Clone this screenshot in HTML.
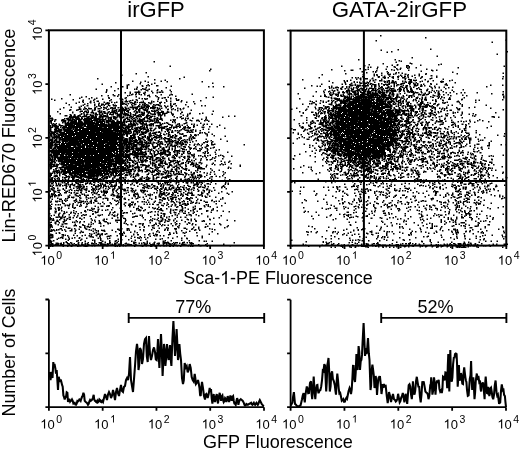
<!DOCTYPE html>
<html><head><meta charset="utf-8"><style>
html,body{margin:0;padding:0;background:#fff;width:520px;height:449px;overflow:hidden}
svg{display:block;will-change:transform}
text{font-family:"Liberation Sans",sans-serif}
</style></head><body>
<svg width="520" height="449" viewBox="0 0 520 449" font-family="Liberation Sans, sans-serif" fill="#000"><g transform="scale(0.5)"><path d="M307 123.5h3m29 9h3m78 6h3m-5 3h3m-130 4h3m-23 2h3m-32 3h3m50 3h3m69 1h3m-176 3h3m161 0h3m-53 2h3m18 1h3m-68 2h3m22 0h3m29 0h3m9 1h3m67 0h3m-126 1h3m12 0h3m-68 1h3m75 1h3m113 0h3m-148 1h3m-79 1h3m96 0h3m-49 1h3m36 0h3m-45 1h3m27 1h3m6 0h3m2 0h3m12 0h3m-1 0h3m-33 1h3m54 0h3m-123 1h3m20 0h3m6 0h3m160 0h3m6 0h3m18 0h3m-176 1h3m15 1h3m37 0h3m-94 1h3m10 0h3m-21 1h3m34 0h3m9 0h3m-96 1h3m74 0h3m1 0h3m12 0h3m-1 0h3m5 0h3m-88 1h3m66 0h3m30 0h3m-26 1h3m-1 0h3m-2 0h3m42 0h3m-130 1h3m13 0h3m63 0h3m16 0h3m6 0h3m-49 1h3m23 0h3m36 1h3m-133 1h3m45 0h3m7 0h3m0 0h3m-1 0h3m1 0h3m8 0h3m25 0h3m0 0h3m1 0h3m-78 1h3m24 0h3m25 0h3m6 0h3m-57 1h3m24 0h3m-18 1h3m14 0h3m-27 1h3m10 0h3m61 0h3m39 0h3m-247 1h3m83 0h3m8 0h3m23 0h3m5 0h3m8 0h3m4 0h3m30 0h3m19 0h3m-88 1h3m36 0h3m38 0h3m-139 1h3m10 0h3m9 0h3m-2 0h3m23 0h3m37 0h3m13 0h3m-79 1h3m113 0h3m-182 1h3m97 0h3m24 0h3m12 0h3m-154 1h3m170 0h3m87 0h3m-246 1h3m31 0h3m32 0h3m62 0h3m8 0h3m-1 0h3m79 0h3m-256 1h3m31 0h3m22 0h3m29 0h3m25 0h3m43 0h3m14 0h3m-221 1h3m52 0h3m59 0h3m0 0h3m38 0h3m2 0h3m2 0h3m44 0h3m8 0h3m-252 1h3m83 0h3m13 0h3m83 0h3m22 0h3m-173 1h3m73 0h3m20 0h3m24 0h3m57 0h3m22 0h3m-251 1h3m54 0h3m18 0h3m62 0h3m10 0h3m6 0h3m76 0h3m0 0h3m-140 1h3m39 0h3m99 0h3m35 0h3m-239 1h3m13 0h3m10 0h3m-1 0h3m59 0h3m25 0h3m14 0h3m9 0h3m15 0h3m5 0h3m-100 1h3m3 0h3m0 0h3m-2 0h3m13 0h3m34 0h3m52 0h3m22 0h3m-232 1h3m5 0h3m11 0h3m5 0h3m17 0h3m12 0h3m7 0h3m9 0h3m21 0h3m-2 0h3m1 0h3m5 0h3m37 0h3m48 0h3m-195 1h3m31 0h3m11 0h3m28 0h3m0 0h3m13 0h3m2 0h3m0 0h3m7 0h3m3 0h3m13 0h3m7 0h3m-200 1h3m17 0h3m43 0h3m11 0h3m0 0h3m-2 0h3m-1 0h3m44 0h3m21 0h3m8 0h3m-2 0h3m37 0h3m-169 1h3m66 0h3m0 0h3m-2 0h3m5 0h3m9 0h3m19 0h3m8 0h3m16 0h3m18 0h3m6 0h3m36 0h3m-223 1h3m17 0h3m5 0h3m3 0h3m0 0h3m2 0h3m31 0h3m3 0h3m-2 0h3m14 0h3m-1 0h3m15 0h3m55 0h3m-212 1h3m75 0h3m7 0h3m12 0h3m19 0h3m3 0h3m7 0h3m3 0h3m5 0h3m11 0h3m3 0h3m0 0h3m52 0h3m-208 1h3m20 0h3m11 0h3m2 0h3m6 0h3m10 0h3m55 0h3m4 0h3m-2 0h3m11 0h3m4 0h3m21 0h3m-170 1h3m-2 0h3m11 0h3m5 0h3m19 0h3m5 0h3m2 0h3m19 0h3m8 0h3m9 0h3m10 0h3m1 0h3m22 0h3m7 0h3m20 0h3m48 0h3m4 0h3m-251 1h3m35 0h3m62 0h3m15 0h3m2 0h3m-2 0h3m4 0h3m-1 0h3m4 0h3m14 0h3m10 0h3m4 0h3m-1 0h3m-154 1h3m18 0h3m25 0h3m-2 0h3m29 0h3m0 0h3m1 0h3m8 0h3m11 0h3m21 0h3m42 0h3m-237 1h3m13 0h3m8 0h3m35 0h3m20 0h3m17 0h3m7 0h3m-1 0h3m-2 0h3m-2 0h3m2 0h3m0 0h3m11 0h3m-1 0h3m2 0h3m0 0h3m11 0h3m-186 1h3m29 0h3m28 0h3m9 0h3m4 0h3m10 0h3m-1 0h3m9 0h3m1 0h3m1 0h3m17 0h3m-1 0h3m14 0h3m6 0h3m6 0h3m0 0h3m-1 0h3m5 0h3m15 0h3m7 0h3m-168 1h3m9 0h3m20 0h3m6 0h3m1 0h3m0 0h3m-1 0h3m10 0h3m-1 0h3m3 0h3m-2 0h3m1 0h3m7 0h3m-2 0h3m1 0h3m0 0h3m5 0h3m11 0h3m2 0h3m1 0h3m-2 0h3m-1 0h3m4 0h3m1 0h3m1 0h3m29 0h3m9 0h3m-200 1h3m-2 0h3m-2 0h3m4 0h3m0 0h3m11 0h3m0 0h3m44 0h3m25 0h3m2 0h3m3 0h3m3 0h3m12 0h3m0 0h3m34 0h3m6 0h3m2 0h3m3 0h3m-249 1h3m35 0h3m0 0h3m3 0h3m19 0h3m-2 0h3m14 0h3m7 0h3m5 0h3m16 0h3m3 0h3m0 0h3m3 0h3m4 0h3m18 0h3m-2 0h3m25 0h3m17 0h3m-198 1h3m12 0h3m16 0h3m36 0h3m16 0h3m2 0h3m5 0h3m0 0h3m-2 0h3m5 0h3m11 0h3m2 0h3m-1 0h3m9 0h3m1 0h3m22 0h3m12 0h3m5 0h3m4 0h3m8 0h3m-225 1h3m11 0h3m29 0h3m1 0h3m32 0h3m2 0h3m-1 0h3m11 0h3m3 0h3m37 0h3m-1 0h3m17 0h3m-2 0h3m65 0h3m-186 1h3m26 0h3m1 0h3m3 0h3m-2 0h3m-1 0h3m11 0h3m-2 0h3m11 0h3m4 0h3m-1 0h3m6 0h3m12 0h3m3 0h3m43 0h3m-197 1h3m0 0h3m3 0h3m-1 0h3m1 0h3m5 0h3m9 0h3m4 0h3m20 0h3m0 0h3m5 0h3m4 0h3m1 0h3m2 0h3m0 0h3m35 0h3m7 0h3m0 0h3m1 0h3m2 0h3m4 0h3m100 0h3m-314 1h3m42 0h3m6 0h3m27 0h3m5 0h3m-1 0h3m6 0h3m3 0h3m6 0h3m7 0h3m2 0h3m17 0h3m2 0h3m17 0h3m2 0h3m8 0h3m14 0h3m6 0h3m-193 1h3m28 0h3m6 0h3m10 0h3m-1 0h3m0 0h3m10 0h3m4 0h3m49 0h3m1 0h3m1 0h3m10 0h3m17 0h3m4 0h3m8 0h3m0 0h3m2 0h3m18 0h3m-2 0h3m-222 1h3m19 0h3m3 0h3m6 0h3m-2 0h3m0 0h3m10 0h3m19 0h3m3 0h3m0 0h3m11 0h3m2 0h3m4 0h3m1 0h3m11 0h3m7 0h3m1 0h3m8 0h3m12 0h3m1 0h3m-1 0h3m2 0h3m-141 1h3m1 0h3m-2 0h3m13 0h3m0 0h3m1 0h3m8 0h3m5 0h3m34 0h3m12 0h3m7 0h3m10 0h3m15 0h3m2 0h3m-2 0h3m44 0h3m22 0h3m-288 1h3m40 0h3m26 0h3m9 0h3m24 0h3m11 0h3m2 0h3m0 0h3m5 0h3m21 0h3m0 0h3m10 0h3m12 0h3m10 0h3m11 0h3m15 0h3m15 0h3m17 0h3m-240 1h3m3 0h3m4 0h3m20 0h3m-2 0h3m12 0h3m2 0h3m-2 0h3m15 0h3m-2 0h3m-2 0h3m-2 0h3m3 0h3m11 0h3m18 0h3m-2 0h3m18 0h3m-1 0h3m1 0h3m3 0h3m0 0h3m3 0h3m18 0h3m26 0h3m46 0h3m-287 1h3m6 0h3m21 0h3m4 0h3m-2 0h3m6 0h3m1 0h3m8 0h3m6 0h3m6 0h3m0 0h3m6 0h3m0 0h3m8 0h3m-1 0h3m-2 0h3m-1 0h3m-1 0h3m7 0h3m1 0h3m5 0h3m14 0h3m11 0h3m4 0h3m0 0h3m-2 0h3m-181 1h3m3 0h3m8 0h3m6 0h3m1 0h3m10 0h3m-2 0h3m2 0h3m8 0h3m29 0h3m20 0h3m8 0h3m0 0h3m6 0h3m1 0h3m0 0h3m4 0h3m26 0h3m3 0h3m13 0h3m18 0h3m-270 1h3m28 0h3m0 0h3m5 0h3m12 0h3m-2 0h3m21 0h3m-1 0h3m14 0h3m4 0h3m0 0h3m1 0h3m19 0h3m-1 0h3m9 0h3m1 0h3m3 0h3m12 0h3m15 0h3m-1 0h3m0 0h3m16 0h3m1 0h3m5 0h3m43 0h3m-278 1h3m46 0h3m-2 0h3m7 0h3m5 0h3m-1 0h3m-2 0h3m11 0h3m11 0h3m0 0h3m5 0h3m-2 0h3m-2 0h3m0 0h3m28 0h3m13 0h3m8 0h3m0 0h3m1 0h3m12 0h3m3 0h3m1 0h3m66 0h3m80 0h3m9 0h3m-333 1h3m0 0h3m1 0h3m-2 0h3m-1 0h3m-2 0h3m1 0h3m8 0h3m5 0h3m1 0h3m-2 0h3m6 0h3m1 0h3m-2 0h3m6 0h3m0 0h3m0 0h3m3 0h3m10 0h3m0 0h3m3 0h3m1 0h3m18 0h3m3 0h3m8 0h3m0 0h3m-1 0h3m7 0h3m-2 0h3m-1 0h3m4 0h3m4 0h3m9 0h3m24 0h3m11 0h3m-226 1h3m0 0h3m0 0h3m-1 0h3m-2 0h3m2 0h3m0 0h3m4 0h3m8 0h3m6 0h3m-1 0h3m2 0h3m5 0h3m0 0h3m12 0h3m3 0h3m2 0h3m2 0h3m11 0h3m-2 0h3m8 0h3m3 0h3m5 0h3m27 0h3m55 0h3m49 0h3m30 0h3m-307 1h3m-1 0h3m29 0h3m-1 0h3m2 0h3m1 0h3m-2 0h3m29 0h3m11 0h3m4 0h3m1 0h3m7 0h3m32 0h3m1 0h3m-2 0h3m2 0h3m-2 0h3m-2 0h3m10 0h3m37 0h3m-257 1h3m-1 0h3m-1 0h3m29 0h3m6 0h3m3 0h3m4 0h3m2 0h3m3 0h3m5 0h3m1 0h3m-2 0h3m-2 0h3m3 0h3m0 0h3m3 0h3m-2 0h3m3 0h3m3 0h3m8 0h3m2 0h3m0 0h3m8 0h3m8 0h3m7 0h3m4 0h3m2 0h3m38 0h3m3 0h3m42 0h3m2 0h3m2 0h3m6 0h3m24 0h3m-286 1h3m1 0h3m4 0h3m10 0h3m-2 0h3m-1 0h3m4 0h3m-2 0h3m3 0h3m-1 0h3m1 0h3m-1 0h3m-2 0h3m-2 0h3m-1 0h3m-1 0h3m2 0h3m-2 0h3m2 0h3m1 0h3m3 0h3m8 0h3m3 0h3m3 0h3m-2 0h3m9 0h3m22 0h3m5 0h3m2 0h3m4 0h3m6 0h3m-1 0h3m-2 0h3m7 0h3m-2 0h3m-1 0h3m9 0h3m37 0h3m9 0h3m-273 1h3m29 0h3m-1 0h3m2 0h3m-2 0h3m-2 0h3m-2 0h3m5 0h3m-1 0h3m2 0h3m8 0h3m-1 0h3m-2 0h3m-1 0h3m-1 0h3m1 0h3m-2 0h3m4 0h3m4 0h3m0 0h3m-1 0h3m4 0h3m3 0h3m1 0h3m7 0h3m14 0h3m-1 0h3m2 0h3m0 0h3m17 0h3m7 0h3m17 0h3m7 0h3m0 0h3m79 0h3m-302 1h3m3 0h3m-2 0h3m10 0h3m0 0h3m5 0h3m1 0h3m2 0h3m1 0h3m-2 0h3m6 0h3m-2 0h3m5 0h3m-2 0h3m1 0h3m-2 0h3m-2 0h3m0 0h3m-1 0h3m7 0h3m0 0h3m1 0h3m4 0h3m1 0h3m-2 0h3m0 0h3m50 0h3m3 0h3m9 0h3m-2 0h3m-1 0h3m-1 0h3m9 0h3m-1 0h3m9 0h3m-2 0h3m29 0h3m1 0h3m17 0h3m38 0h3m-313 1h3m0 0h3m19 0h3m13 0h3m3 0h3m0 0h3m-1 0h3m-1 0h3m-1 0h3m1 0h3m6 0h3m0 0h3m-1 0h3m-1 0h3m3 0h3m-2 0h3m0 0h3m4 0h3m4 0h3m3 0h3m9 0h3m-2 0h3m1 0h3m8 0h3m9 0h3m-1 0h3m7 0h3m9 0h3m5 0h3m0 0h3m19 0h3m17 0h3m14 0h3m3 0h3m30 0h3m11 0h3m-1 0h3m15 0h3m-294 1h3m2 0h3m0 0h3m3 0h3m-1 0h3m-2 0h3m0 0h3m3 0h3m-1 0h3m-2 0h3m-2 0h3m-1 0h3m-1 0h3m-2 0h3m7 0h3m1 0h3m1 0h3m-2 0h3m-2 0h3m2 0h3m-2 0h3m-2 0h3m-2 0h3m-2 0h3m-2 0h3m-2 0h3m0 0h3m-2 0h3m-2 0h3m1 0h3m-1 0h3m2 0h3m5 0h3m-1 0h3m-2 0h3m0 0h3m3 0h3m-1 0h3m4 0h3m10 0h3m17 0h3m6 0h3m3 0h3m10 0h3m5 0h3m2 0h3m1 0h3m1 0h3m53 0h3m8 0h3m7 0h3m13 0h3m-303 1h3m30 0h3m0 0h3m2 0h3m-2 0h3m-2 0h3m-1 0h3m1 0h3m-2 0h3m7 0h3m-2 0h3m-2 0h3m-2 0h3m5 0h3m-2 0h3m8 0h3m20 0h3m2 0h3m0 0h3m23 0h3m2 0h3m0 0h3m-2 0h3m-1 0h3m-1 0h3m4 0h3m-1 0h3m1 0h3m-1 0h3m3 0h3m-2 0h3m1 0h3m0 0h3m0 0h3m4 0h3m1 0h3m5 0h3m33 0h3m46 0h3m16 0h3m-320 1h3m-2 0h3m-2 0h3m22 0h3m13 0h3m0 0h3m3 0h3m4 0h3m-2 0h3m-2 0h3m-2 0h3m4 0h3m-2 0h3m0 0h3m-1 0h3m-2 0h3m0 0h3m2 0h3m5 0h3m0 0h3m-2 0h3m1 0h3m-2 0h3m-2 0h3m0 0h3m0 0h3m1 0h3m-2 0h3m0 0h3m9 0h3m4 0h3m0 0h3m-1 0h3m5 0h3m2 0h3m5 0h3m2 0h3m2 0h3m6 0h3m-1 0h3m13 0h3m44 0h3m-223 1h3m2 0h3m3 0h3m5 0h3m0 0h3m0 0h3m-2 0h3m2 0h3m4 0h3m-2 0h3m4 0h3m-2 0h3m-2 0h3m-2 0h3m-2 0h3m-2 0h3m-1 0h3m-2 0h3m-2 0h3m-2 0h3m-1 0h3m-1 0h3m-1 0h3m9 0h3m2 0h3m-2 0h3m4 0h3m1 0h3m-2 0h3m2 0h3m1 0h3m4 0h3m3 0h3m-1 0h3m1 0h3m0 0h3m1 0h3m23 0h3m4 0h3m22 0h3m0 0h3m1 0h3m25 0h3m-246 1h3m20 0h3m6 0h3m4 0h3m-2 0h3m11 0h3m0 0h3m-1 0h3m-2 0h3m-2 0h3m4 0h3m6 0h3m-2 0h3m-1 0h3m-2 0h3m0 0h3m-1 0h3m1 0h3m-2 0h3m-1 0h3m1 0h3m-1 0h3m-2 0h3m1 0h3m3 0h3m0 0h3m6 0h3m1 0h3m-2 0h3m-1 0h3m-2 0h3m-2 0h3m-2 0h3m-1 0h3m9 0h3m34 0h3m-2 0h3m20 0h3m-2 0h3m1 0h3m-2 0h3m1 0h3m11 0h3m14 0h3m20 0h3m-274 1h3m30 0h3m-1 0h3m0 0h3m-1 0h3m-2 0h3m-1 0h3m-1 0h3m0 0h3m0 0h3m-1 0h3m-1 0h3m-2 0h3m-2 0h3m-2 0h3m-1 0h3m0 0h3m-2 0h3m-1 0h3m0 0h3m-1 0h3m-2 0h3m2 0h3m1 0h3m-1 0h3m0 0h3m4 0h3m-2 0h3m1 0h3m0 0h3m2 0h3m11 0h3m-2 0h3m3 0h3m1 0h3m-2 0h3m3 0h3m-2 0h3m-2 0h3m16 0h3m3 0h3m-1 0h3m1 0h3m4 0h3m9 0h3m25 0h3m6 0h3m3 0h3m33 0h3m27 0h3m-297 1h3m2 0h3m15 0h3m-1 0h3m-1 0h3m-2 0h3m-2 0h3m-1 0h3m-2 0h3m1 0h3m1 0h3m2 0h3m0 0h3m-1 0h3m-1 0h3m-1 0h3m-1 0h3m-1 0h3m-2 0h3m-2 0h3m-1 0h3m-1 0h3m-2 0h3m-1 0h3m0 0h3m1 0h3m-2 0h3m1 0h3m0 0h3m-1 0h3m-2 0h3m2 0h3m4 0h3m10 0h3m2 0h3m-2 0h3m0 0h3m-1 0h3m-2 0h3m-2 0h3m2 0h3m-1 0h3m5 0h3m15 0h3m1 0h3m11 0h3m-1 0h3m1 0h3m12 0h3m1 0h3m16 0h3m30 0h3m7 0h3m-267 1h3m11 0h3m19 0h3m1 0h3m6 0h3m-2 0h3m-2 0h3m-1 0h3m-1 0h3m-2 0h3m-2 0h3m-1 0h3m-2 0h3m-1 0h3m-2 0h3m-1 0h3m-1 0h3m1 0h3m6 0h3m7 0h3m-1 0h3m-2 0h3m0 0h3m1 0h3m-2 0h3m-1 0h3m8 0h3m2 0h3m-2 0h3m7 0h3m-2 0h3m11 0h3m5 0h3m0 0h3m11 0h3m-2 0h3m6 0h3m2 0h3m8 0h3m1 0h3m14 0h3m13 0h3m15 0h3m25 0h3m2 0h3m17 0h3m3 0h3m6 0h3m-318 1h3m-1 0h3m6 0h3m10 0h3m1 0h3m-1 0h3m-2 0h3m-2 0h3m0 0h3m2 0h3m-1 0h3m4 0h3m0 0h3m0 0h3m0 0h3m1 0h3m-2 0h3m1 0h3m-2 0h3m-2 0h3m-2 0h3m-1 0h3m-1 0h3m-1 0h3m-2 0h3m-1 0h3m1 0h3m0 0h3m-1 0h3m4 0h3m0 0h3m-2 0h3m-1 0h3m-1 0h3m-2 0h3m-2 0h3m1 0h3m1 0h3m-2 0h3m-2 0h3m-1 0h3m-1 0h3m-1 0h3m-2 0h3m0 0h3m0 0h3m9 0h3m9 0h3m-2 0h3m-1 0h3m-1 0h3m2 0h3m1 0h3m13 0h3m-1 0h3m3 0h3m19 0h3m-1 0h3m15 0h3m-239 1h3m2 0h3m6 0h3m-2 0h3m9 0h3m1 0h3m0 0h3m-2 0h3m-2 0h3m-1 0h3m-2 0h3m2 0h3m3 0h3m-1 0h3m1 0h3m-1 0h3m-2 0h3m-1 0h3m3 0h3m1 0h3m2 0h3m-2 0h3m0 0h3m5 0h3m2 0h3m1 0h3m-1 0h3m0 0h3m-2 0h3m-2 0h3m-1 0h3m-2 0h3m-2 0h3m-1 0h3m2 0h3m-2 0h3m-2 0h3m-2 0h3m-2 0h3m2 0h3m0 0h3m-1 0h3m7 0h3m0 0h3m2 0h3m10 0h3m1 0h3m14 0h3m6 0h3m1 0h3m1 0h3m1 0h3m34 0h3m-2 0h3m5 0h3m4 0h3m2 0h3m7 0h3m17 0h3m9 0h3m30 0h3m-342 1h3m3 0h3m3 0h3m7 0h3m0 0h3m2 0h3m2 0h3m0 0h3m0 0h3m2 0h3m-2 0h3m-2 0h3m1 0h3m-2 0h3m-2 0h3m0 0h3m-1 0h3m-1 0h3m-1 0h3m-1 0h3m1 0h3m0 0h3m2 0h3m-2 0h3m-2 0h3m-2 0h3m-1 0h3m-1 0h3m-2 0h3m0 0h3m3 0h3m-2 0h3m-2 0h3m1 0h3m-1 0h3m-1 0h3m-2 0h3m-1 0h3m-2 0h3m-1 0h3m10 0h3m-1 0h3m-1 0h3m6 0h3m-2 0h3m1 0h3m-1 0h3m0 0h3m-1 0h3m5 0h3m11 0h3m20 0h3m4 0h3m-1 0h3m1 0h3m3 0h3m-1 0h3m-2 0h3m0 0h3m0 0h3m63 0h3m-290 1h3m11 0h3m15 0h3m7 0h3m-2 0h3m1 0h3m-2 0h3m1 0h3m-2 0h3m-2 0h3m4 0h3m7 0h3m-2 0h3m-2 0h3m-2 0h3m-1 0h3m-2 0h3m-1 0h3m0 0h3m-1 0h3m-1 0h3m-2 0h3m-2 0h3m-1 0h3m-2 0h3m-2 0h3m-2 0h3m-2 0h3m1 0h3m-1 0h3m3 0h3m-1 0h3m4 0h3m-2 0h3m-2 0h3m0 0h3m5 0h3m0 0h3m-2 0h3m-1 0h3m-1 0h3m13 0h3m-1 0h3m0 0h3m-2 0h3m1 0h3m0 0h3m16 0h3m1 0h3m43 0h3m15 0h3m-2 0h3m0 0h3m29 0h3m-286 1h3m1 0h3m0 0h3m0 0h3m-2 0h3m8 0h3m-2 0h3m-1 0h3m1 0h3m1 0h3m-2 0h3m-2 0h3m-2 0h3m-2 0h3m1 0h3m-1 0h3m-2 0h3m-2 0h3m-1 0h3m-2 0h3m1 0h3m-1 0h3m-2 0h3m10 0h3m-1 0h3m-1 0h3m0 0h3m1 0h3m-1 0h3m-2 0h3m-1 0h3m-2 0h3m0 0h3m-1 0h3m-1 0h3m-2 0h3m-2 0h3m0 0h3m3 0h3m-2 0h3m0 0h3m0 0h3m0 0h3m-2 0h3m-2 0h3m-2 0h3m-2 0h3m-1 0h3m-2 0h3m2 0h3m5 0h3m15 0h3m2 0h3m1 0h3m13 0h3m45 0h3m0 0h3m8 0h3m14 0h3m7 0h3m3 0h3m40 0h3m12 0h3m-337 1h3m0 0h3m-2 0h3m7 0h3m4 0h3m12 0h3m0 0h3m-2 0h3m-2 0h3m-2 0h3m-2 0h3m4 0h3m3 0h3m-2 0h3m0 0h3m-1 0h3m1 0h3m-2 0h3m-2 0h3m-1 0h3m2 0h3m-1 0h3m-1 0h3m0 0h3m-1 0h3m0 0h3m-2 0h3m-2 0h3m-1 0h3m-2 0h3m0 0h3m-2 0h3m-1 0h3m-2 0h3m-2 0h3m-2 0h3m-2 0h3m-2 0h3m3 0h3m-2 0h3m0 0h3m2 0h3m1 0h3m0 0h3m-2 0h3m0 0h3m-2 0h3m-1 0h3m5 0h3m1 0h3m4 0h3m1 0h3m0 0h3m3 0h3m9 0h3m1 0h3m10 0h3m-2 0h3m20 0h3m-2 0h3m2 0h3m0 0h3m18 0h3m0 0h3m6 0h3m5 0h3m17 0h3m14 0h3m0 0h3m-310 1h3m8 0h3m11 0h3m0 0h3m1 0h3m4 0h3m0 0h3m-2 0h3m-1 0h3m-2 0h3m-1 0h3m-2 0h3m-1 0h3m0 0h3m-2 0h3m-1 0h3m-1 0h3m-2 0h3m0 0h3m-1 0h3m2 0h3m2 0h3m-1 0h3m-2 0h3m-2 0h3m-2 0h3m0 0h3m-1 0h3m3 0h3m0 0h3m-2 0h3m3 0h3m-1 0h3m3 0h3m-1 0h3m-2 0h3m-1 0h3m-1 0h3m2 0h3m2 0h3m0 0h3m0 0h3m0 0h3m-2 0h3m-1 0h3m-1 0h3m3 0h3m-2 0h3m2 0h3m-2 0h3m-2 0h3m-1 0h3m13 0h3m-2 0h3m1 0h3m6 0h3m0 0h3m29 0h3m15 0h3m0 0h3m8 0h3m15 0h3m1 0h3m-1 0h3m0 0h3m-282 1h3m8 0h3m0 0h3m9 0h3m-1 0h3m3 0h3m-2 0h3m-1 0h3m0 0h3m-2 0h3m1 0h3m-2 0h3m2 0h3m-1 0h3m6 0h3m0 0h3m2 0h3m4 0h3m-1 0h3m2 0h3m0 0h3m0 0h3m4 0h3m-1 0h3m2 0h3m-2 0h3m-2 0h3m-2 0h3m1 0h3m-2 0h3m0 0h3m0 0h3m-2 0h3m-2 0h3m-1 0h3m1 0h3m-1 0h3m1 0h3m-2 0h3m-2 0h3m-2 0h3m-1 0h3m-2 0h3m-2 0h3m3 0h3m5 0h3m12 0h3m7 0h3m0 0h3m0 0h3m12 0h3m0 0h3m5 0h3m4 0h3m5 0h3m-1 0h3m16 0h3m19 0h3m6 0h3m68 0h3m-335 1h3m7 0h3m7 0h3m1 0h3m7 0h3m0 0h3m-2 0h3m-2 0h3m0 0h3m0 0h3m-1 0h3m0 0h3m2 0h3m0 0h3m1 0h3m3 0h3m-2 0h3m1 0h3m-2 0h3m-2 0h3m0 0h3m-2 0h3m-1 0h3m-1 0h3m-2 0h3m-1 0h3m4 0h3m5 0h3m-1 0h3m-2 0h3m7 0h3m2 0h3m-1 0h3m8 0h3m-2 0h3m4 0h3m3 0h3m8 0h3m10 0h3m4 0h3m26 0h3m9 0h3m27 0h3m-259 1h3m-2 0h3m4 0h3m2 0h3m-2 0h3m2 0h3m3 0h3m2 0h3m-2 0h3m-2 0h3m9 0h3m-1 0h3m-2 0h3m-1 0h3m-2 0h3m-2 0h3m-2 0h3m-2 0h3m-2 0h3m-2 0h3m-1 0h3m0 0h3m-1 0h3m-2 0h3m-2 0h3m-1 0h3m0 0h3m-2 0h3m-2 0h3m-2 0h3m-2 0h3m-2 0h3m-2 0h3m-1 0h3m-2 0h3m-1 0h3m-1 0h3m0 0h3m2 0h3m-2 0h3m-2 0h3m-2 0h3m1 0h3m-1 0h3m3 0h3m-1 0h3m-2 0h3m1 0h3m4 0h3m-2 0h3m-2 0h3m-1 0h3m4 0h3m1 0h3m-2 0h3m-2 0h3m2 0h3m3 0h3m-2 0h3m4 0h3m-2 0h3m4 0h3m-1 0h3m5 0h3m1 0h3m-2 0h3m0 0h3m2 0h3m3 0h3m5 0h3m20 0h3m2 0h3m28 0h3m35 0h3m8 0h3m-320 1h3m-2 0h3m8 0h3m4 0h3m-1 0h3m3 0h3m1 0h3m4 0h3m-1 0h3m3 0h3m-2 0h3m2 0h3m-1 0h3m0 0h3m9 0h3m-1 0h3m-1 0h3m-2 0h3m0 0h3m0 0h3m0 0h3m1 0h3m-2 0h3m1 0h3m-1 0h3m0 0h3m0 0h3m1 0h3m-2 0h3m0 0h3m2 0h3m-2 0h3m0 0h3m1 0h3m1 0h3m-2 0h3m0 0h3m2 0h3m-2 0h3m-2 0h3m3 0h3m0 0h3m2 0h3m-1 0h3m5 0h3m8 0h3m-1 0h3m4 0h3m3 0h3m6 0h3m-2 0h3m9 0h3m22 0h3m4 0h3m19 0h3m21 0h3m-288 1h3m9 0h3m-2 0h3m-2 0h3m-2 0h3m9 0h3m3 0h3m-2 0h3m-2 0h3m-1 0h3m0 0h3m-2 0h3m-2 0h3m-2 0h3m-2 0h3m-2 0h3m-1 0h3m-2 0h3m0 0h3m-2 0h3m-1 0h3m-2 0h3m-2 0h3m-1 0h3m-1 0h3m-1 0h3m3 0h3m-2 0h3m0 0h3m4 0h3m-1 0h3m-2 0h3m0 0h3m1 0h3m-2 0h3m-2 0h3m2 0h3m-2 0h3m-1 0h3m-1 0h3m2 0h3m-2 0h3m-1 0h3m1 0h3m3 0h3m-2 0h3m-1 0h3m0 0h3m2 0h3m-2 0h3m1 0h3m-2 0h3m-1 0h3m-1 0h3m7 0h3m2 0h3m0 0h3m6 0h3m0 0h3m-2 0h3m1 0h3m1 0h3m9 0h3m0 0h3m25 0h3m9 0h3m-2 0h3m31 0h3m0 0h3m0 0h3m2 0h3m-1 0h3m5 0h3m-294 1h3m7 0h3m1 0h3m-2 0h3m1 0h3m1 0h3m3 0h3m-2 0h3m5 0h3m-1 0h3m3 0h3m-2 0h3m-2 0h3m-2 0h3m-2 0h3m-2 0h3m-1 0h3m-2 0h3m-1 0h3m-1 0h3m2 0h3m-2 0h3m-1 0h3m-1 0h3m-1 0h3m-2 0h3m-1 0h3m-1 0h3m-2 0h3m-2 0h3m0 0h3m-2 0h3m-1 0h3m-1 0h3m-1 0h3m1 0h3m3 0h3m-2 0h3m-2 0h3m-2 0h3m3 0h3m4 0h3m1 0h3m3 0h3m-2 0h3m1 0h3m1 0h3m-2 0h3m1 0h3m0 0h3m1 0h3m0 0h3m2 0h3m2 0h3m8 0h3m6 0h3m12 0h3m0 0h3m2 0h3m-1 0h3m1 0h3m14 0h3m18 0h3m3 0h3m1 0h3m1 0h3m-2 0h3m15 0h3m20 0h3m-294 1h3m0 0h3m-2 0h3m5 0h3m8 0h3m-2 0h3m-2 0h3m1 0h3m-1 0h3m-2 0h3m-1 0h3m0 0h3m-2 0h3m-2 0h3m1 0h3m-2 0h3m2 0h3m-1 0h3m-2 0h3m-2 0h3m2 0h3m-2 0h3m1 0h3m-2 0h3m-2 0h3m1 0h3m0 0h3m-2 0h3m-1 0h3m-1 0h3m-1 0h3m1 0h3m-1 0h3m0 0h3m0 0h3m-1 0h3m-1 0h3m-2 0h3m0 0h3m-1 0h3m-1 0h3m-2 0h3m-1 0h3m-1 0h3m-2 0h3m10 0h3m-2 0h3m3 0h3m0 0h3m5 0h3m6 0h3m0 0h3m4 0h3m-2 0h3m24 0h3m36 0h3m6 0h3m44 0h3m-293 1h3m-1 0h3m8 0h3m-2 0h3m-2 0h3m10 0h3m-1 0h3m-2 0h3m-1 0h3m-1 0h3m-2 0h3m-2 0h3m-2 0h3m1 0h3m1 0h3m-1 0h3m-2 0h3m-2 0h3m-1 0h3m3 0h3m1 0h3m-2 0h3m2 0h3m-1 0h3m-2 0h3m-2 0h3m-2 0h3m-2 0h3m-2 0h3m0 0h3m-2 0h3m-2 0h3m-2 0h3m-2 0h3m0 0h3m-2 0h3m3 0h3m-1 0h3m-2 0h3m0 0h3m1 0h3m1 0h3m0 0h3m-2 0h3m-2 0h3m-2 0h3m-1 0h3m1 0h3m-1 0h3m0 0h3m-2 0h3m7 0h3m1 0h3m-2 0h3m-1 0h3m-1 0h3m-2 0h3m-2 0h3m3 0h3m-1 0h3m-1 0h3m-1 0h3m6 0h3m2 0h3m-2 0h3m-2 0h3m2 0h3m1 0h3m5 0h3m-1 0h3m-1 0h3m20 0h3m9 0h3m43 0h3m-2 0h3m3 0h3m-283 1h3m-2 0h3m-1 0h3m1 0h3m6 0h3m-1 0h3m3 0h3m-1 0h3m4 0h3m-2 0h3m-1 0h3m-1 0h3m-2 0h3m-2 0h3m0 0h3m0 0h3m-2 0h3m-2 0h3m-2 0h3m-2 0h3m1 0h3m-2 0h3m-2 0h3m1 0h3m-2 0h3m1 0h3m0 0h3m0 0h3m3 0h3m0 0h3m3 0h3m1 0h3m3 0h3m-1 0h3m-1 0h3m1 0h3m-1 0h3m5 0h3m0 0h3m-1 0h3m0 0h3m2 0h3m1 0h3m2 0h3m-1 0h3m-2 0h3m5 0h3m-1 0h3m-1 0h3m0 0h3m2 0h3m13 0h3m2 0h3m0 0h3m0 0h3m0 0h3m17 0h3m1 0h3m-2 0h3m-1 0h3m16 0h3m2 0h3m-1 0h3m9 0h3m14 0h3m2 0h3m-1 0h3m1 0h3m29 0h3m-321 1h3m2 0h3m-2 0h3m0 0h3m9 0h3m-1 0h3m-1 0h3m-2 0h3m-2 0h3m0 0h3m0 0h3m-1 0h3m0 0h3m-2 0h3m2 0h3m-1 0h3m-2 0h3m-2 0h3m1 0h3m1 0h3m-2 0h3m2 0h3m-2 0h3m-2 0h3m-1 0h3m-2 0h3m0 0h3m-2 0h3m-1 0h3m-2 0h3m0 0h3m0 0h3m-2 0h3m-2 0h3m-2 0h3m-2 0h3m-2 0h3m-2 0h3m-1 0h3m-1 0h3m2 0h3m-2 0h3m-1 0h3m1 0h3m4 0h3m1 0h3m4 0h3m-2 0h3m0 0h3m-2 0h3m-1 0h3m-2 0h3m-2 0h3m8 0h3m-2 0h3m-2 0h3m3 0h3m5 0h3m9 0h3m2 0h3m8 0h3m-2 0h3m0 0h3m0 0h3m7 0h3m5 0h3m-1 0h3m24 0h3m15 0h3m42 0h3m1 0h3m2 0h3m-306 1h3m-1 0h3m2 0h3m10 0h3m-1 0h3m-2 0h3m-2 0h3m0 0h3m1 0h3m-2 0h3m-1 0h3m-2 0h3m-2 0h3m0 0h3m-2 0h3m-2 0h3m0 0h3m1 0h3m1 0h3m0 0h3m-2 0h3m-1 0h3m-2 0h3m-2 0h3m3 0h3m-2 0h3m-2 0h3m-2 0h3m0 0h3m-2 0h3m-2 0h3m-1 0h3m-2 0h3m-2 0h3m1 0h3m-1 0h3m0 0h3m-1 0h3m-2 0h3m0 0h3m-2 0h3m-2 0h3m-2 0h3m1 0h3m4 0h3m-2 0h3m1 0h3m-2 0h3m-2 0h3m-2 0h3m2 0h3m-1 0h3m2 0h3m-1 0h3m-1 0h3m3 0h3m10 0h3m2 0h3m11 0h3m7 0h3m3 0h3m11 0h3m0 0h3m10 0h3m75 0h3m-300 1h3m-2 0h3m7 0h3m-1 0h3m10 0h3m-2 0h3m-2 0h3m2 0h3m4 0h3m1 0h3m-1 0h3m-2 0h3m0 0h3m-1 0h3m-2 0h3m-2 0h3m-1 0h3m0 0h3m-2 0h3m-1 0h3m-2 0h3m1 0h3m-2 0h3m4 0h3m-2 0h3m1 0h3m-2 0h3m7 0h3m-2 0h3m0 0h3m-1 0h3m1 0h3m0 0h3m-2 0h3m-2 0h3m0 0h3m-2 0h3m0 0h3m-2 0h3m0 0h3m-1 0h3m-1 0h3m0 0h3m-2 0h3m-1 0h3m-2 0h3m-2 0h3m-2 0h3m-1 0h3m-1 0h3m-2 0h3m-2 0h3m-1 0h3m-2 0h3m-1 0h3m4 0h3m0 0h3m1 0h3m-2 0h3m24 0h3m10 0h3m0 0h3m6 0h3m20 0h3m1 0h3m19 0h3m3 0h3m43 0h3m-313 1h3m5 0h3m8 0h3m0 0h3m-1 0h3m0 0h3m-1 0h3m-2 0h3m-2 0h3m-1 0h3m-2 0h3m6 0h3m-1 0h3m-1 0h3m-1 0h3m-2 0h3m-2 0h3m-2 0h3m-1 0h3m1 0h3m0 0h3m6 0h3m-1 0h3m3 0h3m-2 0h3m-2 0h3m-2 0h3m-1 0h3m-2 0h3m-2 0h3m-1 0h3m1 0h3m-2 0h3m1 0h3m1 0h3m-2 0h3m-2 0h3m-2 0h3m1 0h3m-2 0h3m-1 0h3m-2 0h3m-1 0h3m-1 0h3m-1 0h3m-1 0h3m-2 0h3m-1 0h3m-2 0h3m-1 0h3m1 0h3m-2 0h3m2 0h3m3 0h3m1 0h3m4 0h3m-2 0h3m9 0h3m-1 0h3m-1 0h3m1 0h3m3 0h3m1 0h3m0 0h3m21 0h3m13 0h3m32 0h3m0 0h3m46 0h3m7 0h3m-326 1h3m3 0h3m-2 0h3m-1 0h3m3 0h3m0 0h3m0 0h3m1 0h3m4 0h3m-2 0h3m-2 0h3m0 0h3m-2 0h3m-1 0h3m-2 0h3m-1 0h3m1 0h3m-2 0h3m-2 0h3m1 0h3m-2 0h3m-2 0h3m7 0h3m-2 0h3m-2 0h3m0 0h3m0 0h3m-1 0h3m-1 0h3m1 0h3m-2 0h3m-2 0h3m-2 0h3m-2 0h3m0 0h3m2 0h3m-1 0h3m-1 0h3m-2 0h3m-2 0h3m-2 0h3m0 0h3m0 0h3m-2 0h3m-1 0h3m-2 0h3m-1 0h3m-1 0h3m-2 0h3m0 0h3m-2 0h3m3 0h3m-2 0h3m-2 0h3m-2 0h3m0 0h3m-1 0h3m1 0h3m1 0h3m3 0h3m15 0h3m-1 0h3m-2 0h3m9 0h3m-2 0h3m35 0h3m6 0h3m5 0h3m-1 0h3m8 0h3m28 0h3m6 0h3m3 0h3m-298 1h3m-1 0h3m11 0h3m0 0h3m1 0h3m-2 0h3m5 0h3m-2 0h3m-2 0h3m3 0h3m0 0h3m0 0h3m-2 0h3m-2 0h3m1 0h3m-2 0h3m-2 0h3m-2 0h3m-2 0h3m-2 0h3m-2 0h3m3 0h3m5 0h3m1 0h3m-2 0h3m-2 0h3m0 0h3m1 0h3m-1 0h3m1 0h3m-1 0h3m1 0h3m-2 0h3m-2 0h3m-1 0h3m2 0h3m0 0h3m-2 0h3m0 0h3m1 0h3m-2 0h3m-2 0h3m-2 0h3m0 0h3m-2 0h3m1 0h3m2 0h3m6 0h3m-1 0h3m5 0h3m9 0h3m11 0h3m16 0h3m0 0h3m3 0h3m4 0h3m72 0h3m0 0h3m-287 1h3m1 0h3m3 0h3m-2 0h3m-1 0h3m-2 0h3m-2 0h3m-2 0h3m3 0h3m-1 0h3m-2 0h3m-2 0h3m-2 0h3m-2 0h3m-2 0h3m-1 0h3m-1 0h3m0 0h3m4 0h3m1 0h3m-2 0h3m-2 0h3m-2 0h3m-2 0h3m-2 0h3m-1 0h3m-2 0h3m-1 0h3m-1 0h3m1 0h3m-2 0h3m-2 0h3m2 0h3m-1 0h3m0 0h3m2 0h3m4 0h3m4 0h3m-1 0h3m-2 0h3m-1 0h3m-2 0h3m3 0h3m-2 0h3m-2 0h3m0 0h3m0 0h3m1 0h3m-2 0h3m-1 0h3m0 0h3m0 0h3m-2 0h3m2 0h3m0 0h3m6 0h3m-2 0h3m4 0h3m-2 0h3m1 0h3m-2 0h3m-1 0h3m18 0h3m10 0h3m11 0h3m-1 0h3m0 0h3m20 0h3m-2 0h3m4 0h3m12 0h3m-1 0h3m-1 0h3m7 0h3m6 0h3m20 0h3m11 0h3m-329 1h3m9 0h3m1 0h3m-2 0h3m-2 0h3m-2 0h3m2 0h3m-1 0h3m0 0h3m1 0h3m-2 0h3m0 0h3m1 0h3m1 0h3m1 0h3m-2 0h3m0 0h3m-1 0h3m-1 0h3m0 0h3m-1 0h3m-2 0h3m0 0h3m-2 0h3m2 0h3m0 0h3m-2 0h3m-2 0h3m-2 0h3m-2 0h3m-2 0h3m-1 0h3m-2 0h3m0 0h3m0 0h3m-2 0h3m2 0h3m0 0h3m-2 0h3m-1 0h3m-1 0h3m-1 0h3m2 0h3m-1 0h3m-2 0h3m-2 0h3m0 0h3m1 0h3m-1 0h3m0 0h3m-2 0h3m-1 0h3m0 0h3m-2 0h3m-1 0h3m-1 0h3m-2 0h3m2 0h3m6 0h3m12 0h3m16 0h3m8 0h3m-2 0h3m6 0h3m1 0h3m20 0h3m1 0h3m8 0h3m-2 0h3m12 0h3m80 0h3m-350 1h3m4 0h3m-2 0h3m-1 0h3m-1 0h3m0 0h3m4 0h3m3 0h3m-2 0h3m0 0h3m0 0h3m-2 0h3m0 0h3m-2 0h3m-1 0h3m7 0h3m2 0h3m1 0h3m0 0h3m0 0h3m-1 0h3m8 0h3m1 0h3m-1 0h3m2 0h3m-2 0h3m-1 0h3m8 0h3m-1 0h3m-2 0h3m3 0h3m0 0h3m-2 0h3m2 0h3m-2 0h3m1 0h3m2 0h3m1 0h3m24 0h3m6 0h3m5 0h3m8 0h3m1 0h3m10 0h3m3 0h3m0 0h3m17 0h3m0 0h3m33 0h3m3 0h3m-290 1h3m4 0h3m-1 0h3m-2 0h3m-2 0h3m-1 0h3m-1 0h3m5 0h3m-1 0h3m1 0h3m-1 0h3m0 0h3m-1 0h3m1 0h3m-2 0h3m-2 0h3m-2 0h3m-2 0h3m-2 0h3m-2 0h3m0 0h3m-1 0h3m5 0h3m-2 0h3m0 0h3m-2 0h3m0 0h3m-2 0h3m-2 0h3m-1 0h3m-1 0h3m-2 0h3m-2 0h3m-2 0h3m-1 0h3m-2 0h3m-1 0h3m2 0h3m-1 0h3m-1 0h3m-2 0h3m-2 0h3m-1 0h3m-1 0h3m-2 0h3m-2 0h3m-1 0h3m0 0h3m0 0h3m-1 0h3m-1 0h3m-2 0h3m-2 0h3m-2 0h3m-1 0h3m-2 0h3m-2 0h3m-2 0h3m2 0h3m-1 0h3m0 0h3m-2 0h3m1 0h3m0 0h3m-1 0h3m2 0h3m-1 0h3m14 0h3m-2 0h3m5 0h3m11 0h3m-1 0h3m1 0h3m3 0h3m10 0h3m1 0h3m2 0h3m19 0h3m-1 0h3m4 0h3m9 0h3m21 0h3m-282 1h3m0 0h3m4 0h3m-2 0h3m0 0h3m6 0h3m-2 0h3m-2 0h3m-1 0h3m-2 0h3m-2 0h3m-1 0h3m0 0h3m0 0h3m0 0h3m-2 0h3m-2 0h3m0 0h3m0 0h3m-2 0h3m-2 0h3m-2 0h3m-1 0h3m-1 0h3m-2 0h3m2 0h3m-2 0h3m1 0h3m2 0h3m1 0h3m-2 0h3m-1 0h3m2 0h3m-2 0h3m0 0h3m-2 0h3m0 0h3m0 0h3m-1 0h3m-2 0h3m-1 0h3m-1 0h3m-2 0h3m-1 0h3m-1 0h3m0 0h3m-1 0h3m3 0h3m-2 0h3m3 0h3m0 0h3m-2 0h3m0 0h3m-1 0h3m0 0h3m2 0h3m9 0h3m2 0h3m12 0h3m25 0h3m5 0h3m4 0h3m-2 0h3m3 0h3m-2 0h3m7 0h3m1 0h3m1 0h3m8 0h3m25 0h3m-285 1h3m1 0h3m9 0h3m1 0h3m-1 0h3m-2 0h3m0 0h3m-1 0h3m-2 0h3m-1 0h3m-1 0h3m0 0h3m-1 0h3m-2 0h3m-2 0h3m-2 0h3m-2 0h3m-2 0h3m-1 0h3m5 0h3m2 0h3m-2 0h3m2 0h3m1 0h3m-1 0h3m0 0h3m2 0h3m-2 0h3m-2 0h3m-1 0h3m-2 0h3m-2 0h3m-2 0h3m0 0h3m5 0h3m-2 0h3m-2 0h3m2 0h3m-2 0h3m-2 0h3m-1 0h3m4 0h3m-1 0h3m0 0h3m-1 0h3m-1 0h3m1 0h3m0 0h3m7 0h3m10 0h3m-2 0h3m4 0h3m0 0h3m5 0h3m4 0h3m7 0h3m-2 0h3m0 0h3m2 0h3m6 0h3m16 0h3m17 0h3m7 0h3m-2 0h3m13 0h3m1 0h3m1 0h3m0 0h3m-287 1h3m5 0h3m4 0h3m3 0h3m2 0h3m-1 0h3m-1 0h3m-1 0h3m-2 0h3m-2 0h3m1 0h3m-2 0h3m-2 0h3m1 0h3m-1 0h3m-2 0h3m-1 0h3m-2 0h3m-2 0h3m-1 0h3m2 0h3m4 0h3m-2 0h3m-1 0h3m1 0h3m-1 0h3m-1 0h3m-2 0h3m0 0h3m-1 0h3m-2 0h3m-2 0h3m0 0h3m1 0h3m-1 0h3m-1 0h3m0 0h3m-2 0h3m-1 0h3m-1 0h3m-2 0h3m-2 0h3m-1 0h3m2 0h3m0 0h3m-2 0h3m1 0h3m-2 0h3m-1 0h3m-2 0h3m-2 0h3m-2 0h3m-2 0h3m-2 0h3m-2 0h3m-2 0h3m2 0h3m-1 0h3m-2 0h3m-2 0h3m3 0h3m-1 0h3m-2 0h3m6 0h3m0 0h3m13 0h3m10 0h3m7 0h3m16 0h3m1 0h3m4 0h3m-1 0h3m-1 0h3m15 0h3m1 0h3m-262 1h3m-2 0h3m13 0h3m-2 0h3m-2 0h3m0 0h3m-2 0h3m-1 0h3m-2 0h3m-2 0h3m0 0h3m-1 0h3m4 0h3m-2 0h3m-1 0h3m0 0h3m2 0h3m-2 0h3m1 0h3m-1 0h3m-2 0h3m-2 0h3m2 0h3m-2 0h3m-1 0h3m0 0h3m-1 0h3m-2 0h3m-2 0h3m-2 0h3m-2 0h3m0 0h3m2 0h3m-1 0h3m-2 0h3m0 0h3m1 0h3m1 0h3m-1 0h3m1 0h3m-1 0h3m-1 0h3m-2 0h3m-2 0h3m-2 0h3m-1 0h3m-1 0h3m0 0h3m-2 0h3m1 0h3m-1 0h3m1 0h3m-1 0h3m2 0h3m-1 0h3m10 0h3m-1 0h3m1 0h3m-2 0h3m-2 0h3m1 0h3m3 0h3m4 0h3m-2 0h3m5 0h3m-2 0h3m6 0h3m20 0h3m14 0h3m73 0h3m26 0h3m-334 1h3m6 0h3m-1 0h3m2 0h3m-2 0h3m-1 0h3m-2 0h3m-2 0h3m-2 0h3m2 0h3m0 0h3m1 0h3m-2 0h3m4 0h3m0 0h3m1 0h3m-1 0h3m-2 0h3m-2 0h3m0 0h3m-2 0h3m-2 0h3m-2 0h3m-1 0h3m-1 0h3m1 0h3m-2 0h3m-1 0h3m3 0h3m-1 0h3m-1 0h3m-1 0h3m-1 0h3m1 0h3m2 0h3m1 0h3m4 0h3m5 0h3m0 0h3m-2 0h3m1 0h3m1 0h3m-1 0h3m-2 0h3m3 0h3m2 0h3m-2 0h3m-1 0h3m18 0h3m23 0h3m0 0h3m0 0h3m2 0h3m17 0h3m10 0h3m11 0h3m10 0h3m2 0h3m1 0h3m2 0h3m-287 1h3m0 0h3m-2 0h3m-1 0h3m5 0h3m12 0h3m-1 0h3m-2 0h3m-2 0h3m-2 0h3m-2 0h3m5 0h3m-2 0h3m0 0h3m-1 0h3m-2 0h3m0 0h3m-1 0h3m2 0h3m-2 0h3m-2 0h3m-2 0h3m1 0h3m-2 0h3m-2 0h3m-1 0h3m4 0h3m-1 0h3m-2 0h3m-2 0h3m-1 0h3m-2 0h3m0 0h3m-1 0h3m0 0h3m1 0h3m1 0h3m3 0h3m0 0h3m-1 0h3m-2 0h3m-2 0h3m1 0h3m-2 0h3m-1 0h3m-2 0h3m-1 0h3m0 0h3m0 0h3m9 0h3m0 0h3m-2 0h3m-2 0h3m-1 0h3m-2 0h3m-2 0h3m-1 0h3m4 0h3m19 0h3m4 0h3m5 0h3m-2 0h3m0 0h3m8 0h3m23 0h3m-1 0h3m9 0h3m4 0h3m5 0h3m10 0h3m-273 1h3m12 0h3m-2 0h3m0 0h3m-2 0h3m-2 0h3m0 0h3m1 0h3m-2 0h3m-2 0h3m-2 0h3m-2 0h3m-2 0h3m-2 0h3m-2 0h3m-2 0h3m0 0h3m-1 0h3m-2 0h3m8 0h3m0 0h3m-2 0h3m-1 0h3m-1 0h3m-1 0h3m1 0h3m-2 0h3m-1 0h3m1 0h3m-2 0h3m-2 0h3m-1 0h3m0 0h3m-2 0h3m3 0h3m-1 0h3m-2 0h3m0 0h3m-1 0h3m-2 0h3m0 0h3m-1 0h3m-2 0h3m-2 0h3m-2 0h3m2 0h3m-2 0h3m-2 0h3m-2 0h3m0 0h3m0 0h3m-1 0h3m-1 0h3m5 0h3m0 0h3m0 0h3m3 0h3m-2 0h3m-2 0h3m-2 0h3m4 0h3m1 0h3m-1 0h3m0 0h3m1 0h3m2 0h3m7 0h3m9 0h3m11 0h3m25 0h3m2 0h3m-2 0h3m10 0h3m-2 0h3m25 0h3m27 0h3m-326 1h3m2 0h3m5 0h3m2 0h3m-2 0h3m-2 0h3m4 0h3m0 0h3m0 0h3m-2 0h3m-2 0h3m2 0h3m0 0h3m1 0h3m-2 0h3m-2 0h3m0 0h3m1 0h3m-1 0h3m-2 0h3m0 0h3m-1 0h3m0 0h3m-2 0h3m-2 0h3m0 0h3m-1 0h3m-1 0h3m0 0h3m1 0h3m-2 0h3m1 0h3m-2 0h3m2 0h3m0 0h3m-2 0h3m-2 0h3m-2 0h3m1 0h3m-2 0h3m-1 0h3m-2 0h3m4 0h3m-2 0h3m2 0h3m0 0h3m0 0h3m0 0h3m-1 0h3m4 0h3m-1 0h3m0 0h3m2 0h3m-1 0h3m8 0h3m-1 0h3m3 0h3m-2 0h3m0 0h3m3 0h3m-1 0h3m-2 0h3m-2 0h3m-2 0h3m13 0h3m15 0h3m9 0h3m2 0h3m7 0h3m-2 0h3m22 0h3m41 0h3m36 0h3m-354 1h3m-1 0h3m5 0h3m-2 0h3m0 0h3m4 0h3m1 0h3m-1 0h3m10 0h3m1 0h3m-1 0h3m-2 0h3m-1 0h3m-1 0h3m-1 0h3m0 0h3m-1 0h3m-1 0h3m1 0h3m1 0h3m-2 0h3m-2 0h3m-1 0h3m-2 0h3m-2 0h3m-2 0h3m-2 0h3m1 0h3m1 0h3m7 0h3m4 0h3m6 0h3m-2 0h3m-2 0h3m1 0h3m1 0h3m-1 0h3m-1 0h3m-1 0h3m-2 0h3m-1 0h3m5 0h3m4 0h3m-2 0h3m2 0h3m3 0h3m2 0h3m5 0h3m18 0h3m20 0h3m3 0h3m-2 0h3m4 0h3m0 0h3m1 0h3m-2 0h3m-2 0h3m0 0h3m-2 0h3m-1 0h3m6 0h3m-1 0h3m2 0h3m4 0h3m2 0h3m9 0h3m23 0h3m11 0h3m-325 1h3m-2 0h3m1 0h3m1 0h3m-1 0h3m-2 0h3m-2 0h3m0 0h3m2 0h3m2 0h3m-2 0h3m-2 0h3m4 0h3m-2 0h3m-1 0h3m-2 0h3m-2 0h3m-1 0h3m-2 0h3m-2 0h3m0 0h3m-2 0h3m-2 0h3m-1 0h3m-2 0h3m-2 0h3m1 0h3m-2 0h3m-2 0h3m-2 0h3m-2 0h3m-1 0h3m0 0h3m-1 0h3m1 0h3m-2 0h3m-2 0h3m2 0h3m0 0h3m-1 0h3m-2 0h3m-2 0h3m0 0h3m6 0h3m0 0h3m-1 0h3m-1 0h3m-2 0h3m-2 0h3m-2 0h3m2 0h3m-2 0h3m-1 0h3m-2 0h3m0 0h3m-1 0h3m0 0h3m1 0h3m1 0h3m0 0h3m1 0h3m1 0h3m2 0h3m0 0h3m-2 0h3m-2 0h3m-2 0h3m-1 0h3m5 0h3m-2 0h3m-1 0h3m5 0h3m-2 0h3m-2 0h3m4 0h3m6 0h3m6 0h3m7 0h3m1 0h3m16 0h3m10 0h3m-1 0h3m23 0h3m31 0h3m-316 1h3m2 0h3m11 0h3m2 0h3m1 0h3m4 0h3m-2 0h3m-2 0h3m2 0h3m-1 0h3m0 0h3m-2 0h3m-2 0h3m8 0h3m-2 0h3m-2 0h3m3 0h3m-2 0h3m-2 0h3m-2 0h3m-2 0h3m-2 0h3m3 0h3m2 0h3m-1 0h3m1 0h3m-2 0h3m2 0h3m-1 0h3m-2 0h3m1 0h3m-2 0h3m6 0h3m-2 0h3m-2 0h3m-2 0h3m3 0h3m-2 0h3m-2 0h3m-2 0h3m-2 0h3m-2 0h3m-2 0h3m1 0h3m-2 0h3m2 0h3m-2 0h3m0 0h3m2 0h3m-1 0h3m14 0h3m-2 0h3m3 0h3m0 0h3m0 0h3m1 0h3m4 0h3m7 0h3m2 0h3m0 0h3m21 0h3m8 0h3m3 0h3m0 0h3m1 0h3m4 0h3m3 0h3m1 0h3m30 0h3m-2 0h3m12 0h3m-322 1h3m4 0h3m8 0h3m1 0h3m-2 0h3m-1 0h3m-1 0h3m-2 0h3m-2 0h3m-2 0h3m0 0h3m-2 0h3m-2 0h3m-2 0h3m-2 0h3m-2 0h3m-2 0h3m0 0h3m1 0h3m2 0h3m-2 0h3m1 0h3m-1 0h3m1 0h3m-1 0h3m-2 0h3m3 0h3m-2 0h3m2 0h3m2 0h3m0 0h3m-2 0h3m-2 0h3m-1 0h3m2 0h3m-2 0h3m0 0h3m-1 0h3m2 0h3m6 0h3m0 0h3m0 0h3m-2 0h3m-2 0h3m0 0h3m-2 0h3m-2 0h3m-1 0h3m-2 0h3m-2 0h3m-2 0h3m-1 0h3m1 0h3m-1 0h3m-1 0h3m-2 0h3m-2 0h3m-1 0h3m-2 0h3m-2 0h3m2 0h3m-1 0h3m0 0h3m10 0h3m-1 0h3m11 0h3m0 0h3m-2 0h3m1 0h3m-1 0h3m9 0h3m4 0h3m1 0h3m12 0h3m10 0h3m3 0h3m-1 0h3m-264 1h3m-1 0h3m-1 0h3m13 0h3m5 0h3m-2 0h3m-2 0h3m2 0h3m0 0h3m3 0h3m1 0h3m1 0h3m-2 0h3m-1 0h3m1 0h3m-2 0h3m3 0h3m-1 0h3m-2 0h3m-1 0h3m-2 0h3m2 0h3m-2 0h3m-2 0h3m-2 0h3m-1 0h3m0 0h3m-1 0h3m2 0h3m7 0h3m-2 0h3m-1 0h3m-2 0h3m-2 0h3m-2 0h3m-2 0h3m-2 0h3m4 0h3m0 0h3m-1 0h3m-1 0h3m0 0h3m2 0h3m-2 0h3m-2 0h3m1 0h3m7 0h3m2 0h3m1 0h3m-2 0h3m-2 0h3m0 0h3m-1 0h3m-2 0h3m-2 0h3m-1 0h3m4 0h3m-2 0h3m4 0h3m-1 0h3m8 0h3m0 0h3m21 0h3m13 0h3m13 0h3m2 0h3m4 0h3m27 0h3m24 0h3m-325 1h3m-1 0h3m-2 0h3m2 0h3m1 0h3m0 0h3m-2 0h3m-1 0h3m1 0h3m-2 0h3m1 0h3m2 0h3m4 0h3m-1 0h3m-2 0h3m-1 0h3m-2 0h3m0 0h3m-1 0h3m2 0h3m6 0h3m-2 0h3m1 0h3m0 0h3m-1 0h3m2 0h3m-1 0h3m-1 0h3m-2 0h3m-2 0h3m-2 0h3m0 0h3m-2 0h3m-1 0h3m-2 0h3m-2 0h3m-1 0h3m-2 0h3m-1 0h3m0 0h3m-2 0h3m-2 0h3m-1 0h3m2 0h3m-2 0h3m-1 0h3m1 0h3m-1 0h3m2 0h3m-2 0h3m1 0h3m-2 0h3m1 0h3m1 0h3m-2 0h3m6 0h3m-2 0h3m34 0h3m1 0h3m9 0h3m-2 0h3m8 0h3m0 0h3m3 0h3m8 0h3m3 0h3m18 0h3m0 0h3m20 0h3m12 0h3m22 0h3m-330 1h3m3 0h3m1 0h3m1 0h3m-1 0h3m2 0h3m-2 0h3m-1 0h3m8 0h3m1 0h3m0 0h3m1 0h3m3 0h3m-2 0h3m0 0h3m-2 0h3m-1 0h3m2 0h3m-1 0h3m-2 0h3m4 0h3m1 0h3m-2 0h3m-1 0h3m-2 0h3m-2 0h3m0 0h3m8 0h3m-1 0h3m0 0h3m3 0h3m-1 0h3m-2 0h3m-2 0h3m0 0h3m-1 0h3m-2 0h3m0 0h3m0 0h3m-2 0h3m-2 0h3m-2 0h3m-2 0h3m-2 0h3m0 0h3m-2 0h3m-2 0h3m1 0h3m-1 0h3m-1 0h3m-2 0h3m6 0h3m-1 0h3m-1 0h3m0 0h3m-1 0h3m4 0h3m-1 0h3m-2 0h3m2 0h3m-1 0h3m-2 0h3m3 0h3m2 0h3m20 0h3m0 0h3m9 0h3m2 0h3m5 0h3m9 0h3m4 0h3m5 0h3m-1 0h3m4 0h3m12 0h3m1 0h3m13 0h3m6 0h3m0 0h3m59 0h3m-378 1h3m9 0h3m-2 0h3m-2 0h3m-2 0h3m0 0h3m2 0h3m-2 0h3m-1 0h3m0 0h3m-2 0h3m-1 0h3m-2 0h3m1 0h3m-2 0h3m1 0h3m0 0h3m-2 0h3m-2 0h3m2 0h3m-1 0h3m5 0h3m-2 0h3m-2 0h3m-2 0h3m-2 0h3m-1 0h3m-2 0h3m1 0h3m-1 0h3m0 0h3m0 0h3m-2 0h3m-2 0h3m-2 0h3m1 0h3m-2 0h3m2 0h3m0 0h3m-2 0h3m2 0h3m2 0h3m-2 0h3m-2 0h3m-2 0h3m-2 0h3m0 0h3m1 0h3m-1 0h3m-2 0h3m-1 0h3m-2 0h3m0 0h3m1 0h3m1 0h3m1 0h3m2 0h3m2 0h3m1 0h3m-1 0h3m11 0h3m-1 0h3m4 0h3m-2 0h3m39 0h3m3 0h3m5 0h3m0 0h3m7 0h3m23 0h3m-292 1h3m-1 0h3m1 0h3m2 0h3m-1 0h3m-2 0h3m1 0h3m-2 0h3m0 0h3m-2 0h3m-1 0h3m0 0h3m0 0h3m-2 0h3m-2 0h3m-1 0h3m0 0h3m-2 0h3m-2 0h3m3 0h3m-2 0h3m2 0h3m4 0h3m7 0h3m2 0h3m-2 0h3m-2 0h3m5 0h3m-2 0h3m-2 0h3m-2 0h3m0 0h3m-2 0h3m4 0h3m-1 0h3m-1 0h3m1 0h3m1 0h3m-2 0h3m-1 0h3m0 0h3m3 0h3m-2 0h3m-2 0h3m-2 0h3m-2 0h3m-1 0h3m-2 0h3m0 0h3m-2 0h3m0 0h3m-2 0h3m-1 0h3m-2 0h3m3 0h3m1 0h3m35 0h3m7 0h3m-2 0h3m4 0h3m11 0h3m13 0h3m2 0h3m20 0h3m36 0h3m11 0h3m-316 1h3m7 0h3m1 0h3m1 0h3m0 0h3m-2 0h3m-2 0h3m-1 0h3m-2 0h3m-2 0h3m-2 0h3m1 0h3m1 0h3m-2 0h3m5 0h3m-1 0h3m-2 0h3m2 0h3m2 0h3m-2 0h3m-2 0h3m-2 0h3m0 0h3m1 0h3m2 0h3m-1 0h3m-2 0h3m2 0h3m8 0h3m3 0h3m3 0h3m-1 0h3m-2 0h3m0 0h3m0 0h3m5 0h3m-2 0h3m0 0h3m0 0h3m4 0h3m3 0h3m-1 0h3m-2 0h3m2 0h3m-1 0h3m8 0h3m-2 0h3m-1 0h3m0 0h3m-1 0h3m7 0h3m-1 0h3m-1 0h3m-1 0h3m-2 0h3m0 0h3m0 0h3m15 0h3m27 0h3m0 0h3m63 0h3m-313 1h3m4 0h3m1 0h3m2 0h3m0 0h3m1 0h3m-2 0h3m-2 0h3m-2 0h3m1 0h3m-1 0h3m1 0h3m7 0h3m6 0h3m0 0h3m2 0h3m-1 0h3m3 0h3m2 0h3m-1 0h3m-1 0h3m1 0h3m0 0h3m-1 0h3m-1 0h3m-1 0h3m1 0h3m-1 0h3m-2 0h3m0 0h3m-2 0h3m-2 0h3m0 0h3m-2 0h3m-2 0h3m-2 0h3m0 0h3m-1 0h3m-2 0h3m-1 0h3m-2 0h3m2 0h3m-2 0h3m-2 0h3m-2 0h3m-2 0h3m8 0h3m6 0h3m1 0h3m0 0h3m2 0h3m6 0h3m9 0h3m4 0h3m1 0h3m7 0h3m-2 0h3m1 0h3m7 0h3m8 0h3m-2 0h3m14 0h3m2 0h3m1 0h3m5 0h3m-1 0h3m5 0h3m11 0h3m-295 1h3m0 0h3m4 0h3m-2 0h3m1 0h3m3 0h3m-2 0h3m-1 0h3m-2 0h3m0 0h3m-1 0h3m0 0h3m1 0h3m-2 0h3m-2 0h3m-2 0h3m-2 0h3m5 0h3m-2 0h3m-2 0h3m-2 0h3m-1 0h3m-2 0h3m-1 0h3m0 0h3m0 0h3m-1 0h3m-2 0h3m0 0h3m-2 0h3m-1 0h3m-2 0h3m-2 0h3m3 0h3m5 0h3m-2 0h3m-2 0h3m1 0h3m-2 0h3m1 0h3m2 0h3m0 0h3m-2 0h3m-2 0h3m-1 0h3m-1 0h3m-2 0h3m-2 0h3m-2 0h3m-2 0h3m-1 0h3m-2 0h3m-2 0h3m-2 0h3m-2 0h3m-2 0h3m-2 0h3m0 0h3m2 0h3m6 0h3m3 0h3m2 0h3m7 0h3m-2 0h3m0 0h3m-2 0h3m10 0h3m4 0h3m1 0h3m16 0h3m7 0h3m9 0h3m3 0h3m29 0h3m37 0h3m15 0h3m-316 1h3m-2 0h3m-1 0h3m-2 0h3m6 0h3m-2 0h3m1 0h3m4 0h3m-2 0h3m-2 0h3m-2 0h3m-1 0h3m1 0h3m-1 0h3m-2 0h3m-2 0h3m-2 0h3m-1 0h3m1 0h3m0 0h3m4 0h3m-2 0h3m0 0h3m1 0h3m-2 0h3m12 0h3m-1 0h3m-2 0h3m-1 0h3m-2 0h3m-2 0h3m-2 0h3m-2 0h3m2 0h3m1 0h3m-2 0h3m1 0h3m1 0h3m-1 0h3m-2 0h3m-1 0h3m-1 0h3m-2 0h3m-2 0h3m-2 0h3m0 0h3m-2 0h3m1 0h3m0 0h3m-1 0h3m-2 0h3m-1 0h3m4 0h3m1 0h3m3 0h3m0 0h3m13 0h3m6 0h3m-2 0h3m13 0h3m15 0h3m8 0h3m38 0h3m22 0h3m4 0h3m12 0h3m-329 1h3m-1 0h3m1 0h3m0 0h3m-1 0h3m1 0h3m-2 0h3m-2 0h3m3 0h3m-1 0h3m4 0h3m1 0h3m-2 0h3m0 0h3m-2 0h3m-2 0h3m2 0h3m-2 0h3m-2 0h3m1 0h3m-1 0h3m-2 0h3m0 0h3m-2 0h3m-1 0h3m-1 0h3m-2 0h3m-1 0h3m4 0h3m0 0h3m0 0h3m1 0h3m4 0h3m-2 0h3m0 0h3m-1 0h3m0 0h3m-2 0h3m-1 0h3m-2 0h3m0 0h3m-1 0h3m-1 0h3m-1 0h3m-1 0h3m-2 0h3m-2 0h3m0 0h3m-2 0h3m-2 0h3m1 0h3m-1 0h3m-1 0h3m6 0h3m1 0h3m0 0h3m1 0h3m-2 0h3m-2 0h3m1 0h3m4 0h3m5 0h3m-2 0h3m-2 0h3m0 0h3m28 0h3m-1 0h3m12 0h3m17 0h3m3 0h3m9 0h3m17 0h3m4 0h3m29 0h3m-318 1h3m8 0h3m1 0h3m-1 0h3m-2 0h3m-1 0h3m-2 0h3m-2 0h3m-2 0h3m-2 0h3m4 0h3m-2 0h3m3 0h3m0 0h3m2 0h3m-2 0h3m-2 0h3m-1 0h3m-2 0h3m-2 0h3m-2 0h3m-2 0h3m-1 0h3m0 0h3m-1 0h3m-2 0h3m-2 0h3m2 0h3m-2 0h3m-1 0h3m-2 0h3m-2 0h3m-1 0h3m-1 0h3m-2 0h3m-2 0h3m-1 0h3m-2 0h3m-1 0h3m-2 0h3m0 0h3m0 0h3m-2 0h3m0 0h3m-2 0h3m-1 0h3m3 0h3m0 0h3m-2 0h3m0 0h3m-1 0h3m0 0h3m1 0h3m-1 0h3m-2 0h3m-2 0h3m4 0h3m-1 0h3m2 0h3m-1 0h3m4 0h3m-2 0h3m9 0h3m1 0h3m4 0h3m-1 0h3m-1 0h3m9 0h3m1 0h3m17 0h3m30 0h3m12 0h3m19 0h3m9 0h3m12 0h3m-301 1h3m-2 0h3m0 0h3m0 0h3m5 0h3m-2 0h3m1 0h3m-1 0h3m-2 0h3m-2 0h3m1 0h3m-2 0h3m-1 0h3m-1 0h3m-2 0h3m0 0h3m0 0h3m-2 0h3m0 0h3m0 0h3m-2 0h3m-2 0h3m-2 0h3m-2 0h3m-2 0h3m-2 0h3m-1 0h3m-2 0h3m-2 0h3m-2 0h3m-1 0h3m-2 0h3m-2 0h3m-2 0h3m0 0h3m2 0h3m-1 0h3m2 0h3m-2 0h3m0 0h3m0 0h3m-1 0h3m-1 0h3m0 0h3m-1 0h3m5 0h3m-1 0h3m2 0h3m2 0h3m0 0h3m-2 0h3m1 0h3m5 0h3m10 0h3m-2 0h3m0 0h3m-2 0h3m-2 0h3m5 0h3m-2 0h3m0 0h3m2 0h3m-2 0h3m-2 0h3m1 0h3m0 0h3m9 0h3m19 0h3m0 0h3m7 0h3m24 0h3m0 0h3m9 0h3m9 0h3m7 0h3m-301 1h3m-1 0h3m-2 0h3m2 0h3m4 0h3m-1 0h3m-1 0h3m1 0h3m-1 0h3m-2 0h3m-1 0h3m-2 0h3m0 0h3m1 0h3m-2 0h3m-1 0h3m-1 0h3m4 0h3m1 0h3m-2 0h3m3 0h3m-1 0h3m-1 0h3m-2 0h3m-2 0h3m1 0h3m2 0h3m-2 0h3m-2 0h3m4 0h3m-1 0h3m0 0h3m-2 0h3m-1 0h3m-2 0h3m0 0h3m-1 0h3m0 0h3m-2 0h3m1 0h3m-1 0h3m-2 0h3m1 0h3m4 0h3m-2 0h3m-1 0h3m-1 0h3m-1 0h3m-2 0h3m-1 0h3m4 0h3m1 0h3m0 0h3m5 0h3m3 0h3m11 0h3m-1 0h3m1 0h3m14 0h3m-1 0h3m24 0h3m6 0h3m5 0h3m25 0h3m40 0h3m20 0h3m-342 1h3m3 0h3m-2 0h3m1 0h3m4 0h3m-1 0h3m-1 0h3m0 0h3m1 0h3m-2 0h3m-2 0h3m2 0h3m-2 0h3m-2 0h3m0 0h3m-2 0h3m-1 0h3m-1 0h3m2 0h3m2 0h3m0 0h3m-1 0h3m3 0h3m-2 0h3m0 0h3m-2 0h3m-2 0h3m2 0h3m0 0h3m2 0h3m0 0h3m0 0h3m9 0h3m1 0h3m-2 0h3m0 0h3m-2 0h3m0 0h3m-1 0h3m-2 0h3m-1 0h3m-2 0h3m0 0h3m0 0h3m-1 0h3m1 0h3m2 0h3m0 0h3m7 0h3m-2 0h3m11 0h3m3 0h3m-2 0h3m-2 0h3m0 0h3m-2 0h3m0 0h3m-2 0h3m17 0h3m7 0h3m-2 0h3m6 0h3m1 0h3m0 0h3m17 0h3m7 0h3m70 0h3m-334 1h3m-2 0h3m6 0h3m0 0h3m0 0h3m4 0h3m-2 0h3m0 0h3m1 0h3m3 0h3m-2 0h3m5 0h3m-1 0h3m-2 0h3m-1 0h3m0 0h3m2 0h3m-1 0h3m2 0h3m-1 0h3m1 0h3m-1 0h3m0 0h3m2 0h3m1 0h3m-1 0h3m2 0h3m-2 0h3m-2 0h3m-2 0h3m-2 0h3m-1 0h3m-1 0h3m-1 0h3m-2 0h3m-1 0h3m-2 0h3m-2 0h3m-1 0h3m-1 0h3m2 0h3m3 0h3m0 0h3m-2 0h3m0 0h3m-1 0h3m-2 0h3m-2 0h3m-2 0h3m1 0h3m1 0h3m3 0h3m1 0h3m1 0h3m6 0h3m36 0h3m11 0h3m5 0h3m0 0h3m1 0h3m14 0h3m-1 0h3m0 0h3m35 0h3m0 0h3m-1 0h3m-300 1h3m-1 0h3m0 0h3m6 0h3m0 0h3m-1 0h3m-2 0h3m-2 0h3m-2 0h3m-1 0h3m-2 0h3m-1 0h3m-2 0h3m0 0h3m-1 0h3m0 0h3m-1 0h3m-2 0h3m-1 0h3m-1 0h3m-2 0h3m-2 0h3m0 0h3m-2 0h3m-2 0h3m1 0h3m-2 0h3m-2 0h3m-2 0h3m-2 0h3m1 0h3m-2 0h3m0 0h3m-2 0h3m-2 0h3m2 0h3m-2 0h3m0 0h3m-1 0h3m-2 0h3m-2 0h3m-2 0h3m0 0h3m-2 0h3m-2 0h3m-2 0h3m1 0h3m3 0h3m2 0h3m-2 0h3m-2 0h3m1 0h3m-2 0h3m-1 0h3m2 0h3m-2 0h3m-2 0h3m0 0h3m-2 0h3m-1 0h3m12 0h3m-1 0h3m3 0h3m1 0h3m12 0h3m3 0h3m2 0h3m7 0h3m2 0h3m16 0h3m10 0h3m3 0h3m-2 0h3m-1 0h3m19 0h3m2 0h3m1 0h3m7 0h3m33 0h3m-318 1h3m-1 0h3m-1 0h3m-2 0h3m5 0h3m-1 0h3m6 0h3m-2 0h3m-2 0h3m-1 0h3m-1 0h3m-2 0h3m-1 0h3m2 0h3m2 0h3m-2 0h3m3 0h3m-2 0h3m-2 0h3m-2 0h3m-2 0h3m-2 0h3m3 0h3m-1 0h3m-2 0h3m-2 0h3m-2 0h3m0 0h3m-2 0h3m-2 0h3m-2 0h3m-2 0h3m-1 0h3m-1 0h3m1 0h3m1 0h3m1 0h3m0 0h3m-2 0h3m-2 0h3m-2 0h3m-2 0h3m-1 0h3m0 0h3m0 0h3m2 0h3m2 0h3m-2 0h3m-2 0h3m1 0h3m0 0h3m-2 0h3m2 0h3m5 0h3m0 0h3m1 0h3m0 0h3m7 0h3m0 0h3m3 0h3m-1 0h3m0 0h3m10 0h3m5 0h3m6 0h3m6 0h3m4 0h3m8 0h3m0 0h3m1 0h3m0 0h3m7 0h3m-1 0h3m2 0h3m9 0h3m6 0h3m32 0h3m-306 1h3m-2 0h3m-2 0h3m0 0h3m0 0h3m-2 0h3m0 0h3m-1 0h3m0 0h3m-2 0h3m1 0h3m0 0h3m1 0h3m-2 0h3m-1 0h3m1 0h3m-2 0h3m-2 0h3m0 0h3m2 0h3m-2 0h3m1 0h3m-2 0h3m1 0h3m4 0h3m-1 0h3m0 0h3m0 0h3m-1 0h3m-2 0h3m-2 0h3m0 0h3m-2 0h3m-2 0h3m0 0h3m-1 0h3m-2 0h3m2 0h3m-2 0h3m1 0h3m3 0h3m-2 0h3m-2 0h3m-1 0h3m-1 0h3m-2 0h3m-2 0h3m-2 0h3m-1 0h3m-2 0h3m1 0h3m5 0h3m1 0h3m8 0h3m2 0h3m-2 0h3m18 0h3m2 0h3m1 0h3m-2 0h3m1 0h3m16 0h3m12 0h3m-2 0h3m0 0h3m-1 0h3m6 0h3m8 0h3m3 0h3m72 0h3m22 0h3m-355 1h3m0 0h3m1 0h3m0 0h3m-2 0h3m-2 0h3m-2 0h3m-2 0h3m2 0h3m1 0h3m-1 0h3m-2 0h3m1 0h3m-2 0h3m-1 0h3m-2 0h3m0 0h3m-1 0h3m-1 0h3m-2 0h3m-2 0h3m-2 0h3m-2 0h3m-1 0h3m-2 0h3m-1 0h3m6 0h3m2 0h3m-2 0h3m-2 0h3m-2 0h3m-1 0h3m2 0h3m-1 0h3m-1 0h3m2 0h3m0 0h3m3 0h3m0 0h3m-1 0h3m-1 0h3m-2 0h3m-1 0h3m0 0h3m-1 0h3m-2 0h3m1 0h3m-1 0h3m1 0h3m-2 0h3m0 0h3m-1 0h3m10 0h3m3 0h3m17 0h3m-2 0h3m-2 0h3m1 0h3m6 0h3m0 0h3m-1 0h3m2 0h3m27 0h3m16 0h3m24 0h3m5 0h3m2 0h3m23 0h3m1 0h3m3 0h3m-313 1h3m-1 0h3m3 0h3m0 0h3m2 0h3m4 0h3m1 0h3m-2 0h3m1 0h3m-1 0h3m2 0h3m-1 0h3m3 0h3m-1 0h3m-2 0h3m-2 0h3m-2 0h3m-2 0h3m3 0h3m-1 0h3m-2 0h3m-1 0h3m-1 0h3m-1 0h3m0 0h3m-2 0h3m2 0h3m1 0h3m-1 0h3m-2 0h3m2 0h3m-2 0h3m-2 0h3m-2 0h3m6 0h3m2 0h3m-1 0h3m1 0h3m0 0h3m-2 0h3m-2 0h3m0 0h3m-1 0h3m-2 0h3m-1 0h3m1 0h3m8 0h3m16 0h3m1 0h3m-1 0h3m2 0h3m-1 0h3m4 0h3m12 0h3m13 0h3m11 0h3m21 0h3m1 0h3m6 0h3m45 0h3m-311 1h3m2 0h3m-2 0h3m4 0h3m-1 0h3m-2 0h3m-2 0h3m1 0h3m2 0h3m-2 0h3m-2 0h3m1 0h3m0 0h3m-1 0h3m0 0h3m-2 0h3m-2 0h3m-2 0h3m-2 0h3m0 0h3m-2 0h3m-2 0h3m1 0h3m7 0h3m2 0h3m1 0h3m-1 0h3m2 0h3m-1 0h3m-2 0h3m0 0h3m-2 0h3m-1 0h3m-2 0h3m-1 0h3m-2 0h3m0 0h3m-1 0h3m-2 0h3m-1 0h3m2 0h3m0 0h3m-2 0h3m-2 0h3m-2 0h3m-1 0h3m1 0h3m-2 0h3m-1 0h3m-2 0h3m2 0h3m-2 0h3m2 0h3m-1 0h3m-2 0h3m0 0h3m-2 0h3m1 0h3m-2 0h3m6 0h3m0 0h3m3 0h3m2 0h3m2 0h3m10 0h3m5 0h3m-1 0h3m3 0h3m7 0h3m0 0h3m0 0h3m0 0h3m9 0h3m34 0h3m-2 0h3m0 0h3m26 0h3m-311 1h3m5 0h3m3 0h3m-2 0h3m0 0h3m-1 0h3m-1 0h3m-2 0h3m0 0h3m1 0h3m-2 0h3m0 0h3m4 0h3m0 0h3m1 0h3m0 0h3m-2 0h3m-2 0h3m2 0h3m-2 0h3m-1 0h3m1 0h3m1 0h3m-2 0h3m-1 0h3m-2 0h3m1 0h3m0 0h3m-1 0h3m-2 0h3m-1 0h3m-2 0h3m3 0h3m-2 0h3m-1 0h3m-1 0h3m-2 0h3m-1 0h3m0 0h3m-1 0h3m0 0h3m0 0h3m-1 0h3m1 0h3m1 0h3m0 0h3m6 0h3m5 0h3m-1 0h3m7 0h3m1 0h3m-2 0h3m-1 0h3m-2 0h3m0 0h3m1 0h3m0 0h3m3 0h3m-2 0h3m0 0h3m-2 0h3m3 0h3m0 0h3m8 0h3m8 0h3m7 0h3m4 0h3m3 0h3m9 0h3m11 0h3m-2 0h3m21 0h3m40 0h3m-332 1h3m2 0h3m3 0h3m-1 0h3m-1 0h3m1 0h3m-2 0h3m-1 0h3m-1 0h3m7 0h3m-2 0h3m-1 0h3m-1 0h3m-2 0h3m-2 0h3m-1 0h3m-1 0h3m-2 0h3m-2 0h3m-1 0h3m-1 0h3m-1 0h3m2 0h3m1 0h3m-2 0h3m0 0h3m-1 0h3m0 0h3m-2 0h3m-2 0h3m-1 0h3m16 0h3m0 0h3m-2 0h3m2 0h3m-1 0h3m-2 0h3m-2 0h3m-2 0h3m3 0h3m-2 0h3m0 0h3m-2 0h3m-2 0h3m-1 0h3m0 0h3m5 0h3m-2 0h3m-2 0h3m1 0h3m2 0h3m-2 0h3m3 0h3m-2 0h3m-2 0h3m-2 0h3m-1 0h3m-1 0h3m2 0h3m-1 0h3m-2 0h3m6 0h3m6 0h3m20 0h3m0 0h3m15 0h3m-2 0h3m0 0h3m3 0h3m7 0h3m1 0h3m26 0h3m-287 1h3m-2 0h3m0 0h3m4 0h3m11 0h3m5 0h3m1 0h3m-1 0h3m1 0h3m0 0h3m-2 0h3m-2 0h3m0 0h3m1 0h3m-1 0h3m-2 0h3m1 0h3m-2 0h3m-2 0h3m-1 0h3m-1 0h3m3 0h3m-1 0h3m6 0h3m-1 0h3m-1 0h3m0 0h3m3 0h3m-2 0h3m-2 0h3m-1 0h3m-2 0h3m0 0h3m-2 0h3m1 0h3m0 0h3m1 0h3m0 0h3m0 0h3m0 0h3m1 0h3m-2 0h3m-2 0h3m-1 0h3m-2 0h3m1 0h3m1 0h3m0 0h3m2 0h3m-2 0h3m18 0h3m-1 0h3m10 0h3m18 0h3m9 0h3m13 0h3m11 0h3m-1 0h3m29 0h3m32 0h3m18 0h3m-337 1h3m-1 0h3m10 0h3m1 0h3m11 0h3m-1 0h3m1 0h3m-1 0h3m-2 0h3m4 0h3m-1 0h3m-2 0h3m-2 0h3m2 0h3m-2 0h3m0 0h3m-1 0h3m1 0h3m0 0h3m2 0h3m-2 0h3m-1 0h3m1 0h3m-2 0h3m-2 0h3m-2 0h3m-2 0h3m-2 0h3m-2 0h3m0 0h3m-2 0h3m3 0h3m1 0h3m-2 0h3m-2 0h3m0 0h3m-2 0h3m-2 0h3m-1 0h3m3 0h3m0 0h3m-1 0h3m-2 0h3m2 0h3m0 0h3m3 0h3m-2 0h3m3 0h3m1 0h3m-1 0h3m7 0h3m0 0h3m-2 0h3m-2 0h3m13 0h3m12 0h3m3 0h3m8 0h3m22 0h3m35 0h3m0 0h3m7 0h3m1 0h3m5 0h3m3 0h3m19 0h3m5 0h3m-346 1h3m-1 0h3m-2 0h3m1 0h3m0 0h3m-1 0h3m4 0h3m-1 0h3m5 0h3m2 0h3m-2 0h3m7 0h3m-2 0h3m-2 0h3m-2 0h3m-2 0h3m-2 0h3m-2 0h3m1 0h3m-2 0h3m-2 0h3m2 0h3m-1 0h3m-2 0h3m-1 0h3m5 0h3m-1 0h3m0 0h3m-1 0h3m-2 0h3m1 0h3m1 0h3m-2 0h3m-2 0h3m5 0h3m0 0h3m-1 0h3m-2 0h3m2 0h3m-2 0h3m-1 0h3m2 0h3m2 0h3m-2 0h3m-2 0h3m-1 0h3m-2 0h3m-2 0h3m-2 0h3m-2 0h3m6 0h3m-2 0h3m-2 0h3m-1 0h3m-1 0h3m1 0h3m-2 0h3m-1 0h3m10 0h3m8 0h3m0 0h3m1 0h3m0 0h3m2 0h3m9 0h3m23 0h3m16 0h3m6 0h3m-2 0h3m9 0h3m0 0h3m7 0h3m19 0h3m50 0h3m-364 1h3m-1 0h3m-2 0h3m2 0h3m-2 0h3m7 0h3m-2 0h3m0 0h3m0 0h3m-2 0h3m1 0h3m-2 0h3m3 0h3m1 0h3m-2 0h3m-1 0h3m-1 0h3m-2 0h3m-2 0h3m-2 0h3m-2 0h3m-2 0h3m4 0h3m-2 0h3m0 0h3m-1 0h3m0 0h3m-2 0h3m0 0h3m0 0h3m0 0h3m-2 0h3m-2 0h3m-2 0h3m-1 0h3m-2 0h3m-2 0h3m-2 0h3m-2 0h3m-2 0h3m-2 0h3m0 0h3m1 0h3m0 0h3m2 0h3m0 0h3m0 0h3m-2 0h3m-1 0h3m-2 0h3m-2 0h3m0 0h3m-2 0h3m-2 0h3m7 0h3m-1 0h3m-2 0h3m0 0h3m1 0h3m-1 0h3m1 0h3m19 0h3m-1 0h3m0 0h3m-1 0h3m7 0h3m-2 0h3m0 0h3m4 0h3m0 0h3m22 0h3m19 0h3m18 0h3m3 0h3m27 0h3m23 0h3m13 0h3m-351 1h3m7 0h3m-1 0h3m0 0h3m-2 0h3m-2 0h3m-2 0h3m-2 0h3m-2 0h3m-2 0h3m2 0h3m0 0h3m-2 0h3m-2 0h3m-2 0h3m0 0h3m-2 0h3m-2 0h3m-2 0h3m-2 0h3m-2 0h3m2 0h3m-1 0h3m-2 0h3m-1 0h3m0 0h3m-1 0h3m2 0h3m4 0h3m-2 0h3m-2 0h3m-2 0h3m0 0h3m-1 0h3m-1 0h3m-1 0h3m0 0h3m0 0h3m1 0h3m-2 0h3m-2 0h3m-2 0h3m-1 0h3m7 0h3m-2 0h3m3 0h3m-1 0h3m2 0h3m-1 0h3m-1 0h3m-1 0h3m-2 0h3m4 0h3m-1 0h3m1 0h3m1 0h3m3 0h3m-2 0h3m0 0h3m0 0h3m-2 0h3m-1 0h3m-1 0h3m12 0h3m8 0h3m6 0h3m4 0h3m0 0h3m17 0h3m17 0h3m11 0h3m6 0h3m9 0h3m-278 1h3m1 0h3m-1 0h3m1 0h3m5 0h3m0 0h3m-1 0h3m-2 0h3m-2 0h3m-1 0h3m-2 0h3m1 0h3m-1 0h3m-1 0h3m0 0h3m-2 0h3m-1 0h3m1 0h3m-2 0h3m2 0h3m-2 0h3m2 0h3m1 0h3m0 0h3m-2 0h3m0 0h3m-2 0h3m-1 0h3m6 0h3m4 0h3m-2 0h3m-1 0h3m-2 0h3m-2 0h3m-1 0h3m2 0h3m-2 0h3m-2 0h3m-2 0h3m-1 0h3m0 0h3m-1 0h3m0 0h3m-1 0h3m8 0h3m0 0h3m-2 0h3m-1 0h3m0 0h3m25 0h3m-2 0h3m2 0h3m5 0h3m19 0h3m-1 0h3m5 0h3m0 0h3m-2 0h3m26 0h3m10 0h3m25 0h3m22 0h3m10 0h3m-324 1h3m13 0h3m5 0h3m1 0h3m0 0h3m1 0h3m-2 0h3m-1 0h3m-2 0h3m-1 0h3m-2 0h3m3 0h3m1 0h3m0 0h3m-1 0h3m-2 0h3m0 0h3m-1 0h3m0 0h3m-1 0h3m-1 0h3m1 0h3m-2 0h3m0 0h3m-2 0h3m-1 0h3m-2 0h3m-2 0h3m-2 0h3m-1 0h3m-1 0h3m-1 0h3m-2 0h3m0 0h3m-1 0h3m-1 0h3m2 0h3m-1 0h3m-2 0h3m-2 0h3m-2 0h3m-2 0h3m-1 0h3m-2 0h3m-1 0h3m4 0h3m4 0h3m-1 0h3m0 0h3m0 0h3m14 0h3m14 0h3m4 0h3m9 0h3m-1 0h3m14 0h3m0 0h3m2 0h3m2 0h3m1 0h3m5 0h3m9 0h3m-2 0h3m16 0h3m5 0h3m49 0h3m-332 1h3m6 0h3m3 0h3m-2 0h3m-1 0h3m2 0h3m-1 0h3m5 0h3m3 0h3m-2 0h3m-2 0h3m-1 0h3m-2 0h3m-2 0h3m2 0h3m3 0h3m0 0h3m-2 0h3m2 0h3m0 0h3m-1 0h3m1 0h3m0 0h3m-2 0h3m2 0h3m-2 0h3m-2 0h3m2 0h3m-2 0h3m-2 0h3m-1 0h3m-2 0h3m1 0h3m-1 0h3m-1 0h3m2 0h3m-2 0h3m-2 0h3m-2 0h3m1 0h3m-2 0h3m1 0h3m6 0h3m0 0h3m8 0h3m-1 0h3m4 0h3m4 0h3m-2 0h3m23 0h3m11 0h3m11 0h3m10 0h3m-1 0h3m70 0h3m40 0h3m-343 1h3m2 0h3m7 0h3m1 0h3m-1 0h3m0 0h3m2 0h3m-2 0h3m6 0h3m2 0h3m-2 0h3m-2 0h3m2 0h3m-1 0h3m-2 0h3m2 0h3m0 0h3m-1 0h3m-2 0h3m-1 0h3m-1 0h3m-2 0h3m0 0h3m0 0h3m0 0h3m-2 0h3m-2 0h3m-2 0h3m-1 0h3m-1 0h3m-2 0h3m0 0h3m1 0h3m0 0h3m-1 0h3m-1 0h3m3 0h3m-2 0h3m-2 0h3m1 0h3m-1 0h3m-2 0h3m-2 0h3m11 0h3m12 0h3m22 0h3m1 0h3m16 0h3m3 0h3m29 0h3m35 0h3m13 0h3m29 0h3m-327 1h3m0 0h3m-1 0h3m18 0h3m3 0h3m1 0h3m-2 0h3m-2 0h3m1 0h3m2 0h3m-2 0h3m2 0h3m-1 0h3m-1 0h3m-2 0h3m1 0h3m0 0h3m-2 0h3m0 0h3m0 0h3m1 0h3m6 0h3m-2 0h3m2 0h3m-1 0h3m-1 0h3m-2 0h3m-1 0h3m-1 0h3m0 0h3m-1 0h3m0 0h3m-2 0h3m1 0h3m-2 0h3m-2 0h3m-1 0h3m-2 0h3m-1 0h3m1 0h3m0 0h3m2 0h3m-1 0h3m-1 0h3m0 0h3m10 0h3m1 0h3m33 0h3m7 0h3m6 0h3m-1 0h3m5 0h3m0 0h3m39 0h3m10 0h3m32 0h3m-2 0h3m3 0h3m-322 1h3m4 0h3m6 0h3m-1 0h3m0 0h3m-1 0h3m2 0h3m-2 0h3m-2 0h3m-1 0h3m-1 0h3m-2 0h3m-1 0h3m-2 0h3m-1 0h3m-2 0h3m0 0h3m-2 0h3m-2 0h3m2 0h3m-1 0h3m-2 0h3m-2 0h3m6 0h3m-1 0h3m-2 0h3m1 0h3m0 0h3m4 0h3m-2 0h3m-2 0h3m-1 0h3m-2 0h3m-1 0h3m-2 0h3m-2 0h3m-2 0h3m0 0h3m-2 0h3m2 0h3m1 0h3m-2 0h3m-2 0h3m-1 0h3m-1 0h3m1 0h3m-2 0h3m-2 0h3m3 0h3m7 0h3m-2 0h3m-2 0h3m4 0h3m0 0h3m0 0h3m-1 0h3m-2 0h3m1 0h3m1 0h3m0 0h3m3 0h3m10 0h3m0 0h3m1 0h3m-1 0h3m-1 0h3m10 0h3m9 0h3m0 0h3m15 0h3m5 0h3m0 0h3m31 0h3m15 0h3m-296 1h3m1 0h3m1 0h3m9 0h3m1 0h3m2 0h3m-1 0h3m-2 0h3m-2 0h3m-2 0h3m1 0h3m-2 0h3m0 0h3m-1 0h3m-2 0h3m-1 0h3m-1 0h3m-1 0h3m1 0h3m-1 0h3m-2 0h3m-1 0h3m0 0h3m-2 0h3m-2 0h3m-2 0h3m-2 0h3m0 0h3m0 0h3m0 0h3m-2 0h3m-2 0h3m-1 0h3m4 0h3m0 0h3m-1 0h3m6 0h3m-1 0h3m1 0h3m0 0h3m-1 0h3m-1 0h3m0 0h3m3 0h3m-2 0h3m12 0h3m-1 0h3m-1 0h3m10 0h3m9 0h3m13 0h3m-1 0h3m11 0h3m5 0h3m7 0h3m12 0h3m4 0h3m-1 0h3m1 0h3m17 0h3m11 0h3m39 0h3m-331 1h3m0 0h3m9 0h3m-1 0h3m-2 0h3m0 0h3m4 0h3m-2 0h3m-1 0h3m-1 0h3m-2 0h3m-1 0h3m0 0h3m1 0h3m2 0h3m-1 0h3m-1 0h3m3 0h3m0 0h3m0 0h3m-2 0h3m-2 0h3m0 0h3m-2 0h3m-2 0h3m-1 0h3m2 0h3m-1 0h3m-2 0h3m1 0h3m0 0h3m2 0h3m-2 0h3m0 0h3m-2 0h3m-2 0h3m-2 0h3m-2 0h3m0 0h3m0 0h3m-2 0h3m-2 0h3m-1 0h3m3 0h3m-2 0h3m2 0h3m-1 0h3m-2 0h3m4 0h3m-1 0h3m-2 0h3m5 0h3m-1 0h3m20 0h3m8 0h3m-1 0h3m0 0h3m31 0h3m6 0h3m10 0h3m-2 0h3m12 0h3m11 0h3m66 0h3m14 0h3m-359 1h3m-1 0h3m-1 0h3m8 0h3m0 0h3m-1 0h3m0 0h3m-2 0h3m-1 0h3m-1 0h3m4 0h3m-2 0h3m-2 0h3m-2 0h3m0 0h3m-2 0h3m1 0h3m1 0h3m0 0h3m3 0h3m-2 0h3m-2 0h3m0 0h3m0 0h3m-2 0h3m-1 0h3m-1 0h3m-2 0h3m-1 0h3m8 0h3m-2 0h3m-1 0h3m-1 0h3m-1 0h3m-2 0h3m-2 0h3m0 0h3m1 0h3m-1 0h3m-2 0h3m-1 0h3m-1 0h3m2 0h3m-1 0h3m3 0h3m3 0h3m2 0h3m-1 0h3m2 0h3m8 0h3m10 0h3m14 0h3m-1 0h3m2 0h3m6 0h3m10 0h3m4 0h3m-2 0h3m-1 0h3m4 0h3m13 0h3m8 0h3m17 0h3m0 0h3m-274 1h3m18 0h3m0 0h3m-2 0h3m-2 0h3m0 0h3m-1 0h3m0 0h3m2 0h3m5 0h3m-1 0h3m-1 0h3m2 0h3m2 0h3m6 0h3m-2 0h3m-2 0h3m1 0h3m-1 0h3m-1 0h3m-2 0h3m-2 0h3m-2 0h3m2 0h3m1 0h3m-2 0h3m-1 0h3m-2 0h3m-1 0h3m-1 0h3m-1 0h3m-1 0h3m2 0h3m-2 0h3m0 0h3m7 0h3m3 0h3m0 0h3m11 0h3m-2 0h3m6 0h3m-2 0h3m9 0h3m1 0h3m20 0h3m4 0h3m6 0h3m0 0h3m14 0h3m10 0h3m27 0h3m13 0h3m46 0h3m5 0h3m-359 1h3m-1 0h3m-2 0h3m3 0h3m10 0h3m0 0h3m-1 0h3m0 0h3m-2 0h3m2 0h3m-2 0h3m-2 0h3m-2 0h3m-2 0h3m0 0h3m-2 0h3m-2 0h3m1 0h3m-2 0h3m-1 0h3m-2 0h3m-2 0h3m0 0h3m0 0h3m-2 0h3m-2 0h3m0 0h3m1 0h3m0 0h3m-2 0h3m0 0h3m1 0h3m-1 0h3m-2 0h3m3 0h3m0 0h3m-1 0h3m-2 0h3m-1 0h3m-1 0h3m-1 0h3m3 0h3m-2 0h3m3 0h3m-1 0h3m0 0h3m-2 0h3m-2 0h3m6 0h3m1 0h3m-2 0h3m7 0h3m1 0h3m1 0h3m2 0h3m5 0h3m4 0h3m7 0h3m51 0h3m10 0h3m1 0h3m-2 0h3m7 0h3m2 0h3m24 0h3m-300 1h3m20 0h3m1 0h3m1 0h3m-1 0h3m-1 0h3m-1 0h3m3 0h3m-2 0h3m-1 0h3m-2 0h3m-1 0h3m-2 0h3m7 0h3m0 0h3m-1 0h3m10 0h3m-2 0h3m-2 0h3m-2 0h3m-1 0h3m-2 0h3m-2 0h3m0 0h3m1 0h3m4 0h3m0 0h3m2 0h3m1 0h3m-1 0h3m-2 0h3m-2 0h3m7 0h3m-1 0h3m1 0h3m-1 0h3m-2 0h3m-1 0h3m0 0h3m2 0h3m-1 0h3m22 0h3m-2 0h3m25 0h3m1 0h3m0 0h3m11 0h3m3 0h3m0 0h3m29 0h3m0 0h3m7 0h3m4 0h3m-2 0h3m0 0h3m2 0h3m8 0h3m20 0h3m-310 1h3m3 0h3m-2 0h3m1 0h3m2 0h3m-1 0h3m-1 0h3m0 0h3m-2 0h3m-1 0h3m2 0h3m-1 0h3m0 0h3m2 0h3m1 0h3m-1 0h3m4 0h3m-1 0h3m-2 0h3m1 0h3m-2 0h3m1 0h3m2 0h3m-1 0h3m-2 0h3m-2 0h3m-2 0h3m-2 0h3m-1 0h3m-2 0h3m-2 0h3m0 0h3m5 0h3m-1 0h3m-1 0h3m-1 0h3m-1 0h3m-2 0h3m-1 0h3m-1 0h3m-2 0h3m0 0h3m0 0h3m3 0h3m11 0h3m5 0h3m8 0h3m1 0h3m24 0h3m5 0h3m8 0h3m1 0h3m12 0h3m6 0h3m5 0h3m3 0h3m-2 0h3m26 0h3m7 0h3m38 0h3m16 0h3m-364 1h3m-1 0h3m2 0h3m2 0h3m6 0h3m1 0h3m1 0h3m-2 0h3m-1 0h3m-2 0h3m-2 0h3m-1 0h3m-2 0h3m-1 0h3m0 0h3m-2 0h3m3 0h3m-1 0h3m1 0h3m0 0h3m-2 0h3m3 0h3m-2 0h3m1 0h3m-1 0h3m-2 0h3m2 0h3m-1 0h3m0 0h3m-2 0h3m-2 0h3m1 0h3m1 0h3m-1 0h3m-2 0h3m-1 0h3m-2 0h3m0 0h3m-2 0h3m-1 0h3m0 0h3m3 0h3m-2 0h3m7 0h3m0 0h3m0 0h3m3 0h3m2 0h3m4 0h3m5 0h3m9 0h3m44 0h3m-1 0h3m9 0h3m0 0h3m47 0h3m5 0h3m29 0h3m23 0h3m-354 1h3m4 0h3m0 0h3m1 0h3m0 0h3m4 0h3m-2 0h3m0 0h3m2 0h3m-1 0h3m-1 0h3m-1 0h3m-2 0h3m-1 0h3m0 0h3m-2 0h3m7 0h3m-2 0h3m-1 0h3m-1 0h3m-2 0h3m1 0h3m-2 0h3m-2 0h3m1 0h3m3 0h3m-2 0h3m-2 0h3m-1 0h3m-1 0h3m-1 0h3m0 0h3m-2 0h3m-2 0h3m0 0h3m-1 0h3m-2 0h3m-1 0h3m-1 0h3m-2 0h3m-2 0h3m-1 0h3m-2 0h3m-2 0h3m-2 0h3m-1 0h3m-1 0h3m-2 0h3m-2 0h3m6 0h3m0 0h3m2 0h3m8 0h3m37 0h3m-2 0h3m0 0h3m-1 0h3m15 0h3m2 0h3m-2 0h3m27 0h3m13 0h3m-1 0h3m9 0h3m7 0h3m3 0h3m5 0h3m31 0h3m8 0h3m3 0h3m-347 1h3m21 0h3m0 0h3m0 0h3m9 0h3m0 0h3m-2 0h3m-2 0h3m-2 0h3m3 0h3m-2 0h3m0 0h3m3 0h3m-2 0h3m-2 0h3m-2 0h3m-2 0h3m2 0h3m0 0h3m-1 0h3m6 0h3m1 0h3m0 0h3m-2 0h3m0 0h3m-2 0h3m0 0h3m-1 0h3m-2 0h3m0 0h3m-1 0h3m-2 0h3m1 0h3m-1 0h3m-1 0h3m25 0h3m-1 0h3m-2 0h3m10 0h3m7 0h3m9 0h3m0 0h3m4 0h3m17 0h3m-1 0h3m17 0h3m0 0h3m8 0h3m35 0h3m19 0h3m64 0h3m-383 1h3m10 0h3m10 0h3m1 0h3m3 0h3m-2 0h3m-1 0h3m-1 0h3m-2 0h3m-2 0h3m-2 0h3m-2 0h3m4 0h3m-1 0h3m-2 0h3m-2 0h3m1 0h3m0 0h3m-2 0h3m-1 0h3m3 0h3m0 0h3m-2 0h3m-2 0h3m-2 0h3m-2 0h3m0 0h3m0 0h3m-2 0h3m-2 0h3m0 0h3m-1 0h3m0 0h3m-1 0h3m5 0h3m0 0h3m2 0h3m11 0h3m-2 0h3m-1 0h3m-1 0h3m7 0h3m7 0h3m0 0h3m1 0h3m-1 0h3m3 0h3m15 0h3m5 0h3m2 0h3m4 0h3m1 0h3m9 0h3m3 0h3m13 0h3m25 0h3m16 0h3m5 0h3m-301 1h3m3 0h3m0 0h3m-1 0h3m0 0h3m15 0h3m1 0h3m-1 0h3m-2 0h3m-1 0h3m0 0h3m2 0h3m0 0h3m-1 0h3m1 0h3m-1 0h3m-2 0h3m1 0h3m0 0h3m-2 0h3m-2 0h3m-1 0h3m1 0h3m-2 0h3m1 0h3m1 0h3m-1 0h3m-2 0h3m-1 0h3m1 0h3m-2 0h3m-2 0h3m3 0h3m-1 0h3m0 0h3m0 0h3m-1 0h3m-1 0h3m-1 0h3m3 0h3m13 0h3m-1 0h3m-1 0h3m7 0h3m4 0h3m-2 0h3m32 0h3m13 0h3m10 0h3m9 0h3m-1 0h3m9 0h3m-1 0h3m5 0h3m9 0h3m11 0h3m91 0h3m-380 1h3m-2 0h3m-2 0h3m6 0h3m7 0h3m-2 0h3m4 0h3m-1 0h3m-2 0h3m0 0h3m1 0h3m0 0h3m-2 0h3m-2 0h3m1 0h3m-2 0h3m4 0h3m-2 0h3m-2 0h3m-1 0h3m-2 0h3m5 0h3m-2 0h3m1 0h3m-2 0h3m-2 0h3m0 0h3m0 0h3m-1 0h3m-1 0h3m-2 0h3m8 0h3m-2 0h3m-2 0h3m-2 0h3m-2 0h3m-2 0h3m-2 0h3m-1 0h3m0 0h3m-1 0h3m0 0h3m-2 0h3m-2 0h3m4 0h3m1 0h3m2 0h3m6 0h3m-1 0h3m6 0h3m3 0h3m1 0h3m6 0h3m0 0h3m12 0h3m-2 0h3m0 0h3m92 0h3m2 0h3m-2 0h3m12 0h3m-314 1h3m-2 0h3m19 0h3m-1 0h3m-1 0h3m2 0h3m-1 0h3m1 0h3m-2 0h3m-1 0h3m-2 0h3m-1 0h3m-1 0h3m-1 0h3m-2 0h3m-2 0h3m-1 0h3m2 0h3m-1 0h3m1 0h3m-2 0h3m2 0h3m0 0h3m-2 0h3m-2 0h3m0 0h3m-2 0h3m0 0h3m-1 0h3m0 0h3m-2 0h3m-1 0h3m-2 0h3m-1 0h3m-1 0h3m-1 0h3m-2 0h3m-2 0h3m0 0h3m-1 0h3m-2 0h3m-2 0h3m5 0h3m-1 0h3m10 0h3m4 0h3m4 0h3m9 0h3m-2 0h3m-1 0h3m10 0h3m-1 0h3m-1 0h3m4 0h3m6 0h3m-2 0h3m15 0h3m1 0h3m2 0h3m2 0h3m10 0h3m6 0h3m-1 0h3m3 0h3m-2 0h3m5 0h3m27 0h3m3 0h3m55 0h3m-342 1h3m0 0h3m0 0h3m2 0h3m-1 0h3m-2 0h3m-2 0h3m0 0h3m-2 0h3m-2 0h3m-2 0h3m-2 0h3m-2 0h3m3 0h3m1 0h3m-1 0h3m0 0h3m-2 0h3m-2 0h3m-2 0h3m-2 0h3m0 0h3m3 0h3m-2 0h3m-2 0h3m6 0h3m-2 0h3m0 0h3m3 0h3m-2 0h3m-2 0h3m-2 0h3m-2 0h3m-2 0h3m-2 0h3m-2 0h3m1 0h3m1 0h3m-2 0h3m-2 0h3m-1 0h3m-2 0h3m-2 0h3m-2 0h3m-2 0h3m1 0h3m10 0h3m12 0h3m-1 0h3m1 0h3m15 0h3m-1 0h3m4 0h3m10 0h3m6 0h3m13 0h3m16 0h3m19 0h3m4 0h3m35 0h3m-303 1h3m8 0h3m16 0h3m3 0h3m-1 0h3m-2 0h3m0 0h3m2 0h3m-2 0h3m-2 0h3m-2 0h3m-2 0h3m-2 0h3m1 0h3m-2 0h3m1 0h3m-1 0h3m-2 0h3m2 0h3m1 0h3m-1 0h3m5 0h3m0 0h3m-2 0h3m4 0h3m-2 0h3m-2 0h3m-1 0h3m-1 0h3m1 0h3m1 0h3m0 0h3m4 0h3m9 0h3m-2 0h3m-1 0h3m0 0h3m2 0h3m-2 0h3m-1 0h3m1 0h3m49 0h3m7 0h3m13 0h3m22 0h3m15 0h3m23 0h3m3 0h3m50 0h3m2 0h3m-363 1h3m7 0h3m15 0h3m-1 0h3m-1 0h3m-1 0h3m-2 0h3m0 0h3m-1 0h3m-2 0h3m-1 0h3m-2 0h3m-2 0h3m-1 0h3m-2 0h3m0 0h3m0 0h3m-1 0h3m-1 0h3m-2 0h3m1 0h3m-1 0h3m0 0h3m0 0h3m-1 0h3m-2 0h3m-2 0h3m-2 0h3m-2 0h3m-1 0h3m4 0h3m0 0h3m3 0h3m2 0h3m-2 0h3m0 0h3m-1 0h3m0 0h3m-2 0h3m3 0h3m5 0h3m0 0h3m-1 0h3m3 0h3m-2 0h3m-2 0h3m-2 0h3m0 0h3m4 0h3m-2 0h3m2 0h3m7 0h3m3 0h3m2 0h3m26 0h3m20 0h3m27 0h3m5 0h3m4 0h3m19 0h3m2 0h3m-1 0h3m0 0h3m0 0h3m10 0h3m-303 1h3m4 0h3m-1 0h3m-2 0h3m1 0h3m3 0h3m-2 0h3m-1 0h3m-1 0h3m1 0h3m-1 0h3m-2 0h3m-2 0h3m-2 0h3m-1 0h3m-1 0h3m1 0h3m-2 0h3m1 0h3m-2 0h3m0 0h3m-2 0h3m-1 0h3m-2 0h3m-2 0h3m1 0h3m1 0h3m0 0h3m-2 0h3m-2 0h3m2 0h3m-1 0h3m12 0h3m-2 0h3m3 0h3m-1 0h3m-1 0h3m-2 0h3m5 0h3m8 0h3m-2 0h3m0 0h3m2 0h3m3 0h3m4 0h3m9 0h3m10 0h3m-2 0h3m21 0h3m25 0h3m-2 0h3m3 0h3m16 0h3m-1 0h3m-267 1h3m14 0h3m1 0h3m-1 0h3m3 0h3m-2 0h3m0 0h3m3 0h3m-2 0h3m-2 0h3m-2 0h3m-1 0h3m1 0h3m0 0h3m-2 0h3m-1 0h3m-2 0h3m-1 0h3m0 0h3m1 0h3m-2 0h3m-1 0h3m0 0h3m1 0h3m-1 0h3m-2 0h3m-2 0h3m-2 0h3m-1 0h3m-2 0h3m-1 0h3m-2 0h3m-1 0h3m0 0h3m-2 0h3m-2 0h3m8 0h3m5 0h3m3 0h3m-2 0h3m4 0h3m12 0h3m-2 0h3m9 0h3m-2 0h3m-1 0h3m1 0h3m8 0h3m14 0h3m13 0h3m37 0h3m-1 0h3m-244 1h3m2 0h3m5 0h3m2 0h3m3 0h3m1 0h3m-2 0h3m1 0h3m2 0h3m-2 0h3m-2 0h3m1 0h3m0 0h3m-2 0h3m-2 0h3m0 0h3m1 0h3m-2 0h3m0 0h3m-2 0h3m6 0h3m-1 0h3m-2 0h3m-2 0h3m1 0h3m-2 0h3m2 0h3m2 0h3m2 0h3m0 0h3m4 0h3m-2 0h3m6 0h3m-2 0h3m-1 0h3m3 0h3m6 0h3m-1 0h3m0 0h3m-1 0h3m2 0h3m24 0h3m7 0h3m2 0h3m8 0h3m0 0h3m15 0h3m9 0h3m7 0h3m17 0h3m2 0h3m-2 0h3m14 0h3m26 0h3m11 0h3m-328 1h3m-2 0h3m9 0h3m-2 0h3m-1 0h3m3 0h3m-2 0h3m-2 0h3m-1 0h3m0 0h3m2 0h3m-2 0h3m2 0h3m-2 0h3m-2 0h3m0 0h3m1 0h3m-2 0h3m-2 0h3m-2 0h3m-2 0h3m-2 0h3m0 0h3m-2 0h3m-1 0h3m-1 0h3m-1 0h3m-2 0h3m-2 0h3m2 0h3m-2 0h3m-2 0h3m-2 0h3m-1 0h3m-2 0h3m-1 0h3m0 0h3m-2 0h3m-1 0h3m-1 0h3m0 0h3m-1 0h3m-1 0h3m-1 0h3m-1 0h3m-1 0h3m2 0h3m-2 0h3m7 0h3m3 0h3m1 0h3m12 0h3m13 0h3m3 0h3m1 0h3m1 0h3m8 0h3m7 0h3m9 0h3m14 0h3m25 0h3m26 0h3m-286 1h3m0 0h3m1 0h3m1 0h3m1 0h3m10 0h3m0 0h3m0 0h3m2 0h3m0 0h3m0 0h3m-1 0h3m-1 0h3m-2 0h3m-2 0h3m-1 0h3m-2 0h3m-2 0h3m0 0h3m-1 0h3m-2 0h3m-1 0h3m2 0h3m-2 0h3m-2 0h3m-2 0h3m-2 0h3m-2 0h3m-1 0h3m3 0h3m-1 0h3m2 0h3m0 0h3m-1 0h3m6 0h3m3 0h3m-1 0h3m3 0h3m-2 0h3m3 0h3m-2 0h3m-1 0h3m-1 0h3m1 0h3m2 0h3m-2 0h3m-2 0h3m7 0h3m-1 0h3m0 0h3m12 0h3m14 0h3m3 0h3m11 0h3m3 0h3m14 0h3m4 0h3m6 0h3m-250 1h3m23 0h3m5 0h3m-2 0h3m1 0h3m0 0h3m-1 0h3m-1 0h3m1 0h3m1 0h3m-2 0h3m-1 0h3m-2 0h3m2 0h3m4 0h3m1 0h3m-1 0h3m-2 0h3m1 0h3m-1 0h3m1 0h3m3 0h3m0 0h3m0 0h3m-2 0h3m-2 0h3m-2 0h3m1 0h3m3 0h3m-1 0h3m4 0h3m2 0h3m7 0h3m23 0h3m13 0h3m3 0h3m-2 0h3m13 0h3m-2 0h3m15 0h3m4 0h3m5 0h3m3 0h3m7 0h3m40 0h3m25 0h3m15 0h3m-337 1h3m2 0h3m-2 0h3m5 0h3m-2 0h3m-1 0h3m-1 0h3m0 0h3m-1 0h3m12 0h3m-2 0h3m-2 0h3m-2 0h3m2 0h3m6 0h3m0 0h3m3 0h3m0 0h3m-1 0h3m-1 0h3m-1 0h3m-1 0h3m-2 0h3m0 0h3m1 0h3m0 0h3m-2 0h3m5 0h3m2 0h3m-2 0h3m4 0h3m-2 0h3m-1 0h3m-1 0h3m0 0h3m5 0h3m12 0h3m47 0h3m0 0h3m21 0h3m5 0h3m17 0h3m2 0h3m17 0h3m9 0h3m24 0h3m-316 1h3m4 0h3m4 0h3m11 0h3m0 0h3m-1 0h3m1 0h3m-1 0h3m-1 0h3m2 0h3m-2 0h3m-1 0h3m-1 0h3m-2 0h3m-2 0h3m0 0h3m0 0h3m-2 0h3m0 0h3m-1 0h3m-2 0h3m4 0h3m-2 0h3m4 0h3m-2 0h3m-2 0h3m4 0h3m2 0h3m-2 0h3m6 0h3m2 0h3m-2 0h3m-2 0h3m3 0h3m24 0h3m0 0h3m0 0h3m54 0h3m13 0h3m34 0h3m16 0h3m17 0h3m39 0h3m-353 1h3m1 0h3m7 0h3m2 0h3m5 0h3m0 0h3m-1 0h3m5 0h3m1 0h3m-2 0h3m-2 0h3m-1 0h3m-2 0h3m0 0h3m-1 0h3m-1 0h3m4 0h3m7 0h3m-1 0h3m-1 0h3m-1 0h3m1 0h3m-1 0h3m-1 0h3m-2 0h3m0 0h3m1 0h3m6 0h3m-1 0h3m3 0h3m7 0h3m-2 0h3m-1 0h3m3 0h3m0 0h3m11 0h3m8 0h3m-1 0h3m11 0h3m19 0h3m18 0h3m-2 0h3m15 0h3m7 0h3m3 0h3m15 0h3m13 0h3m24 0h3m-318 1h3m-1 0h3m-2 0h3m4 0h3m28 0h3m2 0h3m-2 0h3m-2 0h3m-2 0h3m-2 0h3m-1 0h3m1 0h3m-2 0h3m-2 0h3m1 0h3m-1 0h3m-1 0h3m0 0h3m-2 0h3m-2 0h3m5 0h3m3 0h3m-1 0h3m-1 0h3m-2 0h3m1 0h3m-1 0h3m-2 0h3m-2 0h3m0 0h3m1 0h3m2 0h3m1 0h3m-2 0h3m0 0h3m3 0h3m0 0h3m10 0h3m18 0h3m4 0h3m43 0h3m7 0h3m4 0h3m3 0h3m2 0h3m10 0h3m1 0h3m10 0h3m-1 0h3m12 0h3m-291 1h3m22 0h3m0 0h3m-2 0h3m7 0h3m1 0h3m3 0h3m-1 0h3m1 0h3m-1 0h3m1 0h3m-1 0h3m0 0h3m-2 0h3m-1 0h3m5 0h3m-2 0h3m1 0h3m-1 0h3m10 0h3m3 0h3m10 0h3m3 0h3m7 0h3m6 0h3m1 0h3m25 0h3m20 0h3m5 0h3m8 0h3m7 0h3m-2 0h3m22 0h3m3 0h3m0 0h3m0 0h3m16 0h3m0 0h3m32 0h3m6 0h3m15 0h3m-331 1h3m18 0h3m-1 0h3m-2 0h3m14 0h3m-2 0h3m-1 0h3m-2 0h3m-2 0h3m-1 0h3m-1 0h3m-1 0h3m2 0h3m-1 0h3m-2 0h3m1 0h3m-1 0h3m-1 0h3m-1 0h3m2 0h3m2 0h3m-2 0h3m9 0h3m-2 0h3m5 0h3m13 0h3m-1 0h3m9 0h3m-1 0h3m2 0h3m5 0h3m3 0h3m1 0h3m15 0h3m15 0h3m2 0h3m2 0h3m-2 0h3m-2 0h3m21 0h3m-2 0h3m-2 0h3m13 0h3m3 0h3m2 0h3m5 0h3m11 0h3m-300 1h3m8 0h3m14 0h3m9 0h3m4 0h3m1 0h3m3 0h3m-2 0h3m0 0h3m-1 0h3m0 0h3m6 0h3m-2 0h3m-2 0h3m-2 0h3m8 0h3m0 0h3m4 0h3m0 0h3m2 0h3m14 0h3m2 0h3m3 0h3m-1 0h3m-2 0h3m8 0h3m-2 0h3m-2 0h3m-2 0h3m5 0h3m10 0h3m-1 0h3m29 0h3m22 0h3m6 0h3m49 0h3m4 0h3m8 0h3m-317 1h3m-2 0h3m7 0h3m6 0h3m10 0h3m9 0h3m1 0h3m1 0h3m-2 0h3m12 0h3m0 0h3m2 0h3m3 0h3m4 0h3m4 0h3m1 0h3m2 0h3m9 0h3m2 0h3m2 0h3m4 0h3m-2 0h3m12 0h3m-2 0h3m22 0h3m27 0h3m27 0h3m0 0h3m-1 0h3m39 0h3m12 0h3m0 0h3m41 0h3m-349 1h3m6 0h3m2 0h3m-2 0h3m20 0h3m7 0h3m0 0h3m2 0h3m-2 0h3m7 0h3m3 0h3m5 0h3m0 0h3m-2 0h3m0 0h3m-2 0h3m1 0h3m-2 0h3m-1 0h3m9 0h3m20 0h3m38 0h3m59 0h3m18 0h3m13 0h3m12 0h3m2 0h3m10 0h3m26 0h3m-335 1h3m7 0h3m20 0h3m0 0h3m-2 0h3m-1 0h3m8 0h3m-2 0h3m-2 0h3m5 0h3m-2 0h3m-1 0h3m3 0h3m1 0h3m1 0h3m-1 0h3m-2 0h3m4 0h3m5 0h3m8 0h3m-2 0h3m2 0h3m0 0h3m1 0h3m39 0h3m3 0h3m14 0h3m7 0h3m34 0h3m0 0h3m4 0h3m65 0h3m10 0h3m-1 0h3m12 0h3m-317 1h3m4 0h3m3 0h3m2 0h3m-1 0h3m6 0h3m-1 0h3m11 0h3m0 0h3m-1 0h3m1 0h3m0 0h3m19 0h3m3 0h3m6 0h3m7 0h3m7 0h3m-2 0h3m23 0h3m37 0h3m5 0h3m0 0h3m5 0h3m0 0h3m1 0h3m2 0h3m13 0h3m13 0h3m8 0h3m3 0h3m1 0h3m-2 0h3m1 0h3m3 0h3m-300 1h3m-2 0h3m8 0h3m10 0h3m16 0h3m6 0h3m-1 0h3m16 0h3m-2 0h3m0 0h3m1 0h3m5 0h3m6 0h3m3 0h3m-2 0h3m0 0h3m12 0h3m-2 0h3m12 0h3m-1 0h3m-2 0h3m1 0h3m38 0h3m1 0h3m14 0h3m13 0h3m52 0h3m63 0h3m-351 1h3m13 0h3m24 0h3m12 0h3m-1 0h3m1 0h3m7 0h3m1 0h3m-1 0h3m-2 0h3m-1 0h3m1 0h3m-1 0h3m-1 0h3m13 0h3m1 0h3m-2 0h3m8 0h3m19 0h3m19 0h3m8 0h3m-1 0h3m-2 0h3m2 0h3m8 0h3m5 0h3m13 0h3m6 0h3m16 0h3m34 0h3m7 0h3m18 0h3m-313 1h3m2 0h3m20 0h3m7 0h3m37 0h3m1 0h3m0 0h3m3 0h3m3 0h3m16 0h3m11 0h3m27 0h3m34 0h3m3 0h3m27 0h3m8 0h3m21 0h3m12 0h3m-296 1h3m2 0h3m18 0h3m2 0h3m13 0h3m-2 0h3m12 0h3m8 0h3m1 0h3m5 0h3m-1 0h3m9 0h3m5 0h3m24 0h3m-2 0h3m-2 0h3m41 0h3m11 0h3m0 0h3m7 0h3m51 0h3m-2 0h3m5 0h3m1 0h3m1 0h3m6 0h3m33 0h3m-326 1h3m0 0h3m4 0h3m5 0h3m10 0h3m2 0h3m6 0h3m4 0h3m0 0h3m-2 0h3m4 0h3m0 0h3m-1 0h3m6 0h3m6 0h3m-1 0h3m2 0h3m0 0h3m3 0h3m1 0h3m24 0h3m4 0h3m5 0h3m-1 0h3m13 0h3m2 0h3m3 0h3m2 0h3m-2 0h3m6 0h3m0 0h3m41 0h3m11 0h3m26 0h3m30 0h3m41 0h3m-346 1h3m12 0h3m2 0h3m24 0h3m3 0h3m15 0h3m1 0h3m4 0h3m1 0h3m-2 0h3m6 0h3m9 0h3m-1 0h3m15 0h3m9 0h3m12 0h3m32 0h3m13 0h3m21 0h3m19 0h3m1 0h3m11 0h3m8 0h3m49 0h3m-348 1h3m0 0h3m6 0h3m8 0h3m9 0h3m6 0h3m0 0h3m12 0h3m5 0h3m33 0h3m-2 0h3m-2 0h3m0 0h3m2 0h3m6 0h3m2 0h3m-2 0h3m13 0h3m4 0h3m40 0h3m8 0h3m48 0h3m4 0h3m41 0h3m2 0h3m24 0h3m-349 1h3m-1 0h3m21 0h3m4 0h3m2 0h3m20 0h3m18 0h3m-2 0h3m16 0h3m12 0h3m4 0h3m6 0h3m19 0h3m20 0h3m56 0h3m8 0h3m8 0h3m-1 0h3m14 0h3m-281 1h3m-2 0h3m-2 0h3m17 0h3m31 0h3m0 0h3m4 0h3m43 0h3m6 0h3m14 0h3m-2 0h3m7 0h3m15 0h3m1 0h3m2 0h3m10 0h3m22 0h3m19 0h3m2 0h3m6 0h3m1 0h3m36 0h3m3 0h3m-1 0h3m4 0h3m-300 1h3m11 0h3m8 0h3m12 0h3m-2 0h3m6 0h3m-2 0h3m0 0h3m12 0h3m4 0h3m6 0h3m13 0h3m-1 0h3m2 0h3m1 0h3m-2 0h3m0 0h3m20 0h3m76 0h3m0 0h3m0 0h3m-1 0h3m1 0h3m9 0h3m1 0h3m6 0h3m24 0h3m7 0h3m16 0h3m26 0h3m-355 1h3m4 0h3m16 0h3m1 0h3m3 0h3m22 0h3m12 0h3m2 0h3m6 0h3m19 0h3m0 0h3m15 0h3m3 0h3m33 0h3m39 0h3m53 0h3m0 0h3m4 0h3m1 0h3m6 0h3m1 0h3m49 0h3m-350 1h3m10 0h3m24 0h3m5 0h3m0 0h3m13 0h3m0 0h3m3 0h3m-2 0h3m16 0h3m1 0h3m8 0h3m3 0h3m26 0h3m2 0h3m6 0h3m6 0h3m44 0h3m51 0h3m27 0h3m49 0h3m-356 1h3m6 0h3m17 0h3m21 0h3m20 0h3m50 0h3m29 0h3m16 0h3m7 0h3m29 0h3m2 0h3m1 0h3m15 0h3m37 0h3m-2 0h3m18 0h3m-1 0h3m12 0h3m-317 1h3m1 0h3m12 0h3m5 0h3m9 0h3m12 0h3m9 0h3m19 0h3m11 0h3m57 0h3m22 0h3m10 0h3m19 0h3m15 0h3m28 0h3m3 0h3m-1 0h3m21 0h3m27 0h3m3 0h3m-327 1h3m2 0h3m1 0h3m5 0h3m6 0h3m0 0h3m1 0h3m20 0h3m5 0h3m2 0h3m6 0h3m10 0h3m18 0h3m14 0h3m25 0h3m11 0h3m16 0h3m9 0h3m0 0h3m51 0h3m1 0h3m4 0h3m-305 1h3m3 0h3m4 0h3m3 0h3m-2 0h3m6 0h3m14 0h3m38 0h3m-2 0h3m11 0h3m2 0h3m19 0h3m0 0h3m33 0h3m15 0h3m5 0h3m30 0h3m14 0h3m28 0h3m10 0h3m18 0h3m-311 1h3m8 0h3m-1 0h3m1 0h3m-1 0h3m2 0h3m20 0h3m10 0h3m33 0h3m-1 0h3m6 0h3m18 0h3m-1 0h3m63 0h3m7 0h3m-1 0h3m10 0h3m16 0h3m1 0h3m7 0h3m10 0h3m16 0h3m57 0h3m-350 1h3m29 0h3m-2 0h3m4 0h3m12 0h3m0 0h3m6 0h3m21 0h3m-1 0h3m6 0h3m2 0h3m1 0h3m2 0h3m2 0h3m0 0h3m0 0h3m0 0h3m8 0h3m-1 0h3m29 0h3m17 0h3m1 0h3m19 0h3m2 0h3m11 0h3m34 0h3m14 0h3m13 0h3m33 0h3m-345 1h3m32 0h3m10 0h3m2 0h3m2 0h3m1 0h3m-1 0h3m2 0h3m7 0h3m7 0h3m-1 0h3m-2 0h3m13 0h3m9 0h3m2 0h3m5 0h3m49 0h3m17 0h3m2 0h3m38 0h3m3 0h3m16 0h3m18 0h3m12 0h3m25 0h3m-307 1h3m17 0h3m4 0h3m47 0h3m20 0h3m44 0h3m2 0h3m10 0h3m39 0h3m5 0h3m7 0h3m29 0h3m-1 0h3m3 0h3m41 0h3m-346 1h3m-2 0h3m22 0h3m21 0h3m-1 0h3m30 0h3m7 0h3m2 0h3m34 0h3m8 0h3m-1 0h3m26 0h3m6 0h3m17 0h3m9 0h3m2 0h3m4 0h3m4 0h3m10 0h3m6 0h3m2 0h3m11 0h3m-2 0h3m18 0h3m-2 0h3m15 0h3m13 0h3m-331 1h3m14 0h3m12 0h3m4 0h3m8 0h3m17 0h3m31 0h3m7 0h3m6 0h3m21 0h3m32 0h3m2 0h3m10 0h3m5 0h3m17 0h3m1 0h3m2 0h3m33 0h3m-289 1h3m-2 0h3m2 0h3m15 0h3m29 0h3m1 0h3m8 0h3m11 0h3m9 0h3m9 0h3m14 0h3m34 0h3m20 0h3m18 0h3m-2 0h3m8 0h3m-1 0h3m16 0h3m-2 0h3m32 0h3m33 0h3m35 0h3m-353 1h3m21 0h3m12 0h3m14 0h3m1 0h3m3 0h3m0 0h3m-1 0h3m13 0h3m1 0h3m1 0h3m16 0h3m6 0h3m7 0h3m7 0h3m1 0h3m60 0h3m8 0h3m3 0h3m0 0h3m3 0h3m15 0h3m0 0h3m5 0h3m4 0h3m-2 0h3m-2 0h3m-2 0h3m3 0h3m9 0h3m17 0h3m-314 1h3m56 0h3m4 0h3m0 0h3m7 0h3m41 0h3m17 0h3m0 0h3m11 0h3m52 0h3m19 0h3m6 0h3m-1 0h3m0 0h3m4 0h3m3 0h3m11 0h3m28 0h3m-310 1h3m6 0h3m0 0h3m-2 0h3m7 0h3m6 0h3m2 0h3m7 0h3m4 0h3m9 0h3m11 0h3m18 0h3m23 0h3m19 0h3m13 0h3m7 0h3m0 0h3m47 0h3m-2 0h3m49 0h3m16 0h3m10 0h3m7 0h3m-333 1h3m5 0h3m39 0h3m4 0h3m4 0h3m24 0h3m32 0h3m4 0h3m13 0h3m0 0h3m8 0h3m1 0h3m18 0h3m0 0h3m21 0h3m3 0h3m5 0h3m17 0h3m1 0h3m22 0h3m17 0h3m8 0h3m7 0h3m-321 1h3m6 0h3m22 0h3m40 0h3m-2 0h3m15 0h3m3 0h3m5 0h3m-1 0h3m-1 0h3m15 0h3m34 0h3m10 0h3m3 0h3m3 0h3m23 0h3m35 0h3m10 0h3m22 0h3m24 0h3m-315 1h3m18 0h3m51 0h3m14 0h3m1 0h3m0 0h3m0 0h3m48 0h3m16 0h3m37 0h3m35 0h3m44 0h3m32 0h3m18 0h3m-359 1h3m5 0h3m-1 0h3m10 0h3m4 0h3m20 0h3m8 0h3m28 0h3m5 0h3m0 0h3m9 0h3m27 0h3m28 0h3m30 0h3m26 0h3m0 0h3m28 0h3m17 0h3m12 0h3m-292 1h3m0 0h3m7 0h3m3 0h3m11 0h3m18 0h3m3 0h3m2 0h3m29 0h3m5 0h3m31 0h3m15 0h3m19 0h3m2 0h3m11 0h3m-2 0h3m2 0h3m9 0h3m19 0h3m7 0h3m37 0h3m-312 1h3m31 0h3m7 0h3m0 0h3m30 0h3m17 0h3m1 0h3m37 0h3m19 0h3m43 0h3m6 0h3m6 0h3m14 0h3m17 0h3m2 0h3m0 0h3m17 0h3m-1 0h3m29 0h3m14 0h3m-354 1h3m14 0h3m69 0h3m13 0h3m26 0h3m8 0h3m19 0h3m49 0h3m0 0h3m-2 0h3m8 0h3m6 0h3m13 0h3m19 0h3m17 0h3m7 0h3m-314 1h3m0 0h3m55 0h3m1 0h3m53 0h3m45 0h3m0 0h3m12 0h3m7 0h3m16 0h3m3 0h3m-2 0h3m8 0h3m23 0h3m5 0h3m83 0h3m-350 1h3m4 0h3m30 0h3m-2 0h3m31 0h3m8 0h3m-1 0h3m6 0h3m17 0h3m37 0h3m26 0h3m5 0h3m22 0h3m3 0h3m5 0h3m28 0h3m19 0h3m3 0h3m10 0h3m-319 1h3m6 0h3m7 0h3m1 0h3m14 0h3m17 0h3m7 0h3m2 0h3m-1 0h3m27 0h3m13 0h3m10 0h3m20 0h3m7 0h3m5 0h3m19 0h3m17 0h3m2 0h3m19 0h3m2 0h3m8 0h3m2 0h3m6 0h3m5 0h3m-2 0h3m0 0h3m9 0h3m-303 1h3m2 0h3m4 0h3m-1 0h3m1 0h3m32 0h3m-2 0h3m4 0h3m47 0h3m13 0h3m0 0h3m2 0h3m30 0h3m30 0h3m29 0h3m21 0h3m45 0h3m-304 1h3m30 0h3m17 0h3m13 0h3m60 0h3m0 0h3m29 0h3m19 0h3m26 0h3m41 0h3m36 0h3m3 0h3m6 0h3m-322 1h3m1 0h3m2 0h3m25 0h3m49 0h3m8 0h3m38 0h3m0 0h3m23 0h3m3 0h3m32 0h3m4 0h3m19 0h3m-1 0h3m-207 1h3m2 0h3m1 0h3m47 0h3m1 0h3m29 0h3m43 0h3m4 0h3m32 0h3m21 0h3m1 0h3m0 0h3m37 0h3m16 0h3m-1 0h3m15 0h3m-334 1h3m43 0h3m10 0h3m10 0h3m-2 0h3m5 0h3m1 0h3m47 0h3m0 0h3m85 0h3m6 0h3m8 0h3m24 0h3m-2 0h3m4 0h3m61 0h3m-333 1h3m17 0h3m23 0h3m13 0h3m13 0h3m14 0h3m0 0h3m33 0h3m12 0h3m8 0h3m21 0h3m9 0h3m14 0h3m31 0h3m8 0h3m8 0h3m-256 1h3m58 0h3m11 0h3m6 0h3m7 0h3m20 0h3m21 0h3m50 0h3m2 0h3m2 0h3m3 0h3m-1 0h3m11 0h3m12 0h3m-1 0h3m-2 0h3m-1 0h3m-1 0h3m63 0h3m-344 1h3m12 0h3m0 0h3m27 0h3m95 0h3m35 0h3m12 0h3m22 0h3m-2 0h3m13 0h3m3 0h3m21 0h3m17 0h3m43 0h3m-271 1h3m63 0h3m15 0h3m59 0h3m-2 0h3m-2 0h3m27 0h3m5 0h3m-233 1h3m2 0h3m14 0h3m5 0h3m20 0h3m4 0h3m-1 0h3m21 0h3m11 0h3m63 0h3m39 0h3m3 0h3m33 0h3m19 0h3m-2 0h3m19 0h3m-303 1h3m21 0h3m84 0h3m86 0h3m40 0h3m23 0h3m27 0h3m-324 1h3m6 0h3m1 0h3m1 0h3m9 0h3m19 0h3m6 0h3m1 0h3m21 0h3m0 0h3m36 0h3m75 0h3m30 0h3m36 0h3m23 0h3m21 0h3m3 0h3m-329 1h3m-1 0h3m7 0h3m36 0h3m4 0h3m1 0h3m3 0h3m-1 0h3m90 0h3m6 0h3m1 0h3m51 0h3m1 0h3m4 0h3m8 0h3m1 0h3m4 0h3m50 0h3m-330 1h3m46 0h3m5 0h3m0 0h3m-2 0h3m40 0h3m29 0h3m23 0h3m0 0h3m23 0h3m2 0h3m8 0h3m8 0h3m36 0h3m25 0h3m22 0h3m0 0h3m-261 1h3m28 0h3m30 0h3m27 0h3m-2 0h3m11 0h3m50 0h3m0 0h3m10 0h3m11 0h3m9 0h3m21 0h3m6 0h3m-271 1h3m39 0h3m7 0h3m2 0h3m11 0h3m160 0h3m19 0h3m7 0h3m4 0h3m49 0h3m-325 1h3m15 0h3m24 0h3m24 0h3m5 0h3m11 0h3m10 0h3m22 0h3m7 0h3m55 0h3m37 0h3m-1 0h3m2 0h3m54 0h3m-332 1h3m33 0h3m19 0h3m10 0h3m71 0h3m7 0h3m27 0h3m3 0h3m2 0h3m3 0h3m-2 0h3m27 0h3m11 0h3m12 0h3m6 0h3m-1 0h3m-268 1h3m2 0h3m1 0h3m109 0h3m27 0h3m-1 0h3m2 0h3m42 0h3m-1 0h3m25 0h3m4 0h3m58 0h3m1 0h3m-320 1h3m29 0h3m1 0h3m7 0h3m6 0h3m100 0h3m63 0h3m7 0h3m23 0h3m0 0h3m5 0h3m0 0h3m-276 1h3m27 0h3m3 0h3m-1 0h3m21 0h3m51 0h3m-1 0h3m29 0h3m7 0h3m63 0h3m21 0h3m55 0h3m32 0h3m-287 1h3m11 0h3m14 0h3m9 0h3m-2 0h3m-1 0h3m5 0h3m1 0h3m57 0h3m62 0h3m45 0h3m23 0h3m-317 1h3m40 0h3m111 0h3m75 0h3m15 0h3m5 0h3m-2 0h3m42 0h3m8 0h3m-300 1h3m19 0h3m23 0h3m22 0h3m68 0h3m11 0h3m-2 0h3m13 0h3m16 0h3m33 0h3m30 0h3m45 0h3m-321 1h3m-1 0h3m29 0h3m72 0h3m77 0h3m62 0h3m-274 1h3m-2 0h3m7 0h3m24 0h3m8 0h3m32 0h3m54 0h3m33 0h3m5 0h3m23 0h3m52 0h3m22 0h3m-291 1h3m12 0h3m2 0h3m63 0h3m82 0h3m32 0h3m4 0h3m3 0h3m-2 0h3m8 0h3m63 0h3m0 0h3m21 0h3m-330 1h3m9 0h3m71 0h3m8 0h3m-2 0h3m114 0h3m24 0h3m20 0h3m9 0h3m7 0h3m0 0h3m7 0h3m-284 1h3m54 0h3m37 0h3m5 0h3m47 0h3m2 0h3m9 0h3m25 0h3m-1 0h3m27 0h3m0 0h3m70 0h3m-312 1h3m59 0h3m0 0h3m19 0h3m4 0h3m63 0h3m1 0h3m38 0h3m-2 0h3m20 0h3m11 0h3m0 0h3m-1 0h3m55 0h3m-303 1h3m21 0h3m20 0h3m23 0h3m45 0h3m33 0h3m4 0h3m35 0h3m13 0h3m37 0h3m2 0h3m24 0h3m-1 0h3m16 0h3m-327 1h3m-1 0h3m54 0h3m13 0h3m73 0h3m106 0h3m21 0h3m16 0h3m30 0h3m-321 1h3m21 0h3m16 0h3m16 0h3m36 0h3m71 0h3m4 0h3m3 0h3m40 0h3m2 0h3m91 0h3m-351 1h3m20 0h3m6 0h3m49 0h3m-2 0h3m22 0h3m6 0h3m68 0h3m37 0h3m5 0h3m37 0h3m31 0h3m-315 1h3m-2 0h3m33 0h3m12 0h3m26 0h3m32 0h3m19 0h3m1 0h3m-1 0h3m39 0h3m50 0h3m-1 0h3m23 0h3m-261 1h3m7 0h3m9 0h3m102 0h3m20 0h3m24 0h3m23 0h3m16 0h3m23 0h3m0 0h3m13 0h3m-290 1h3m16 0h3m6 0h3m20 0h3m3 0h3m27 0h3m30 0h3m43 0h3m58 0h3m0 0h3m25 0h3m43 0h3m-221 1h3m47 0h3m77 0h3m11 0h3m-215 1h3m18 0h3m25 0h3m3 0h3m29 0h3m17 0h3m123 0h3m25 0h3m0 0h3m8 0h3m-287 1h3m6 0h3m5 0h3m41 0h3m24 0h3m1 0h3m14 0h3m9 0h3m48 0h3m1 0h3m22 0h3m4 0h3m9 0h3m23 0h3m16 0h3m-274 1h3m43 0h3m4 0h3m5 0h3m32 0h3m26 0h3m4 0h3m8 0h3m74 0h3m19 0h3m35 0h3m12 0h3m42 0h3m-265 1h3m46 0h3m39 0h3m0 0h3m7 0h3m41 0h3m84 0h3m-300 1h3m4 0h3m2 0h3m135 0h3m30 0h3m34 0h3m74 0h3m-306 1h3m0 0h3m2 0h3m0 0h3m12 0h3m-1 0h3m10 0h3m35 0h3m49 0h3m19 0h3m53 0h3m9 0h3m18 0h3m4 0h3m6 0h3m-2 0h3m-274 1h3m25 0h3m15 0h3m19 0h3m64 0h3m48 0h3m33 0h3m8 0h3m102 0h3m-318 1h3m33 0h3m-2 0h3m61 0h3m14 0h3m3 0h3m66 0h3m6 0h3m99 0h3m-328 1h3m1 0h3m12 0h3m10 0h3m-2 0h3m44 0h3m65 0h3m52 0h3m42 0h3m-254 1h3m37 0h3m-2 0h3m20 0h3m42 0h3m2 0h3m93 0h3m25 0h3m34 0h3m5 0h3m4 0h3m27 0h3m-322 1h3m16 0h3m6 0h3m159 0h3m8 0h3m10 0h3m8 0h3m2 0h3m6 0h3m34 0h3m41 0h3m-319 1h3m0 0h3m4 0h3m15 0h3m49 0h3m2 0h3m14 0h3m-2 0h3m21 0h3m0 0h3m-2 0h3m0 0h3m-1 0h3m8 0h3m68 0h3m22 0h3m13 0h3m88 0h3m-305 1h3m43 0h3m30 0h3m65 0h3m2 0h3m10 0h3m3 0h3m5 0h3m13 0h3m32 0h3m6 0h3m13 0h3m59 0h3m-359 1h3m-1 0h3m-2 0h3m10 0h3m76 0h3m112 0h3m9 0h3m-1 0h3m13 0h3m36 0h3m9 0h3m1 0h3m-285 1h3m25 0h3m3 0h3m5 0h3m19 0h3m17 0h3m-1 0h3m35 0h3m13 0h3m51 0h3m47 0h3m-271 1h3m5 0h3m-2 0h3m31 0h3m1 0h3m30 0h3m14 0h3m32 0h3m92 0h3m-232 1h3m8 0h3m4 0h3m6 0h3m29 0h3m38 0h3m12 0h3m82 0h3m47 0h3m24 0h3m-270 1h3m85 0h3m19 0h3m25 0h3m60 0h3m4 0h3m58 0h3m-271 1h3m16 0h3m0 0h3m50 0h3m12 0h3m12 0h3m33 0h3m23 0h3m0 0h3m2 0h3m53 0h3m8 0h3m3 0h3m23 0h3m31 0h3m17 0h3m-318 1h3m23 0h3m24 0h3m2 0h3m77 0h3m20 0h3m24 0h3m5 0h3m51 0h3m35 0h3m13 0h3m-331 1h3m-1 0h3m11 0h3m6 0h3m37 0h3m87 0h3m5 0h3m42 0h3m14 0h3m23 0h3m30 0h3m4 0h3m47 0h3m-345 1h3m48 0h3m13 0h3m116 0h3m41 0h3m4 0h3m-236 1h3m42 0h3m1 0h3m14 0h3m35 0h3m61 0h3m23 0h3m4 0h3m0 0h3m6 0h3m4 0h3m19 0h3m10 0h3m95 0h3m-358 1h3m18 0h3m51 0h3m2 0h3m17 0h3m67 0h3m141 0h3m-318 1h3m23 0h3m30 0h3m12 0h3m111 0h3m64 0h3m53 0h3m40 0h3m-353 1h3m25 0h3m26 0h3m5 0h3m6 0h3m-2 0h3m97 0h3m6 0h3m96 0h3m7 0h3m10 0h3m-313 1h3m202 0h3m25 0h3m21 0h3m89 0h3m-316 1h3m0 0h3m28 0h3m135 0h3m7 0h3m15 0h3m29 0h3m-1 0h3m-253 1h3m-1 0h3m24 0h3m19 0h3m12 0h3m54 0h3m8 0h3m0 0h3m89 0h3m0 0h3m30 0h3m9 0h3m19 0h3m-279 1h3m12 0h3m12 0h3m14 0h3m42 0h3m-1 0h3m90 0h3m40 0h3m7 0h3m38 0h3m-325 1h3m2 0h3m3 0h3m1 0h3m9 0h3m46 0h3m9 0h3m87 0h3m4 0h3m13 0h3m29 0h3m13 0h3m37 0h3m35 0h3m-327 1h3m5 0h3m8 0h3m24 0h3m28 0h3m18 0h3m2 0h3m13 0h3m11 0h3m0 0h3m10 0h3m1 0h3m68 0h3m3 0h3m51 0h3m7 0h3m-298 1h3m2 0h3m28 0h3m0 0h3m46 0h3m1 0h3m7 0h3m78 0h3m25 0h3m45 0h3m-266 1h3m-1 0h3m26 0h3m16 0h3m9 0h3m21 0h3m20 0h3m57 0h3m107 0h3m-186 1h3m32 0h3m35 0h3m41 0h3m36 0h3m69 0h3m-263 1h3m-1 0h3m78 0h3m11 0h3m54 0h3m51 0h3m-257 1h3m39 0h3m29 0h3m79 0h3m62 0h3m24 0h3m24 0h3m-284 1h3m4 0h3m28 0h3m35 0h3m57 0h3m55 0h3m38 0h3m3 0h3m13 0h3m-193 1h3m15 0h3m4 0h3m6 0h3m23 0h3m2 0h3m52 0h3m133 0h3m-337 1h3m79 0h3m9 0h3m-1 0h3m2 0h3m5 0h3m54 0h3m41 0h3m26 0h3m75 0h3m-317 1h3m17 0h3m-1 0h3m75 0h3m60 0h3m5 0h3m-2 0h3m10 0h3m5 0h3m14 0h3m20 0h3m-238 1h3m0 0h3m22 0h3m14 0h3m20 0h3m9 0h3m7 0h3m5 0h3m42 0h3m59 0h3m-211 1h3m0 0h3m-2 0h3m20 0h3m6 0h3m16 0h3m7 0h3m11 0h3m12 0h3m4 0h3m18 0h3m10 0h3m72 0h3m1 0h3m4 0h3m4 0h3m39 0h3m22 0h3m-292 1h3m91 0h3m14 0h3m-1 0h3m30 0h3m9 0h3m34 0h3m101 0h3m-303 1h3m73 0h3m0 0h3m28 0h3m63 0h3m71 0h3m-258 1h3m3 0h3m15 0h3m-1 0h3m9 0h3m46 0h3m80 0h3m17 0h3m-191 1h3m-1 0h3m15 0h3m25 0h3m7 0h3m38 0h3m72 0h3m4 0h3m10 0h3m38 0h3m65 0h3m-290 1h3m5 0h3m16 0h3m11 0h3m12 0h3m20 0h3m20 0h3m40 0h3m13 0h3m64 0h3m15 0h3m7 0h3m-277 1h3m36 0h3m60 0h3m11 0h3m106 0h3m47 0h3m-263 1h3m14 0h3m4 0h3m22 0h3m70 0h3m52 0h3m17 0h3m6 0h3m-224 1h3m141 0h3m11 0h3m-124 1h3m22 0h3m21 0h3m1 0h3m9 0h3m66 0h3m8 0h3m79 0h3m-267 1h3m-2 0h3m4 0h3m46 0h3m60 0h3m10 0h3m95 0h3m9 0h3m33 0h3m17 0h3m-302 1h3m1 0h3m47 0h3m14 0h3m16 0h3m12 0h3m-2 0h3m22 0h3m3 0h3m24 0h3m28 0h3m29 0h3m79 0h3m1 0h3m9 0h3m-295 1h3m-35 1h3m-1 0h3m27 0h3m75 0h3m6 0h3m45 0h3m-1 0h3m37 0h3m16 0h3m4 0h3m30 0h3m-271 1h3m24 0h3m4 0h3m4 0h3m13 0h3m4 0h3m9 0h3m10 0h3m6 0h3m0 0h3m-2 0h3m15 0h3m11 0h3m34 0h3m13 0h3m4 0h3m11 0h3m15 0h3m2 0h3m-2 0h3m-2 0h3m0 0h3m8 0h3m1 0h3m0 0h3m8 0h3m6 0h3m2 0h3m1 0h3m82 0h3m-359 1h3m0 0h3m4 0h3m2 0h3m13 0h3m10 0h3m11 0h3m10 0h3m-2 0h3m16 0h3m23 0h3m-1 0h3m18 0h3m12 0h3m8 0h3m2 0h3m3 0h3m2 0h3m2 0h3m14 0h3m-1 0h3m8 0h3m5 0h3m19 0h3m19 0h3m-282 1h3m0 0h3m7 0h3m-1 0h3m1 0h3m3 0h3m5 0h3m-1 0h3m8 0h3m23 0h3m10 0h3m2 0h3m5 0h3m12 0h3m1 0h3m7 0h3m18 0h3m15 0h3m12 0h3m3 0h3m22 0h3m9 0h3m10 0h3m2 0h3m2 0h3m31 0h3m0 0h3m25 0h3m-314 1h3m-1 0h3m5 0h3m5 0h3m-2 0h3m13 0h3m22 0h3m4 0h3m1 0h3m26 0h3m-2 0h3m-1 0h3m0 0h3m-1 0h3m2 0h3m5 0h3m3 0h3m-2 0h3m3 0h3m-2 0h3m0 0h3m10 0h3m0 0h3m32 0h3m10 0h3m0 0h3m22 0h3m2 0h3m-1 0h3m20 0h3m0 0h3m0 0h3m75 0h3m-350 1h3m7 0h3m10 0h3m0 0h3m16 0h3m3 0h3m-2 0h3m2 0h3m5 0h3m2 0h3m1 0h3m0 0h3m16 0h3m2 0h3m4 0h3m4 0h3m-2 0h3m27 0h3m10 0h3m0 0h3m6 0h3m16 0h3m0 0h3m5 0h3m0 0h3m1 0h3m6 0h3m21 0h3m4 0h3m31 0h3m12 0h3m11 0h3m-315 1h3m0 0h3m1 0h3m2 0h3m-2 0h3m1 0h3m4 0h3m16 0h3m-1 0h3m7 0h3m11 0h3m6 0h3m3 0h3m-2 0h3m-2 0h3m1 0h3m10 0h3m7 0h3m6 0h3m3 0h3m6 0h3m2 0h3m14 0h3m0 0h3m8 0h3m13 0h3m17 0h3m16 0h3m17 0h3m2 0h3m17 0h3m3 0h3m-281 1h3m-1 0h3m-1 0h3m19 0h3m15 0h3m10 0h3m-1 0h3m-1 0h3m3 0h3m5 0h3m6 0h3m2 0h3m15 0h3m2 0h3m0 0h3m12 0h3m13 0h3m2 0h3m28 0h3m7 0h3m8 0h3m14 0h3m4 0h3m-2 0h3m1 0h3m19 0h3m19 0h3m21 0h3m-2 0h3m56 0h3m-363 1h3m2 0h3m18 0h3m6 0h3m4 0h3m10 0h3m12 0h3m-1 0h3m-2 0h3m54 0h3m1 0h3m2 0h3m27 0h3m13 0h3m13 0h3m-1 0h3m4 0h3m26 0h3m-2 0h3m3 0h3m12 0h3m17 0h3m1 0h3m26 0h3" stroke="#000" stroke-width="3" fill="none"/>
<path d="M760 71.5h3m87 4h3m158 5h3m-263 1h3m229 3h3m-126 14h3m-68 1h3m-37 1h3m18 3h3m228 0h3m-243 1h3m217 4h3m-123 4h3m-53 3h3m-110 4h3m70 0h3m5 2h3m1 1h3m-13 2h3m25 2h3m-57 1h3m54 0h3m56 1h3m-147 1h3m54 0h3m79 0h3m-96 1h3m7 0h3m44 0h3m-115 1h3m81 0h3m0 0h3m-136 1h3m322 0h3m-237 1h3m11 0h3m27 0h3m-85 1h3m2 0h3m11 0h3m32 0h3m20 0h3m2 1h3m11 0h3m81 0h3m-118 1h3m11 0h3m-98 1h3m31 0h3m36 0h3m-60 1h3m33 0h3m25 0h3m50 0h3m-193 1h3m65 0h3m49 0h3m9 0h3m-96 1h3m0 0h3m80 0h3m26 0h3m43 0h3m7 0h3m-187 1h3m61 0h3m109 0h3m-26 1h3m-121 1h3m19 0h3m2 0h3m20 0h3m-26 1h3m151 0h3m-175 1h3m40 0h3m13 0h3m2 0h3m-37 1h3m38 0h3m199 0h3m-318 1h3m81 0h3m13 0h3m58 0h3m59 0h3m-169 1h3m29 0h3m4 0h3m20 0h3m-2 0h3m24 0h3m10 0h3m-210 1h3m79 0h3m24 0h3m21 0h3m36 0h3m-65 1h3m6 0h3m35 0h3m25 0h3m-84 1h3m64 0h3m20 0h3m21 0h3m-2 0h3m-97 1h3m7 0h3m15 0h3m3 0h3m3 0h3m-2 0h3m11 0h3m46 0h3m-151 1h3m28 0h3m-1 0h3m25 0h3m6 0h3m46 0h3m159 0h3m-252 1h3m6 0h3m15 0h3m9 0h3m17 0h3m24 0h3m27 0h3m-238 1h3m63 0h3m4 0h3m2 0h3m9 0h3m37 0h3m-1 0h3m3 0h3m26 0h3m0 0h3m19 0h3m-112 1h3m21 0h3m21 0h3m14 0h3m22 0h3m27 0h3m19 0h3m-146 1h3m8 0h3m0 0h3m7 0h3m63 0h3m47 0h3m142 0h3m-295 1h3m47 0h3m30 0h3m11 0h3m4 0h3m66 0h3m-284 1h3m113 0h3m27 0h3m66 0h3m-1 0h3m25 0h3m-152 1h3m36 0h3m4 0h3m13 0h3m61 0h3m2 0h3m69 0h3m-219 1h3m3 0h3m49 0h3m10 0h3m-1 0h3m-1 0h3m11 0h3m-2 0h3m4 0h3m32 0h3m-1 0h3m5 0h3m33 0h3m30 0h3m-244 1h3m33 0h3m71 0h3m3 0h3m7 0h3m-1 0h3m16 0h3m2 0h3m31 0h3m9 0h3m24 0h3m-197 1h3m16 0h3m15 0h3m10 0h3m28 0h3m18 0h3m16 0h3m5 0h3m19 0h3m12 0h3m23 0h3m2 0h3m-181 1h3m3 0h3m2 0h3m12 0h3m12 0h3m17 0h3m2 0h3m1 0h3m7 0h3m21 0h3m6 0h3m-1 0h3m57 0h3m-221 1h3m22 0h3m35 0h3m5 0h3m39 0h3m2 0h3m-1 0h3m44 0h3m75 0h3m-210 1h3m14 0h3m0 0h3m1 0h3m-1 0h3m0 0h3m1 0h3m40 0h3m10 0h3m10 0h3m0 0h3m6 0h3m0 0h3m4 0h3m-128 1h3m36 0h3m-2 0h3m12 0h3m3 0h3m22 0h3m12 0h3m29 0h3m23 0h3m28 0h3m-252 1h3m38 0h3m4 0h3m16 0h3m14 0h3m10 0h3m2 0h3m9 0h3m11 0h3m2 0h3m-1 0h3m20 0h3m26 0h3m14 0h3m12 0h3m8 0h3m-177 1h3m-2 0h3m32 0h3m10 0h3m0 0h3m3 0h3m7 0h3m-2 0h3m2 0h3m18 0h3m0 0h3m2 0h3m14 0h3m6 0h3m4 0h3m4 0h3m45 0h3m-1 0h3m-194 1h3m1 0h3m2 0h3m1 0h3m1 0h3m-1 0h3m7 0h3m35 0h3m3 0h3m11 0h3m15 0h3m25 0h3m57 0h3m84 0h3m21 0h3m-385 1h3m75 0h3m-1 0h3m11 0h3m-2 0h3m-1 0h3m1 0h3m-1 0h3m4 0h3m0 0h3m4 0h3m29 0h3m15 0h3m16 0h3m-1 0h3m12 0h3m0 0h3m8 0h3m3 0h3m-218 1h3m3 0h3m20 0h3m51 0h3m11 0h3m15 0h3m-1 0h3m4 0h3m21 0h3m56 0h3m-1 0h3m13 0h3m7 0h3m-214 1h3m24 0h3m5 0h3m2 0h3m12 0h3m-1 0h3m25 0h3m5 0h3m9 0h3m11 0h3m8 0h3m10 0h3m-1 0h3m14 0h3m150 0h3m-304 1h3m-1 0h3m7 0h3m29 0h3m10 0h3m32 0h3m38 0h3m3 0h3m-1 0h3m11 0h3m32 0h3m13 0h3m7 0h3m14 0h3m-245 1h3m5 0h3m-2 0h3m1 0h3m14 0h3m2 0h3m6 0h3m2 0h3m34 0h3m9 0h3m-2 0h3m10 0h3m-1 0h3m19 0h3m35 0h3m30 0h3m5 0h3m16 0h3m-291 1h3m47 0h3m5 0h3m12 0h3m17 0h3m17 0h3m8 0h3m3 0h3m-1 0h3m13 0h3m-1 0h3m9 0h3m0 0h3m3 0h3m25 0h3m11 0h3m39 0h3m-186 1h3m6 0h3m21 0h3m4 0h3m1 0h3m16 0h3m0 0h3m1 0h3m3 0h3m-2 0h3m5 0h3m14 0h3m-2 0h3m0 0h3m8 0h3m0 0h3m9 0h3m5 0h3m9 0h3m-2 0h3m54 0h3m-211 1h3m10 0h3m4 0h3m0 0h3m9 0h3m3 0h3m10 0h3m24 0h3m16 0h3m13 0h3m5 0h3m4 0h3m22 0h3m13 0h3m-208 1h3m21 0h3m20 0h3m3 0h3m11 0h3m-2 0h3m9 0h3m-1 0h3m2 0h3m7 0h3m5 0h3m4 0h3m13 0h3m14 0h3m4 0h3m16 0h3m-2 0h3m17 0h3m9 0h3m69 0h3m-265 1h3m8 0h3m18 0h3m16 0h3m-1 0h3m4 0h3m9 0h3m6 0h3m-1 0h3m1 0h3m10 0h3m1 0h3m3 0h3m4 0h3m-2 0h3m3 0h3m-1 0h3m6 0h3m5 0h3m12 0h3m-1 0h3m27 0h3m7 0h3m15 0h3m19 0h3m-238 1h3m21 0h3m-2 0h3m-2 0h3m1 0h3m1 0h3m6 0h3m4 0h3m8 0h3m3 0h3m4 0h3m0 0h3m1 0h3m-1 0h3m3 0h3m8 0h3m1 0h3m1 0h3m4 0h3m-2 0h3m12 0h3m11 0h3m-1 0h3m34 0h3m17 0h3m-229 1h3m9 0h3m5 0h3m34 0h3m0 0h3m0 0h3m24 0h3m11 0h3m21 0h3m10 0h3m0 0h3m6 0h3m5 0h3m4 0h3m50 0h3m6 0h3m-248 1h3m22 0h3m26 0h3m3 0h3m3 0h3m4 0h3m7 0h3m3 0h3m5 0h3m-2 0h3m1 0h3m3 0h3m8 0h3m2 0h3m-1 0h3m0 0h3m1 0h3m7 0h3m5 0h3m-1 0h3m10 0h3m14 0h3m2 0h3m-1 0h3m-2 0h3m0 0h3m13 0h3m13 0h3m25 0h3m18 0h3m96 0h3m-343 1h3m7 0h3m-1 0h3m4 0h3m6 0h3m9 0h3m-2 0h3m0 0h3m3 0h3m2 0h3m4 0h3m5 0h3m2 0h3m12 0h3m-2 0h3m5 0h3m5 0h3m4 0h3m35 0h3m2 0h3m4 0h3m29 0h3m-217 1h3m10 0h3m24 0h3m3 0h3m11 0h3m0 0h3m9 0h3m-2 0h3m-1 0h3m9 0h3m4 0h3m3 0h3m5 0h3m0 0h3m-1 0h3m1 0h3m-2 0h3m1 0h3m4 0h3m43 0h3m3 0h3m-2 0h3m-1 0h3m5 0h3m24 0h3m3 0h3m13 0h3m5 0h3m19 0h3m4 0h3m22 0h3m-280 1h3m18 0h3m-2 0h3m22 0h3m8 0h3m0 0h3m7 0h3m0 0h3m-2 0h3m4 0h3m3 0h3m11 0h3m3 0h3m-2 0h3m20 0h3m15 0h3m20 0h3m5 0h3m17 0h3m-285 1h3m60 0h3m5 0h3m32 0h3m6 0h3m1 0h3m-2 0h3m7 0h3m0 0h3m3 0h3m3 0h3m3 0h3m0 0h3m2 0h3m2 0h3m3 0h3m-1 0h3m10 0h3m16 0h3m25 0h3m82 0h3m67 0h3m-322 1h3m4 0h3m-1 0h3m0 0h3m7 0h3m7 0h3m9 0h3m2 0h3m0 0h3m5 0h3m-2 0h3m3 0h3m0 0h3m-2 0h3m-1 0h3m1 0h3m-2 0h3m-2 0h3m0 0h3m37 0h3m-2 0h3m4 0h3m-2 0h3m40 0h3m6 0h3m6 0h3m17 0h3m127 0h3m-360 1h3m8 0h3m36 0h3m1 0h3m15 0h3m1 0h3m15 0h3m3 0h3m0 0h3m8 0h3m2 0h3m-2 0h3m-2 0h3m5 0h3m3 0h3m-1 0h3m-2 0h3m5 0h3m28 0h3m8 0h3m1 0h3m5 0h3m1 0h3m23 0h3m5 0h3m6 0h3m106 0h3m-347 1h3m8 0h3m1 0h3m2 0h3m-2 0h3m25 0h3m3 0h3m4 0h3m0 0h3m6 0h3m0 0h3m-2 0h3m-2 0h3m5 0h3m2 0h3m-1 0h3m-2 0h3m7 0h3m3 0h3m20 0h3m15 0h3m29 0h3m-1 0h3m16 0h3m8 0h3m45 0h3m-278 1h3m10 0h3m10 0h3m3 0h3m2 0h3m27 0h3m3 0h3m12 0h3m0 0h3m-1 0h3m-1 0h3m-2 0h3m9 0h3m3 0h3m1 0h3m-1 0h3m3 0h3m7 0h3m5 0h3m9 0h3m9 0h3m0 0h3m-1 0h3m43 0h3m29 0h3m29 0h3m-310 1h3m12 0h3m5 0h3m23 0h3m4 0h3m-1 0h3m-2 0h3m1 0h3m2 0h3m1 0h3m5 0h3m3 0h3m0 0h3m0 0h3m-1 0h3m-1 0h3m4 0h3m0 0h3m1 0h3m5 0h3m3 0h3m8 0h3m-2 0h3m3 0h3m0 0h3m4 0h3m0 0h3m2 0h3m4 0h3m32 0h3m43 0h3m130 0h3m-358 1h3m35 0h3m9 0h3m7 0h3m-2 0h3m3 0h3m2 0h3m-1 0h3m0 0h3m-2 0h3m3 0h3m-1 0h3m1 0h3m1 0h3m5 0h3m1 0h3m-1 0h3m2 0h3m-2 0h3m1 0h3m7 0h3m-2 0h3m11 0h3m9 0h3m51 0h3m14 0h3m2 0h3m-230 1h3m-2 0h3m33 0h3m-2 0h3m1 0h3m1 0h3m6 0h3m2 0h3m0 0h3m-2 0h3m3 0h3m0 0h3m0 0h3m-1 0h3m-2 0h3m-1 0h3m1 0h3m0 0h3m-2 0h3m3 0h3m4 0h3m-2 0h3m2 0h3m27 0h3m1 0h3m2 0h3m11 0h3m-2 0h3m2 0h3m9 0h3m6 0h3m4 0h3m11 0h3m-2 0h3m8 0h3m3 0h3m-224 1h3m24 0h3m-2 0h3m2 0h3m10 0h3m-1 0h3m-1 0h3m7 0h3m-2 0h3m5 0h3m-1 0h3m-1 0h3m-2 0h3m4 0h3m2 0h3m3 0h3m-1 0h3m-2 0h3m-1 0h3m7 0h3m-2 0h3m-2 0h3m-1 0h3m-2 0h3m0 0h3m1 0h3m7 0h3m8 0h3m28 0h3m52 0h3m8 0h3m26 0h3m76 0h3m-347 1h3m2 0h3m0 0h3m14 0h3m10 0h3m-2 0h3m6 0h3m-1 0h3m0 0h3m12 0h3m-1 0h3m1 0h3m0 0h3m19 0h3m2 0h3m8 0h3m0 0h3m0 0h3m18 0h3m24 0h3m-1 0h3m13 0h3m23 0h3m-280 1h3m69 0h3m0 0h3m1 0h3m7 0h3m-1 0h3m3 0h3m0 0h3m-2 0h3m4 0h3m2 0h3m-2 0h3m0 0h3m-2 0h3m0 0h3m-1 0h3m-2 0h3m17 0h3m16 0h3m8 0h3m6 0h3m2 0h3m0 0h3m0 0h3m18 0h3m22 0h3m2 0h3m34 0h3m-214 1h3m0 0h3m-1 0h3m15 0h3m5 0h3m-2 0h3m0 0h3m6 0h3m-2 0h3m-2 0h3m6 0h3m15 0h3m-2 0h3m0 0h3m3 0h3m-1 0h3m0 0h3m3 0h3m-1 0h3m4 0h3m-2 0h3m-2 0h3m-2 0h3m2 0h3m8 0h3m6 0h3m4 0h3m41 0h3m42 0h3m0 0h3m21 0h3m-240 1h3m8 0h3m9 0h3m2 0h3m8 0h3m-2 0h3m-2 0h3m-1 0h3m-2 0h3m-1 0h3m-1 0h3m0 0h3m1 0h3m0 0h3m0 0h3m3 0h3m3 0h3m-2 0h3m6 0h3m-2 0h3m-1 0h3m5 0h3m3 0h3m37 0h3m1 0h3m9 0h3m3 0h3m19 0h3m49 0h3m79 0h3m-345 1h3m10 0h3m0 0h3m0 0h3m-2 0h3m9 0h3m9 0h3m-2 0h3m-1 0h3m0 0h3m2 0h3m1 0h3m0 0h3m-2 0h3m3 0h3m-2 0h3m0 0h3m-1 0h3m-2 0h3m-2 0h3m1 0h3m-2 0h3m-2 0h3m-2 0h3m2 0h3m-2 0h3m0 0h3m-1 0h3m22 0h3m-1 0h3m12 0h3m9 0h3m37 0h3m10 0h3m3 0h3m11 0h3m63 0h3m4 0h3m-320 1h3m13 0h3m7 0h3m4 0h3m2 0h3m7 0h3m-2 0h3m-2 0h3m-2 0h3m-1 0h3m0 0h3m-2 0h3m5 0h3m-2 0h3m2 0h3m-1 0h3m-2 0h3m2 0h3m-2 0h3m-2 0h3m0 0h3m-1 0h3m-1 0h3m3 0h3m2 0h3m-1 0h3m-2 0h3m-1 0h3m6 0h3m1 0h3m0 0h3m-2 0h3m0 0h3m24 0h3m2 0h3m0 0h3m3 0h3m17 0h3m3 0h3m51 0h3m-269 1h3m9 0h3m11 0h3m7 0h3m26 0h3m0 0h3m0 0h3m-1 0h3m3 0h3m-1 0h3m1 0h3m2 0h3m-1 0h3m14 0h3m-1 0h3m0 0h3m-2 0h3m0 0h3m2 0h3m-1 0h3m6 0h3m-1 0h3m2 0h3m-1 0h3m1 0h3m-2 0h3m0 0h3m2 0h3m-1 0h3m3 0h3m6 0h3m5 0h3m2 0h3m28 0h3m3 0h3m26 0h3m41 0h3m-295 1h3m37 0h3m4 0h3m7 0h3m0 0h3m-2 0h3m1 0h3m3 0h3m4 0h3m-2 0h3m-2 0h3m-2 0h3m-2 0h3m-1 0h3m0 0h3m2 0h3m-1 0h3m-2 0h3m2 0h3m-1 0h3m0 0h3m2 0h3m-2 0h3m-1 0h3m-2 0h3m1 0h3m1 0h3m-2 0h3m3 0h3m0 0h3m-2 0h3m10 0h3m8 0h3m2 0h3m-2 0h3m6 0h3m6 0h3m4 0h3m30 0h3m23 0h3m40 0h3m-271 1h3m3 0h3m29 0h3m0 0h3m0 0h3m-2 0h3m8 0h3m-2 0h3m-2 0h3m4 0h3m-1 0h3m-2 0h3m6 0h3m-2 0h3m-1 0h3m-1 0h3m0 0h3m-2 0h3m0 0h3m-2 0h3m-1 0h3m-2 0h3m-2 0h3m1 0h3m-1 0h3m-2 0h3m-2 0h3m8 0h3m4 0h3m6 0h3m4 0h3m3 0h3m10 0h3m12 0h3m-1 0h3m73 0h3m21 0h3m30 0h3m-328 1h3m-1 0h3m32 0h3m4 0h3m11 0h3m-2 0h3m1 0h3m-1 0h3m5 0h3m-2 0h3m3 0h3m1 0h3m-2 0h3m0 0h3m0 0h3m-2 0h3m0 0h3m-2 0h3m-2 0h3m-2 0h3m-2 0h3m-1 0h3m-2 0h3m1 0h3m-2 0h3m-2 0h3m4 0h3m-1 0h3m-1 0h3m-2 0h3m-1 0h3m0 0h3m0 0h3m-2 0h3m2 0h3m-2 0h3m-2 0h3m-2 0h3m0 0h3m1 0h3m5 0h3m-2 0h3m-2 0h3m14 0h3m-1 0h3m13 0h3m-2 0h3m15 0h3m4 0h3m-2 0h3m10 0h3m27 0h3m2 0h3m-253 1h3m38 0h3m2 0h3m-1 0h3m1 0h3m1 0h3m-2 0h3m3 0h3m1 0h3m-2 0h3m-1 0h3m2 0h3m0 0h3m-2 0h3m2 0h3m-2 0h3m-2 0h3m-2 0h3m2 0h3m-1 0h3m-1 0h3m0 0h3m-2 0h3m-2 0h3m-2 0h3m-2 0h3m1 0h3m-2 0h3m0 0h3m-2 0h3m-2 0h3m-1 0h3m2 0h3m-1 0h3m-1 0h3m-2 0h3m-2 0h3m0 0h3m4 0h3m12 0h3m12 0h3m36 0h3m12 0h3m25 0h3m-272 1h3m1 0h3m55 0h3m-2 0h3m5 0h3m4 0h3m0 0h3m-2 0h3m-2 0h3m0 0h3m-1 0h3m4 0h3m0 0h3m2 0h3m0 0h3m3 0h3m-2 0h3m0 0h3m-2 0h3m-2 0h3m-2 0h3m-2 0h3m-1 0h3m2 0h3m2 0h3m0 0h3m-2 0h3m-2 0h3m-1 0h3m0 0h3m-2 0h3m-1 0h3m1 0h3m0 0h3m12 0h3m2 0h3m8 0h3m9 0h3m-1 0h3m2 0h3m45 0h3m-2 0h3m47 0h3m-318 1h3m23 0h3m24 0h3m0 0h3m-1 0h3m6 0h3m3 0h3m-2 0h3m7 0h3m3 0h3m-2 0h3m2 0h3m-1 0h3m1 0h3m1 0h3m-2 0h3m0 0h3m-2 0h3m-2 0h3m-1 0h3m-2 0h3m-1 0h3m-1 0h3m3 0h3m-1 0h3m-2 0h3m-1 0h3m-2 0h3m10 0h3m0 0h3m-1 0h3m4 0h3m-2 0h3m2 0h3m-2 0h3m2 0h3m-2 0h3m-2 0h3m1 0h3m5 0h3m-1 0h3m4 0h3m14 0h3m22 0h3m0 0h3m-2 0h3m3 0h3m16 0h3m7 0h3m-248 1h3m27 0h3m11 0h3m18 0h3m-1 0h3m0 0h3m-2 0h3m1 0h3m5 0h3m2 0h3m-2 0h3m3 0h3m-1 0h3m-2 0h3m-1 0h3m0 0h3m4 0h3m1 0h3m-1 0h3m1 0h3m-1 0h3m0 0h3m-1 0h3m0 0h3m-1 0h3m-2 0h3m12 0h3m53 0h3m14 0h3m0 0h3m16 0h3m46 0h3m-253 1h3m-2 0h3m0 0h3m-2 0h3m8 0h3m-1 0h3m-1 0h3m-1 0h3m-1 0h3m-2 0h3m2 0h3m-1 0h3m-2 0h3m1 0h3m-1 0h3m-1 0h3m0 0h3m6 0h3m-2 0h3m0 0h3m3 0h3m-1 0h3m-2 0h3m0 0h3m1 0h3m-2 0h3m-2 0h3m-2 0h3m-1 0h3m-2 0h3m-1 0h3m1 0h3m0 0h3m5 0h3m-1 0h3m1 0h3m4 0h3m11 0h3m1 0h3m11 0h3m-2 0h3m10 0h3m6 0h3m-2 0h3m9 0h3m-2 0h3m0 0h3m17 0h3m18 0h3m5 0h3m65 0h3m-328 1h3m16 0h3m2 0h3m-1 0h3m5 0h3m3 0h3m1 0h3m-2 0h3m1 0h3m-2 0h3m-2 0h3m0 0h3m1 0h3m-2 0h3m-2 0h3m-1 0h3m0 0h3m-2 0h3m-2 0h3m-2 0h3m-1 0h3m0 0h3m0 0h3m1 0h3m-2 0h3m-1 0h3m-1 0h3m-2 0h3m1 0h3m3 0h3m0 0h3m-2 0h3m-2 0h3m-1 0h3m-2 0h3m1 0h3m-1 0h3m-2 0h3m1 0h3m-2 0h3m7 0h3m-2 0h3m-1 0h3m2 0h3m-1 0h3m21 0h3m8 0h3m0 0h3m17 0h3m6 0h3m6 0h3m2 0h3m7 0h3m-190 1h3m1 0h3m-2 0h3m-2 0h3m-2 0h3m1 0h3m0 0h3m-2 0h3m-2 0h3m1 0h3m4 0h3m-2 0h3m-2 0h3m0 0h3m2 0h3m0 0h3m6 0h3m1 0h3m-1 0h3m1 0h3m-1 0h3m-2 0h3m-2 0h3m0 0h3m2 0h3m3 0h3m3 0h3m-2 0h3m-2 0h3m2 0h3m-2 0h3m-2 0h3m0 0h3m7 0h3m1 0h3m6 0h3m3 0h3m1 0h3m1 0h3m1 0h3m-1 0h3m3 0h3m12 0h3m4 0h3m3 0h3m62 0h3m-311 1h3m32 0h3m1 0h3m-1 0h3m9 0h3m0 0h3m5 0h3m3 0h3m-1 0h3m0 0h3m0 0h3m4 0h3m0 0h3m6 0h3m-2 0h3m5 0h3m3 0h3m0 0h3m1 0h3m-2 0h3m-2 0h3m0 0h3m0 0h3m-2 0h3m-1 0h3m0 0h3m-1 0h3m1 0h3m-2 0h3m-2 0h3m2 0h3m-2 0h3m-1 0h3m-1 0h3m-2 0h3m1 0h3m2 0h3m2 0h3m-2 0h3m18 0h3m32 0h3m2 0h3m1 0h3m2 0h3m-2 0h3m5 0h3m1 0h3m-239 1h3m17 0h3m-1 0h3m-1 0h3m10 0h3m0 0h3m0 0h3m-1 0h3m-1 0h3m1 0h3m1 0h3m7 0h3m-2 0h3m0 0h3m-1 0h3m-2 0h3m4 0h3m-1 0h3m-2 0h3m0 0h3m-1 0h3m-2 0h3m-2 0h3m-2 0h3m-1 0h3m-1 0h3m-1 0h3m1 0h3m1 0h3m-1 0h3m-2 0h3m-2 0h3m-2 0h3m-1 0h3m1 0h3m-1 0h3m-2 0h3m-2 0h3m0 0h3m0 0h3m-1 0h3m-1 0h3m-1 0h3m1 0h3m-2 0h3m1 0h3m-2 0h3m0 0h3m1 0h3m40 0h3m0 0h3m13 0h3m7 0h3m-1 0h3m12 0h3m23 0h3m53 0h3m-314 1h3m0 0h3m-1 0h3m20 0h3m7 0h3m-1 0h3m0 0h3m-2 0h3m2 0h3m-1 0h3m7 0h3m-2 0h3m-2 0h3m-1 0h3m-1 0h3m-1 0h3m-2 0h3m4 0h3m-2 0h3m2 0h3m-1 0h3m-1 0h3m-1 0h3m-2 0h3m-2 0h3m-1 0h3m0 0h3m-2 0h3m0 0h3m-1 0h3m5 0h3m7 0h3m-2 0h3m0 0h3m-2 0h3m1 0h3m4 0h3m0 0h3m-1 0h3m-1 0h3m4 0h3m7 0h3m10 0h3m17 0h3m33 0h3m0 0h3m40 0h3m22 0h3m-348 1h3m48 0h3m3 0h3m-2 0h3m4 0h3m6 0h3m4 0h3m-1 0h3m6 0h3m-1 0h3m-2 0h3m-1 0h3m4 0h3m1 0h3m-2 0h3m0 0h3m2 0h3m0 0h3m-1 0h3m0 0h3m1 0h3m-2 0h3m2 0h3m0 0h3m-2 0h3m-2 0h3m2 0h3m-2 0h3m3 0h3m-2 0h3m-1 0h3m-2 0h3m0 0h3m-1 0h3m5 0h3m0 0h3m20 0h3m8 0h3m4 0h3m10 0h3m24 0h3m15 0h3m12 0h3m3 0h3m5 0h3m85 0h3m-353 1h3m18 0h3m8 0h3m3 0h3m0 0h3m4 0h3m0 0h3m0 0h3m0 0h3m0 0h3m3 0h3m1 0h3m-2 0h3m2 0h3m6 0h3m1 0h3m0 0h3m-1 0h3m-1 0h3m0 0h3m0 0h3m-1 0h3m0 0h3m3 0h3m2 0h3m-1 0h3m2 0h3m1 0h3m1 0h3m-1 0h3m-2 0h3m-2 0h3m10 0h3m-2 0h3m3 0h3m-2 0h3m6 0h3m21 0h3m0 0h3m-1 0h3m8 0h3m-2 0h3m2 0h3m23 0h3m16 0h3m23 0h3m1 0h3m-339 1h3m27 0h3m22 0h3m6 0h3m7 0h3m13 0h3m1 0h3m0 0h3m1 0h3m-1 0h3m2 0h3m-2 0h3m-2 0h3m1 0h3m-2 0h3m3 0h3m-1 0h3m-2 0h3m-2 0h3m-2 0h3m-1 0h3m-1 0h3m-2 0h3m-2 0h3m0 0h3m0 0h3m-2 0h3m-1 0h3m-2 0h3m3 0h3m-2 0h3m3 0h3m-2 0h3m1 0h3m2 0h3m-1 0h3m-2 0h3m1 0h3m-2 0h3m-2 0h3m-1 0h3m-2 0h3m0 0h3m-2 0h3m-2 0h3m1 0h3m27 0h3m13 0h3m4 0h3m12 0h3m43 0h3m-244 1h3m12 0h3m6 0h3m12 0h3m-1 0h3m4 0h3m3 0h3m1 0h3m3 0h3m0 0h3m-2 0h3m-1 0h3m-2 0h3m-2 0h3m-2 0h3m0 0h3m-2 0h3m-1 0h3m-2 0h3m-1 0h3m0 0h3m-2 0h3m-1 0h3m-2 0h3m-2 0h3m-1 0h3m-1 0h3m-2 0h3m-2 0h3m-2 0h3m0 0h3m-2 0h3m6 0h3m1 0h3m-2 0h3m-2 0h3m-2 0h3m-2 0h3m-2 0h3m-1 0h3m1 0h3m1 0h3m-1 0h3m-2 0h3m-1 0h3m-1 0h3m-2 0h3m-2 0h3m8 0h3m-1 0h3m5 0h3m11 0h3m4 0h3m2 0h3m14 0h3m-1 0h3m12 0h3m6 0h3m43 0h3m-1 0h3m85 0h3m-398 1h3m22 0h3m16 0h3m7 0h3m-2 0h3m11 0h3m1 0h3m1 0h3m-2 0h3m-1 0h3m-2 0h3m-2 0h3m-2 0h3m-1 0h3m-1 0h3m0 0h3m-2 0h3m-1 0h3m-1 0h3m4 0h3m2 0h3m5 0h3m-2 0h3m2 0h3m-1 0h3m-2 0h3m-1 0h3m4 0h3m4 0h3m6 0h3m-2 0h3m2 0h3m1 0h3m1 0h3m-2 0h3m2 0h3m2 0h3m-2 0h3m1 0h3m3 0h3m3 0h3m-2 0h3m3 0h3m9 0h3m0 0h3m17 0h3m41 0h3m9 0h3m-1 0h3m-260 1h3m7 0h3m-2 0h3m0 0h3m0 0h3m2 0h3m1 0h3m3 0h3m0 0h3m-2 0h3m-1 0h3m-1 0h3m0 0h3m-2 0h3m2 0h3m-2 0h3m1 0h3m-2 0h3m-1 0h3m-2 0h3m0 0h3m-2 0h3m0 0h3m-1 0h3m0 0h3m2 0h3m-2 0h3m10 0h3m-1 0h3m3 0h3m3 0h3m-1 0h3m-1 0h3m-2 0h3m1 0h3m-2 0h3m-2 0h3m0 0h3m11 0h3m4 0h3m0 0h3m9 0h3m1 0h3m-1 0h3m0 0h3m-2 0h3m-2 0h3m0 0h3m-2 0h3m0 0h3m26 0h3m2 0h3m-2 0h3m10 0h3m27 0h3m-257 1h3m15 0h3m10 0h3m2 0h3m-1 0h3m2 0h3m-2 0h3m2 0h3m0 0h3m-1 0h3m0 0h3m-1 0h3m-2 0h3m0 0h3m-1 0h3m-2 0h3m2 0h3m-1 0h3m0 0h3m-2 0h3m1 0h3m-1 0h3m-1 0h3m-1 0h3m-1 0h3m-1 0h3m-2 0h3m1 0h3m-2 0h3m-2 0h3m1 0h3m-1 0h3m0 0h3m-1 0h3m0 0h3m-2 0h3m-1 0h3m-1 0h3m-1 0h3m-2 0h3m-2 0h3m6 0h3m2 0h3m0 0h3m-2 0h3m1 0h3m6 0h3m-1 0h3m7 0h3m1 0h3m15 0h3m10 0h3m21 0h3m16 0h3m-286 1h3m46 0h3m-1 0h3m12 0h3m-1 0h3m3 0h3m1 0h3m-2 0h3m7 0h3m-2 0h3m-1 0h3m-1 0h3m-1 0h3m0 0h3m-1 0h3m-2 0h3m-1 0h3m-2 0h3m-2 0h3m-2 0h3m-2 0h3m-1 0h3m4 0h3m-2 0h3m-1 0h3m0 0h3m0 0h3m-2 0h3m-2 0h3m-2 0h3m4 0h3m-1 0h3m2 0h3m1 0h3m-2 0h3m-2 0h3m2 0h3m1 0h3m1 0h3m-2 0h3m-2 0h3m1 0h3m1 0h3m0 0h3m-2 0h3m-2 0h3m-2 0h3m0 0h3m1 0h3m3 0h3m-1 0h3m1 0h3m0 0h3m3 0h3m9 0h3m2 0h3m5 0h3m-2 0h3m0 0h3m39 0h3m2 0h3m-261 1h3m-1 0h3m9 0h3m8 0h3m-2 0h3m4 0h3m-2 0h3m16 0h3m1 0h3m1 0h3m-2 0h3m1 0h3m-2 0h3m5 0h3m-2 0h3m-2 0h3m-1 0h3m7 0h3m0 0h3m-1 0h3m0 0h3m-2 0h3m7 0h3m-2 0h3m-2 0h3m3 0h3m-2 0h3m4 0h3m-2 0h3m-2 0h3m-2 0h3m-1 0h3m-2 0h3m4 0h3m-2 0h3m2 0h3m-1 0h3m-2 0h3m-1 0h3m1 0h3m-1 0h3m0 0h3m-2 0h3m0 0h3m10 0h3m8 0h3m20 0h3m-2 0h3m-1 0h3m8 0h3m21 0h3m-2 0h3m33 0h3m6 0h3m6 0h3m-321 1h3m22 0h3m8 0h3m3 0h3m4 0h3m3 0h3m6 0h3m2 0h3m-1 0h3m0 0h3m0 0h3m-1 0h3m-2 0h3m2 0h3m-2 0h3m-2 0h3m1 0h3m1 0h3m-1 0h3m2 0h3m-1 0h3m6 0h3m-2 0h3m4 0h3m-2 0h3m0 0h3m-1 0h3m-2 0h3m0 0h3m1 0h3m2 0h3m-2 0h3m-2 0h3m-2 0h3m1 0h3m3 0h3m0 0h3m-1 0h3m-1 0h3m0 0h3m-1 0h3m-1 0h3m8 0h3m-1 0h3m5 0h3m3 0h3m27 0h3m11 0h3m2 0h3m9 0h3m13 0h3m30 0h3m78 0h3m-388 1h3m35 0h3m15 0h3m9 0h3m-2 0h3m1 0h3m4 0h3m1 0h3m0 0h3m1 0h3m3 0h3m0 0h3m-1 0h3m4 0h3m0 0h3m3 0h3m0 0h3m-2 0h3m0 0h3m3 0h3m-2 0h3m-2 0h3m0 0h3m-2 0h3m-2 0h3m-1 0h3m-2 0h3m1 0h3m-1 0h3m-2 0h3m1 0h3m5 0h3m3 0h3m2 0h3m-1 0h3m2 0h3m4 0h3m13 0h3m-1 0h3m9 0h3m-2 0h3m7 0h3m7 0h3m13 0h3m2 0h3m-1 0h3m38 0h3m-277 1h3m1 0h3m2 0h3m5 0h3m5 0h3m2 0h3m1 0h3m2 0h3m2 0h3m-1 0h3m-1 0h3m2 0h3m0 0h3m-2 0h3m-1 0h3m-2 0h3m-2 0h3m1 0h3m-2 0h3m-2 0h3m0 0h3m0 0h3m-2 0h3m-1 0h3m2 0h3m0 0h3m-1 0h3m0 0h3m1 0h3m-2 0h3m-2 0h3m-2 0h3m-1 0h3m1 0h3m-2 0h3m-1 0h3m-2 0h3m-1 0h3m2 0h3m-2 0h3m-2 0h3m2 0h3m0 0h3m-2 0h3m3 0h3m-2 0h3m-1 0h3m-1 0h3m0 0h3m2 0h3m2 0h3m0 0h3m1 0h3m-1 0h3m-2 0h3m-2 0h3m2 0h3m-2 0h3m5 0h3m5 0h3m1 0h3m29 0h3m7 0h3m33 0h3m26 0h3m19 0h3m-291 1h3m-1 0h3m4 0h3m5 0h3m-1 0h3m-1 0h3m-1 0h3m-1 0h3m-2 0h3m-1 0h3m-1 0h3m-2 0h3m1 0h3m-2 0h3m-1 0h3m-2 0h3m-2 0h3m-2 0h3m1 0h3m0 0h3m2 0h3m-1 0h3m-2 0h3m2 0h3m1 0h3m1 0h3m2 0h3m3 0h3m-1 0h3m1 0h3m-2 0h3m-2 0h3m1 0h3m-2 0h3m-1 0h3m6 0h3m-2 0h3m-1 0h3m-2 0h3m-1 0h3m5 0h3m2 0h3m-1 0h3m1 0h3m-1 0h3m3 0h3m10 0h3m-2 0h3m-2 0h3m3 0h3m18 0h3m12 0h3m6 0h3m8 0h3m16 0h3m44 0h3m-314 1h3m33 0h3m0 0h3m0 0h3m11 0h3m-1 0h3m-2 0h3m-2 0h3m1 0h3m0 0h3m-2 0h3m-1 0h3m-2 0h3m-1 0h3m-2 0h3m1 0h3m1 0h3m-1 0h3m-2 0h3m-1 0h3m0 0h3m-2 0h3m3 0h3m-1 0h3m0 0h3m-1 0h3m6 0h3m-2 0h3m-1 0h3m-2 0h3m-1 0h3m-2 0h3m0 0h3m-1 0h3m-1 0h3m-1 0h3m3 0h3m-2 0h3m-2 0h3m7 0h3m-1 0h3m-1 0h3m-1 0h3m2 0h3m10 0h3m-2 0h3m1 0h3m11 0h3m2 0h3m5 0h3m11 0h3m-1 0h3m17 0h3m-1 0h3m80 0h3m-325 1h3m1 0h3m25 0h3m2 0h3m0 0h3m-1 0h3m0 0h3m3 0h3m-2 0h3m-2 0h3m-2 0h3m-1 0h3m-2 0h3m-2 0h3m-2 0h3m-2 0h3m-1 0h3m2 0h3m3 0h3m1 0h3m12 0h3m-2 0h3m-1 0h3m1 0h3m5 0h3m-1 0h3m-1 0h3m5 0h3m-2 0h3m-2 0h3m-2 0h3m0 0h3m-1 0h3m0 0h3m-2 0h3m1 0h3m-2 0h3m1 0h3m-2 0h3m6 0h3m1 0h3m0 0h3m4 0h3m-1 0h3m4 0h3m5 0h3m-1 0h3m2 0h3m-1 0h3m12 0h3m5 0h3m16 0h3m58 0h3m-323 1h3m-2 0h3m32 0h3m10 0h3m3 0h3m6 0h3m8 0h3m0 0h3m-2 0h3m1 0h3m2 0h3m1 0h3m2 0h3m-1 0h3m1 0h3m5 0h3m3 0h3m1 0h3m2 0h3m2 0h3m1 0h3m-2 0h3m-2 0h3m1 0h3m-1 0h3m1 0h3m-1 0h3m-2 0h3m5 0h3m-2 0h3m0 0h3m-2 0h3m6 0h3m-2 0h3m3 0h3m4 0h3m-1 0h3m-1 0h3m-2 0h3m21 0h3m1 0h3m0 0h3m2 0h3m1 0h3m7 0h3m24 0h3m19 0h3m-1 0h3m10 0h3m35 0h3m-315 1h3m15 0h3m8 0h3m-2 0h3m4 0h3m0 0h3m5 0h3m-2 0h3m0 0h3m1 0h3m-2 0h3m-2 0h3m1 0h3m1 0h3m-2 0h3m-2 0h3m0 0h3m-2 0h3m-1 0h3m0 0h3m2 0h3m2 0h3m-2 0h3m-2 0h3m0 0h3m0 0h3m-1 0h3m2 0h3m-2 0h3m-2 0h3m0 0h3m-1 0h3m-2 0h3m2 0h3m-1 0h3m-1 0h3m-2 0h3m-2 0h3m-1 0h3m0 0h3m-1 0h3m1 0h3m-2 0h3m1 0h3m-2 0h3m4 0h3m-1 0h3m-1 0h3m1 0h3m-2 0h3m0 0h3m0 0h3m19 0h3m-2 0h3m28 0h3m6 0h3m1 0h3m20 0h3m63 0h3m-315 1h3m9 0h3m6 0h3m2 0h3m-2 0h3m2 0h3m0 0h3m0 0h3m0 0h3m-2 0h3m2 0h3m0 0h3m-2 0h3m-2 0h3m-2 0h3m-1 0h3m0 0h3m1 0h3m1 0h3m0 0h3m-2 0h3m3 0h3m-1 0h3m11 0h3m-2 0h3m-2 0h3m-2 0h3m-2 0h3m-2 0h3m-2 0h3m1 0h3m-2 0h3m-1 0h3m0 0h3m-2 0h3m2 0h3m0 0h3m-1 0h3m-1 0h3m-2 0h3m0 0h3m1 0h3m0 0h3m5 0h3m1 0h3m0 0h3m4 0h3m-2 0h3m44 0h3m5 0h3m8 0h3m17 0h3m-2 0h3m102 0h3m0 0h3m-341 1h3m6 0h3m-1 0h3m-1 0h3m-2 0h3m5 0h3m-1 0h3m-2 0h3m-2 0h3m7 0h3m-1 0h3m0 0h3m-2 0h3m-2 0h3m-2 0h3m1 0h3m0 0h3m-2 0h3m0 0h3m-1 0h3m-2 0h3m1 0h3m-2 0h3m-2 0h3m0 0h3m-2 0h3m-1 0h3m-2 0h3m-1 0h3m6 0h3m-2 0h3m5 0h3m-1 0h3m1 0h3m-2 0h3m-1 0h3m1 0h3m-2 0h3m-2 0h3m-1 0h3m-2 0h3m-2 0h3m-2 0h3m0 0h3m-2 0h3m-2 0h3m-2 0h3m-1 0h3m-2 0h3m6 0h3m-1 0h3m7 0h3m-2 0h3m9 0h3m11 0h3m6 0h3m22 0h3m56 0h3m75 0h3m6 0h3m-387 1h3m14 0h3m12 0h3m1 0h3m0 0h3m3 0h3m-1 0h3m9 0h3m0 0h3m-2 0h3m4 0h3m0 0h3m1 0h3m-2 0h3m1 0h3m-1 0h3m-2 0h3m-2 0h3m3 0h3m0 0h3m1 0h3m-2 0h3m-1 0h3m-1 0h3m-1 0h3m-2 0h3m0 0h3m0 0h3m-2 0h3m2 0h3m-2 0h3m-2 0h3m-2 0h3m-2 0h3m-1 0h3m6 0h3m2 0h3m-2 0h3m-2 0h3m-2 0h3m-2 0h3m6 0h3m-2 0h3m-1 0h3m-2 0h3m-2 0h3m6 0h3m2 0h3m1 0h3m10 0h3m-2 0h3m11 0h3m1 0h3m-2 0h3m12 0h3m26 0h3m4 0h3m26 0h3m20 0h3m-296 1h3m-2 0h3m8 0h3m-2 0h3m10 0h3m1 0h3m0 0h3m0 0h3m9 0h3m-2 0h3m1 0h3m7 0h3m-1 0h3m2 0h3m-1 0h3m-2 0h3m1 0h3m-1 0h3m-2 0h3m-1 0h3m-1 0h3m-2 0h3m-2 0h3m-2 0h3m-2 0h3m-1 0h3m2 0h3m-2 0h3m0 0h3m0 0h3m-2 0h3m0 0h3m0 0h3m-1 0h3m-2 0h3m4 0h3m-1 0h3m-1 0h3m-2 0h3m0 0h3m-2 0h3m-1 0h3m-1 0h3m-1 0h3m-1 0h3m1 0h3m1 0h3m-1 0h3m-2 0h3m-1 0h3m6 0h3m2 0h3m6 0h3m7 0h3m29 0h3m42 0h3m-249 1h3m2 0h3m13 0h3m0 0h3m-1 0h3m7 0h3m1 0h3m-1 0h3m-2 0h3m-1 0h3m-2 0h3m-2 0h3m0 0h3m-2 0h3m2 0h3m-2 0h3m-2 0h3m-2 0h3m-2 0h3m-1 0h3m-1 0h3m1 0h3m-2 0h3m2 0h3m-1 0h3m-2 0h3m-2 0h3m1 0h3m-2 0h3m-1 0h3m0 0h3m-1 0h3m-2 0h3m1 0h3m-2 0h3m-2 0h3m0 0h3m-1 0h3m-1 0h3m2 0h3m-2 0h3m2 0h3m7 0h3m-2 0h3m-2 0h3m-2 0h3m4 0h3m1 0h3m2 0h3m-1 0h3m-2 0h3m9 0h3m31 0h3m-2 0h3m-191 1h3m-2 0h3m17 0h3m-2 0h3m2 0h3m1 0h3m-2 0h3m3 0h3m-2 0h3m-2 0h3m-2 0h3m0 0h3m-2 0h3m-2 0h3m0 0h3m-1 0h3m5 0h3m-2 0h3m-2 0h3m0 0h3m-2 0h3m-2 0h3m1 0h3m-2 0h3m-2 0h3m-1 0h3m-1 0h3m1 0h3m-1 0h3m-2 0h3m4 0h3m-2 0h3m-1 0h3m1 0h3m2 0h3m-2 0h3m-1 0h3m0 0h3m-2 0h3m-1 0h3m-2 0h3m1 0h3m-2 0h3m0 0h3m-2 0h3m0 0h3m-2 0h3m-2 0h3m-2 0h3m26 0h3m8 0h3m22 0h3m34 0h3m7 0h3m-304 1h3m56 0h3m-1 0h3m6 0h3m4 0h3m2 0h3m-1 0h3m6 0h3m-2 0h3m-2 0h3m0 0h3m-1 0h3m-1 0h3m0 0h3m-2 0h3m-2 0h3m-2 0h3m-1 0h3m-2 0h3m-2 0h3m0 0h3m-1 0h3m-1 0h3m2 0h3m-2 0h3m2 0h3m0 0h3m-2 0h3m2 0h3m1 0h3m-2 0h3m0 0h3m-1 0h3m-1 0h3m-2 0h3m-2 0h3m-1 0h3m-2 0h3m0 0h3m-1 0h3m-2 0h3m-2 0h3m-2 0h3m5 0h3m-2 0h3m2 0h3m-2 0h3m4 0h3m-2 0h3m0 0h3m-1 0h3m2 0h3m0 0h3m-2 0h3m-2 0h3m-1 0h3m2 0h3m14 0h3m9 0h3m11 0h3m7 0h3m9 0h3m14 0h3m77 0h3m-349 1h3m25 0h3m2 0h3m-2 0h3m3 0h3m9 0h3m6 0h3m-1 0h3m5 0h3m1 0h3m-1 0h3m-2 0h3m-2 0h3m-2 0h3m-2 0h3m-1 0h3m-1 0h3m-1 0h3m-2 0h3m-2 0h3m1 0h3m-2 0h3m0 0h3m5 0h3m3 0h3m-1 0h3m2 0h3m0 0h3m-2 0h3m-1 0h3m-1 0h3m-2 0h3m-2 0h3m-2 0h3m-1 0h3m-1 0h3m2 0h3m-1 0h3m-1 0h3m-1 0h3m1 0h3m-1 0h3m1 0h3m-1 0h3m3 0h3m5 0h3m9 0h3m-2 0h3m14 0h3m0 0h3m6 0h3m37 0h3m35 0h3m33 0h3m-317 1h3m6 0h3m-1 0h3m14 0h3m8 0h3m0 0h3m11 0h3m2 0h3m-2 0h3m5 0h3m2 0h3m-1 0h3m-2 0h3m-2 0h3m-1 0h3m3 0h3m-1 0h3m4 0h3m-2 0h3m2 0h3m1 0h3m1 0h3m3 0h3m-2 0h3m0 0h3m-1 0h3m-2 0h3m-2 0h3m-2 0h3m-2 0h3m-2 0h3m-1 0h3m1 0h3m-2 0h3m-1 0h3m-2 0h3m6 0h3m-1 0h3m-2 0h3m-1 0h3m-2 0h3m8 0h3m4 0h3m3 0h3m7 0h3m24 0h3m32 0h3m5 0h3m-1 0h3m-2 0h3m68 0h3m7 0h3m-344 1h3m14 0h3m3 0h3m0 0h3m4 0h3m12 0h3m4 0h3m6 0h3m-2 0h3m0 0h3m-2 0h3m1 0h3m3 0h3m-2 0h3m0 0h3m-2 0h3m3 0h3m-2 0h3m-1 0h3m-1 0h3m0 0h3m0 0h3m-2 0h3m-2 0h3m-2 0h3m-2 0h3m5 0h3m0 0h3m-1 0h3m0 0h3m2 0h3m-2 0h3m-2 0h3m0 0h3m2 0h3m-1 0h3m-2 0h3m3 0h3m1 0h3m5 0h3m-2 0h3m6 0h3m0 0h3m2 0h3m2 0h3m2 0h3m79 0h3m28 0h3m7 0h3m-287 1h3m0 0h3m1 0h3m6 0h3m2 0h3m2 0h3m-1 0h3m-2 0h3m-1 0h3m-1 0h3m-2 0h3m0 0h3m-2 0h3m-1 0h3m-2 0h3m-2 0h3m0 0h3m-1 0h3m-2 0h3m1 0h3m2 0h3m-1 0h3m-2 0h3m-2 0h3m-2 0h3m-2 0h3m-1 0h3m2 0h3m-2 0h3m-2 0h3m-1 0h3m-2 0h3m1 0h3m-1 0h3m1 0h3m0 0h3m-2 0h3m2 0h3m-1 0h3m-1 0h3m4 0h3m-1 0h3m2 0h3m0 0h3m-2 0h3m0 0h3m-2 0h3m2 0h3m3 0h3m-1 0h3m-2 0h3m-2 0h3m-1 0h3m-2 0h3m-2 0h3m11 0h3m10 0h3m-1 0h3m-2 0h3m3 0h3m10 0h3m-2 0h3m12 0h3m17 0h3m1 0h3m0 0h3m0 0h3m-2 0h3m30 0h3m8 0h3m10 0h3m34 0h3m-359 1h3m3 0h3m32 0h3m1 0h3m4 0h3m3 0h3m-2 0h3m-1 0h3m13 0h3m1 0h3m-1 0h3m-2 0h3m-2 0h3m-2 0h3m0 0h3m6 0h3m9 0h3m0 0h3m-1 0h3m0 0h3m4 0h3m-1 0h3m-1 0h3m0 0h3m-1 0h3m-2 0h3m2 0h3m-1 0h3m4 0h3m-2 0h3m2 0h3m0 0h3m-1 0h3m-1 0h3m-1 0h3m-2 0h3m-1 0h3m7 0h3m11 0h3m5 0h3m4 0h3m14 0h3m-2 0h3m10 0h3m42 0h3m0 0h3m40 0h3m-339 1h3m24 0h3m0 0h3m0 0h3m5 0h3m-1 0h3m1 0h3m-2 0h3m-1 0h3m-2 0h3m11 0h3m-1 0h3m-2 0h3m3 0h3m-1 0h3m-2 0h3m-2 0h3m-2 0h3m-2 0h3m-1 0h3m0 0h3m3 0h3m1 0h3m0 0h3m-2 0h3m2 0h3m-1 0h3m0 0h3m1 0h3m-2 0h3m0 0h3m3 0h3m2 0h3m1 0h3m-1 0h3m0 0h3m-1 0h3m-2 0h3m0 0h3m-2 0h3m1 0h3m-1 0h3m-2 0h3m0 0h3m-2 0h3m-1 0h3m-2 0h3m-2 0h3m-1 0h3m2 0h3m15 0h3m-2 0h3m12 0h3m1 0h3m9 0h3m20 0h3m1 0h3m27 0h3m-283 1h3m13 0h3m0 0h3m2 0h3m18 0h3m6 0h3m-2 0h3m7 0h3m-2 0h3m0 0h3m0 0h3m0 0h3m-1 0h3m-1 0h3m1 0h3m3 0h3m-1 0h3m1 0h3m0 0h3m-2 0h3m-1 0h3m-2 0h3m-1 0h3m0 0h3m-2 0h3m8 0h3m-1 0h3m-2 0h3m-1 0h3m-1 0h3m-2 0h3m6 0h3m-2 0h3m0 0h3m-2 0h3m0 0h3m-2 0h3m-2 0h3m-2 0h3m-2 0h3m-1 0h3m1 0h3m-2 0h3m-2 0h3m-2 0h3m1 0h3m-1 0h3m-2 0h3m0 0h3m-1 0h3m-1 0h3m-1 0h3m9 0h3m2 0h3m18 0h3m21 0h3m10 0h3m13 0h3m36 0h3m-314 1h3m43 0h3m5 0h3m4 0h3m-2 0h3m2 0h3m2 0h3m0 0h3m-1 0h3m-1 0h3m-2 0h3m-2 0h3m-1 0h3m-2 0h3m-2 0h3m-2 0h3m1 0h3m-2 0h3m3 0h3m-2 0h3m-2 0h3m-1 0h3m-1 0h3m0 0h3m0 0h3m-2 0h3m-2 0h3m1 0h3m-1 0h3m-2 0h3m0 0h3m-1 0h3m-1 0h3m-2 0h3m-1 0h3m-2 0h3m-2 0h3m-1 0h3m2 0h3m1 0h3m-2 0h3m-1 0h3m-2 0h3m-1 0h3m-1 0h3m0 0h3m-2 0h3m3 0h3m1 0h3m5 0h3m-1 0h3m-1 0h3m1 0h3m-2 0h3m-2 0h3m-1 0h3m-2 0h3m2 0h3m0 0h3m3 0h3m-1 0h3m13 0h3m2 0h3m13 0h3m5 0h3m91 0h3m-319 1h3m14 0h3m-1 0h3m-1 0h3m0 0h3m25 0h3m-1 0h3m-2 0h3m0 0h3m-2 0h3m-1 0h3m-2 0h3m-1 0h3m-2 0h3m-2 0h3m-1 0h3m-2 0h3m3 0h3m0 0h3m1 0h3m3 0h3m-2 0h3m0 0h3m5 0h3m1 0h3m0 0h3m-1 0h3m-2 0h3m-2 0h3m-1 0h3m3 0h3m-2 0h3m-2 0h3m2 0h3m-2 0h3m3 0h3m-2 0h3m-2 0h3m2 0h3m1 0h3m3 0h3m1 0h3m-1 0h3m15 0h3m0 0h3m4 0h3m3 0h3m21 0h3m17 0h3m24 0h3m0 0h3m18 0h3m15 0h3m-2 0h3m-284 1h3m7 0h3m1 0h3m11 0h3m0 0h3m3 0h3m4 0h3m1 0h3m-1 0h3m1 0h3m0 0h3m-1 0h3m2 0h3m-2 0h3m0 0h3m-2 0h3m1 0h3m-1 0h3m-2 0h3m1 0h3m0 0h3m-1 0h3m0 0h3m5 0h3m-2 0h3m-1 0h3m3 0h3m2 0h3m-1 0h3m2 0h3m-1 0h3m-2 0h3m1 0h3m0 0h3m3 0h3m2 0h3m-2 0h3m1 0h3m0 0h3m10 0h3m-2 0h3m2 0h3m-1 0h3m8 0h3m6 0h3m17 0h3m11 0h3m12 0h3m22 0h3m2 0h3m18 0h3m-317 1h3m26 0h3m1 0h3m8 0h3m2 0h3m-1 0h3m2 0h3m5 0h3m0 0h3m-2 0h3m2 0h3m0 0h3m-2 0h3m7 0h3m-2 0h3m-1 0h3m-2 0h3m-2 0h3m-1 0h3m-2 0h3m1 0h3m0 0h3m-2 0h3m-2 0h3m-1 0h3m-2 0h3m-2 0h3m-1 0h3m1 0h3m0 0h3m0 0h3m10 0h3m-2 0h3m-2 0h3m0 0h3m-2 0h3m-2 0h3m-2 0h3m-2 0h3m4 0h3m-1 0h3m-2 0h3m-1 0h3m-2 0h3m-2 0h3m-1 0h3m-2 0h3m2 0h3m0 0h3m0 0h3m-1 0h3m-2 0h3m-2 0h3m-2 0h3m0 0h3m3 0h3m30 0h3m6 0h3m-2 0h3m56 0h3m26 0h3m-336 1h3m42 0h3m-1 0h3m3 0h3m1 0h3m-2 0h3m6 0h3m7 0h3m-2 0h3m2 0h3m-1 0h3m1 0h3m1 0h3m-2 0h3m-2 0h3m-2 0h3m-2 0h3m0 0h3m0 0h3m-2 0h3m-2 0h3m-1 0h3m-2 0h3m-2 0h3m-2 0h3m-1 0h3m-1 0h3m1 0h3m-2 0h3m0 0h3m-2 0h3m-1 0h3m-2 0h3m-2 0h3m2 0h3m-1 0h3m0 0h3m2 0h3m-1 0h3m-1 0h3m0 0h3m-2 0h3m-1 0h3m-2 0h3m-2 0h3m-2 0h3m-2 0h3m-2 0h3m-2 0h3m-1 0h3m-2 0h3m0 0h3m-2 0h3m-2 0h3m5 0h3m0 0h3m5 0h3m1 0h3m17 0h3m-1 0h3m-1 0h3m4 0h3m11 0h3m19 0h3m58 0h3m-301 1h3m-1 0h3m7 0h3m16 0h3m0 0h3m13 0h3m-1 0h3m2 0h3m-2 0h3m-1 0h3m0 0h3m2 0h3m-1 0h3m0 0h3m-1 0h3m2 0h3m4 0h3m-2 0h3m2 0h3m7 0h3m-2 0h3m4 0h3m0 0h3m-1 0h3m0 0h3m-2 0h3m2 0h3m-1 0h3m4 0h3m0 0h3m-2 0h3m-2 0h3m-1 0h3m1 0h3m-1 0h3m-1 0h3m-2 0h3m0 0h3m2 0h3m14 0h3m1 0h3m5 0h3m20 0h3m18 0h3m59 0h3m68 0h3m-380 1h3m21 0h3m15 0h3m1 0h3m9 0h3m-2 0h3m1 0h3m1 0h3m2 0h3m-2 0h3m-1 0h3m-1 0h3m-1 0h3m-1 0h3m2 0h3m-1 0h3m-2 0h3m-2 0h3m5 0h3m-1 0h3m-2 0h3m-1 0h3m1 0h3m0 0h3m-2 0h3m-1 0h3m-2 0h3m2 0h3m-1 0h3m-1 0h3m-1 0h3m-2 0h3m2 0h3m-1 0h3m-1 0h3m-2 0h3m0 0h3m-2 0h3m-2 0h3m-1 0h3m-2 0h3m0 0h3m9 0h3m-2 0h3m-2 0h3m-1 0h3m-2 0h3m-2 0h3m-2 0h3m-2 0h3m-1 0h3m-2 0h3m1 0h3m-1 0h3m-1 0h3m29 0h3m-2 0h3m8 0h3m67 0h3m31 0h3m5 0h3m-340 1h3m34 0h3m-2 0h3m9 0h3m5 0h3m5 0h3m1 0h3m-1 0h3m0 0h3m1 0h3m-2 0h3m-2 0h3m-1 0h3m-2 0h3m-1 0h3m0 0h3m2 0h3m-1 0h3m-2 0h3m5 0h3m1 0h3m1 0h3m1 0h3m-1 0h3m0 0h3m-2 0h3m-2 0h3m-2 0h3m-1 0h3m-2 0h3m1 0h3m-1 0h3m0 0h3m-2 0h3m-2 0h3m-1 0h3m-2 0h3m-2 0h3m-2 0h3m1 0h3m2 0h3m0 0h3m-2 0h3m-2 0h3m-1 0h3m-1 0h3m0 0h3m-1 0h3m0 0h3m-2 0h3m-1 0h3m1 0h3m4 0h3m1 0h3m-1 0h3m7 0h3m7 0h3m57 0h3m31 0h3m7 0h3m12 0h3m-328 1h3m12 0h3m-2 0h3m-2 0h3m12 0h3m13 0h3m-1 0h3m0 0h3m2 0h3m3 0h3m-2 0h3m1 0h3m0 0h3m-1 0h3m0 0h3m-2 0h3m-1 0h3m0 0h3m3 0h3m-1 0h3m2 0h3m1 0h3m-1 0h3m-2 0h3m-2 0h3m-2 0h3m2 0h3m-2 0h3m4 0h3m-1 0h3m-2 0h3m-2 0h3m-2 0h3m0 0h3m1 0h3m-2 0h3m-1 0h3m-2 0h3m-2 0h3m-1 0h3m-1 0h3m-2 0h3m0 0h3m2 0h3m1 0h3m-2 0h3m-2 0h3m6 0h3m0 0h3m9 0h3m-2 0h3m5 0h3m-2 0h3m1 0h3m24 0h3m19 0h3m0 0h3m0 0h3m1 0h3m-1 0h3m0 0h3m4 0h3m17 0h3m82 0h3m-373 1h3m16 0h3m9 0h3m16 0h3m-1 0h3m2 0h3m0 0h3m-1 0h3m4 0h3m0 0h3m-1 0h3m0 0h3m0 0h3m-2 0h3m-2 0h3m-2 0h3m-2 0h3m3 0h3m-1 0h3m-2 0h3m2 0h3m-2 0h3m1 0h3m-1 0h3m4 0h3m3 0h3m1 0h3m5 0h3m-2 0h3m1 0h3m-2 0h3m0 0h3m4 0h3m-2 0h3m-1 0h3m1 0h3m-1 0h3m2 0h3m0 0h3m-1 0h3m4 0h3m0 0h3m-2 0h3m6 0h3m24 0h3m0 0h3m12 0h3m21 0h3m17 0h3m50 0h3m-351 1h3m32 0h3m0 0h3m19 0h3m-2 0h3m7 0h3m-1 0h3m0 0h3m3 0h3m3 0h3m-2 0h3m0 0h3m2 0h3m2 0h3m0 0h3m-1 0h3m4 0h3m-2 0h3m6 0h3m0 0h3m-2 0h3m4 0h3m2 0h3m-1 0h3m0 0h3m3 0h3m-1 0h3m-2 0h3m-2 0h3m-2 0h3m3 0h3m5 0h3m-2 0h3m-2 0h3m-2 0h3m2 0h3m2 0h3m-2 0h3m-1 0h3m-1 0h3m5 0h3m0 0h3m-2 0h3m12 0h3m24 0h3m4 0h3m11 0h3m1 0h3m28 0h3m7 0h3m34 0h3m-321 1h3m18 0h3m-1 0h3m11 0h3m1 0h3m7 0h3m1 0h3m-1 0h3m-2 0h3m-2 0h3m6 0h3m-1 0h3m-1 0h3m-1 0h3m-2 0h3m-2 0h3m-2 0h3m-2 0h3m0 0h3m0 0h3m-2 0h3m0 0h3m0 0h3m0 0h3m1 0h3m-1 0h3m1 0h3m0 0h3m-1 0h3m-2 0h3m-2 0h3m2 0h3m-1 0h3m8 0h3m1 0h3m0 0h3m-1 0h3m-2 0h3m-1 0h3m-1 0h3m-1 0h3m-2 0h3m-2 0h3m-2 0h3m-1 0h3m-1 0h3m1 0h3m-1 0h3m-1 0h3m-1 0h3m-1 0h3m0 0h3m1 0h3m-2 0h3m4 0h3m3 0h3m13 0h3m23 0h3m12 0h3m-2 0h3m9 0h3m1 0h3m4 0h3m16 0h3m21 0h3m-335 1h3m0 0h3m21 0h3m15 0h3m-2 0h3m5 0h3m2 0h3m-1 0h3m11 0h3m-1 0h3m-1 0h3m-2 0h3m4 0h3m0 0h3m-1 0h3m-2 0h3m2 0h3m3 0h3m-2 0h3m4 0h3m-1 0h3m-2 0h3m0 0h3m3 0h3m-2 0h3m-1 0h3m0 0h3m-1 0h3m0 0h3m-2 0h3m2 0h3m-2 0h3m-2 0h3m-2 0h3m-1 0h3m1 0h3m-2 0h3m0 0h3m-2 0h3m0 0h3m-1 0h3m-2 0h3m-1 0h3m-1 0h3m-1 0h3m-2 0h3m-2 0h3m7 0h3m-1 0h3m2 0h3m2 0h3m0 0h3m0 0h3m3 0h3m1 0h3m-2 0h3m17 0h3m4 0h3m21 0h3m26 0h3m-269 1h3m15 0h3m16 0h3m2 0h3m4 0h3m2 0h3m8 0h3m0 0h3m1 0h3m-1 0h3m-1 0h3m-1 0h3m-2 0h3m0 0h3m-1 0h3m-2 0h3m0 0h3m0 0h3m1 0h3m3 0h3m-2 0h3m-2 0h3m-2 0h3m-2 0h3m0 0h3m-1 0h3m-2 0h3m-1 0h3m-1 0h3m3 0h3m-1 0h3m2 0h3m-2 0h3m2 0h3m-1 0h3m-2 0h3m0 0h3m0 0h3m0 0h3m-1 0h3m-1 0h3m3 0h3m1 0h3m-1 0h3m3 0h3m1 0h3m-1 0h3m0 0h3m-1 0h3m1 0h3m-1 0h3m-2 0h3m-1 0h3m8 0h3m6 0h3m4 0h3m47 0h3m52 0h3m-1 0h3m-281 1h3m0 0h3m6 0h3m-2 0h3m-1 0h3m-1 0h3m-2 0h3m2 0h3m-2 0h3m-1 0h3m-2 0h3m2 0h3m-2 0h3m1 0h3m-2 0h3m6 0h3m3 0h3m-1 0h3m0 0h3m-2 0h3m-2 0h3m-1 0h3m-2 0h3m-2 0h3m-1 0h3m-2 0h3m1 0h3m-2 0h3m-1 0h3m2 0h3m0 0h3m1 0h3m-2 0h3m4 0h3m-2 0h3m3 0h3m1 0h3m-2 0h3m-2 0h3m-2 0h3m-2 0h3m-2 0h3m-1 0h3m-2 0h3m-1 0h3m-1 0h3m-2 0h3m1 0h3m-1 0h3m-2 0h3m3 0h3m17 0h3m1 0h3m20 0h3m18 0h3m3 0h3m41 0h3m19 0h3m25 0h3m-348 1h3m14 0h3m10 0h3m3 0h3m9 0h3m6 0h3m0 0h3m-2 0h3m1 0h3m1 0h3m0 0h3m1 0h3m-2 0h3m0 0h3m-2 0h3m-2 0h3m0 0h3m-2 0h3m1 0h3m0 0h3m-2 0h3m-2 0h3m-2 0h3m-1 0h3m6 0h3m-1 0h3m-2 0h3m-1 0h3m-2 0h3m-1 0h3m-2 0h3m1 0h3m-2 0h3m0 0h3m-2 0h3m-2 0h3m-2 0h3m-2 0h3m-2 0h3m0 0h3m0 0h3m-2 0h3m-2 0h3m1 0h3m-2 0h3m-2 0h3m-2 0h3m2 0h3m-1 0h3m0 0h3m-2 0h3m-1 0h3m-1 0h3m0 0h3m-1 0h3m-1 0h3m-2 0h3m-1 0h3m5 0h3m0 0h3m-2 0h3m-1 0h3m6 0h3m2 0h3m0 0h3m2 0h3m3 0h3m15 0h3m19 0h3m-1 0h3m-2 0h3m16 0h3m41 0h3m-307 1h3m-2 0h3m8 0h3m26 0h3m-2 0h3m-1 0h3m0 0h3m-2 0h3m-2 0h3m-2 0h3m3 0h3m1 0h3m-1 0h3m0 0h3m-2 0h3m0 0h3m0 0h3m-1 0h3m-2 0h3m0 0h3m0 0h3m-1 0h3m-2 0h3m0 0h3m-2 0h3m-1 0h3m-1 0h3m-2 0h3m-2 0h3m-1 0h3m-2 0h3m-2 0h3m0 0h3m-2 0h3m0 0h3m-2 0h3m-2 0h3m0 0h3m-2 0h3m-2 0h3m-2 0h3m0 0h3m0 0h3m8 0h3m1 0h3m-1 0h3m-2 0h3m3 0h3m-1 0h3m-1 0h3m-2 0h3m0 0h3m-2 0h3m-1 0h3m-2 0h3m3 0h3m3 0h3m-1 0h3m-1 0h3m3 0h3m5 0h3m7 0h3m7 0h3m6 0h3m51 0h3m4 0h3m14 0h3m-277 1h3m6 0h3m19 0h3m6 0h3m0 0h3m-2 0h3m-2 0h3m-2 0h3m-1 0h3m-1 0h3m2 0h3m-2 0h3m-2 0h3m0 0h3m-1 0h3m-2 0h3m4 0h3m-2 0h3m-2 0h3m-1 0h3m4 0h3m-2 0h3m1 0h3m0 0h3m-2 0h3m4 0h3m-1 0h3m1 0h3m0 0h3m1 0h3m4 0h3m-2 0h3m1 0h3m-2 0h3m-2 0h3m-1 0h3m-2 0h3m2 0h3m0 0h3m-2 0h3m-2 0h3m0 0h3m7 0h3m-1 0h3m0 0h3m5 0h3m12 0h3m0 0h3m30 0h3m1 0h3m1 0h3m39 0h3m18 0h3m5 0h3m-348 1h3m58 0h3m3 0h3m-2 0h3m5 0h3m5 0h3m-1 0h3m-2 0h3m-1 0h3m0 0h3m-2 0h3m-2 0h3m-1 0h3m-2 0h3m-1 0h3m1 0h3m-2 0h3m-1 0h3m-1 0h3m0 0h3m-2 0h3m5 0h3m-1 0h3m-2 0h3m-1 0h3m-1 0h3m-2 0h3m-2 0h3m0 0h3m6 0h3m-1 0h3m-1 0h3m2 0h3m-1 0h3m-1 0h3m6 0h3m0 0h3m4 0h3m-1 0h3m3 0h3m3 0h3m1 0h3m-1 0h3m3 0h3m4 0h3m1 0h3m22 0h3m-2 0h3m-2 0h3m24 0h3m10 0h3m1 0h3m0 0h3m-2 0h3m1 0h3m16 0h3m-2 0h3m10 0h3m41 0h3m-359 1h3m16 0h3m6 0h3m2 0h3m16 0h3m0 0h3m5 0h3m5 0h3m1 0h3m-1 0h3m4 0h3m-1 0h3m4 0h3m0 0h3m2 0h3m-2 0h3m-2 0h3m0 0h3m0 0h3m-2 0h3m-1 0h3m0 0h3m1 0h3m0 0h3m-2 0h3m-1 0h3m-1 0h3m-2 0h3m4 0h3m-1 0h3m0 0h3m-1 0h3m3 0h3m0 0h3m-2 0h3m-1 0h3m-1 0h3m-1 0h3m-2 0h3m1 0h3m2 0h3m0 0h3m-2 0h3m-1 0h3m-2 0h3m2 0h3m-1 0h3m-2 0h3m4 0h3m-2 0h3m2 0h3m10 0h3m15 0h3m-2 0h3m18 0h3m1 0h3m18 0h3m8 0h3m12 0h3m5 0h3m9 0h3m14 0h3m-1 0h3m-1 0h3m-309 1h3m7 0h3m-1 0h3m9 0h3m11 0h3m-2 0h3m-1 0h3m5 0h3m2 0h3m0 0h3m-2 0h3m-2 0h3m-1 0h3m-2 0h3m1 0h3m4 0h3m1 0h3m-2 0h3m-2 0h3m-2 0h3m3 0h3m3 0h3m-2 0h3m-2 0h3m3 0h3m-2 0h3m3 0h3m-2 0h3m-2 0h3m-1 0h3m-2 0h3m-2 0h3m1 0h3m-2 0h3m0 0h3m3 0h3m-2 0h3m-2 0h3m-1 0h3m2 0h3m0 0h3m1 0h3m-2 0h3m-2 0h3m0 0h3m0 0h3m5 0h3m-1 0h3m8 0h3m7 0h3m0 0h3m1 0h3m5 0h3m5 0h3m13 0h3m4 0h3m12 0h3m4 0h3m0 0h3m-1 0h3m120 0h3m-416 1h3m18 0h3m15 0h3m13 0h3m2 0h3m1 0h3m0 0h3m-2 0h3m-1 0h3m5 0h3m-1 0h3m3 0h3m0 0h3m0 0h3m1 0h3m0 0h3m-2 0h3m-1 0h3m-2 0h3m-1 0h3m-2 0h3m-2 0h3m7 0h3m-2 0h3m1 0h3m-1 0h3m-2 0h3m1 0h3m-2 0h3m-2 0h3m0 0h3m2 0h3m-2 0h3m-2 0h3m2 0h3m2 0h3m-2 0h3m-2 0h3m-2 0h3m0 0h3m-2 0h3m1 0h3m-1 0h3m1 0h3m-2 0h3m-2 0h3m0 0h3m0 0h3m1 0h3m1 0h3m-1 0h3m-1 0h3m-1 0h3m17 0h3m-1 0h3m4 0h3m1 0h3m-2 0h3m8 0h3m20 0h3m-2 0h3m3 0h3m-262 1h3m24 0h3m1 0h3m16 0h3m9 0h3m0 0h3m0 0h3m-2 0h3m0 0h3m0 0h3m2 0h3m-2 0h3m-2 0h3m3 0h3m2 0h3m-1 0h3m-2 0h3m0 0h3m-2 0h3m-2 0h3m3 0h3m-1 0h3m-2 0h3m-2 0h3m-2 0h3m-2 0h3m-2 0h3m0 0h3m2 0h3m-2 0h3m-1 0h3m-2 0h3m0 0h3m-1 0h3m0 0h3m-2 0h3m-2 0h3m1 0h3m-2 0h3m-1 0h3m1 0h3m-1 0h3m0 0h3m-1 0h3m-2 0h3m-2 0h3m-2 0h3m-1 0h3m-1 0h3m3 0h3m2 0h3m-2 0h3m-1 0h3m0 0h3m-1 0h3m2 0h3m18 0h3m14 0h3m0 0h3m27 0h3m36 0h3m8 0h3m27 0h3m18 0h3m-311 1h3m-1 0h3m-1 0h3m-2 0h3m2 0h3m-2 0h3m2 0h3m-1 0h3m-2 0h3m1 0h3m0 0h3m-2 0h3m1 0h3m1 0h3m4 0h3m-2 0h3m-2 0h3m3 0h3m-1 0h3m-1 0h3m7 0h3m-2 0h3m-1 0h3m-1 0h3m0 0h3m-2 0h3m7 0h3m-2 0h3m-1 0h3m2 0h3m-1 0h3m-2 0h3m-1 0h3m-1 0h3m-2 0h3m-2 0h3m-2 0h3m-2 0h3m0 0h3m-2 0h3m-2 0h3m-2 0h3m-2 0h3m2 0h3m0 0h3m-2 0h3m-2 0h3m6 0h3m-2 0h3m-1 0h3m-2 0h3m-2 0h3m-1 0h3m-2 0h3m0 0h3m-1 0h3m-2 0h3m-2 0h3m2 0h3m-1 0h3m-2 0h3m-2 0h3m30 0h3m1 0h3m0 0h3m0 0h3m11 0h3m25 0h3m2 0h3m26 0h3m70 0h3m-373 1h3m11 0h3m9 0h3m14 0h3m3 0h3m12 0h3m0 0h3m-1 0h3m0 0h3m1 0h3m-2 0h3m-2 0h3m0 0h3m0 0h3m-2 0h3m-2 0h3m-1 0h3m-2 0h3m0 0h3m-1 0h3m-1 0h3m-2 0h3m-1 0h3m-2 0h3m-1 0h3m1 0h3m-1 0h3m-2 0h3m0 0h3m6 0h3m-2 0h3m-1 0h3m0 0h3m4 0h3m-1 0h3m1 0h3m-2 0h3m-1 0h3m6 0h3m1 0h3m-2 0h3m1 0h3m5 0h3m5 0h3m-1 0h3m6 0h3m3 0h3m33 0h3m4 0h3m5 0h3m0 0h3m15 0h3m35 0h3m4 0h3m-295 1h3m4 0h3m14 0h3m1 0h3m2 0h3m2 0h3m-1 0h3m1 0h3m1 0h3m-1 0h3m-2 0h3m9 0h3m-1 0h3m-1 0h3m-2 0h3m-2 0h3m0 0h3m-1 0h3m-1 0h3m-1 0h3m2 0h3m0 0h3m-2 0h3m-1 0h3m-2 0h3m0 0h3m0 0h3m-2 0h3m5 0h3m-1 0h3m-1 0h3m-2 0h3m-1 0h3m-1 0h3m3 0h3m0 0h3m-2 0h3m-1 0h3m-2 0h3m0 0h3m0 0h3m1 0h3m3 0h3m-2 0h3m-2 0h3m2 0h3m30 0h3m14 0h3m35 0h3m123 0h3m-407 1h3m15 0h3m11 0h3m-2 0h3m-1 0h3m0 0h3m2 0h3m5 0h3m2 0h3m7 0h3m-1 0h3m-2 0h3m3 0h3m-1 0h3m-1 0h3m-1 0h3m6 0h3m-2 0h3m-2 0h3m-2 0h3m-2 0h3m3 0h3m-2 0h3m-1 0h3m-1 0h3m-1 0h3m0 0h3m3 0h3m0 0h3m-2 0h3m-1 0h3m-2 0h3m-1 0h3m-2 0h3m-1 0h3m-1 0h3m-2 0h3m8 0h3m-1 0h3m0 0h3m-1 0h3m-1 0h3m-2 0h3m-2 0h3m-2 0h3m-2 0h3m-2 0h3m-2 0h3m-2 0h3m-1 0h3m0 0h3m-1 0h3m-2 0h3m-2 0h3m0 0h3m-1 0h3m-2 0h3m-1 0h3m7 0h3m8 0h3m13 0h3m5 0h3m40 0h3m17 0h3m-1 0h3m7 0h3m1 0h3m2 0h3m5 0h3m0 0h3m4 0h3m4 0h3m-318 1h3m31 0h3m3 0h3m2 0h3m3 0h3m0 0h3m-2 0h3m2 0h3m-2 0h3m0 0h3m0 0h3m7 0h3m-2 0h3m2 0h3m-1 0h3m-2 0h3m0 0h3m0 0h3m-2 0h3m-1 0h3m-1 0h3m-2 0h3m0 0h3m-2 0h3m-2 0h3m-1 0h3m-2 0h3m-2 0h3m0 0h3m0 0h3m2 0h3m4 0h3m-2 0h3m-1 0h3m-1 0h3m-1 0h3m0 0h3m-1 0h3m-2 0h3m-1 0h3m2 0h3m5 0h3m2 0h3m-2 0h3m0 0h3m-2 0h3m0 0h3m15 0h3m5 0h3m6 0h3m3 0h3m11 0h3m10 0h3m13 0h3m6 0h3m2 0h3m10 0h3m14 0h3m36 0h3m-356 1h3m7 0h3m24 0h3m36 0h3m0 0h3m1 0h3m0 0h3m0 0h3m10 0h3m0 0h3m-2 0h3m-1 0h3m2 0h3m-1 0h3m-2 0h3m-2 0h3m1 0h3m-1 0h3m-1 0h3m-1 0h3m0 0h3m2 0h3m-2 0h3m-1 0h3m2 0h3m0 0h3m-2 0h3m-2 0h3m-2 0h3m-2 0h3m-1 0h3m-2 0h3m1 0h3m-1 0h3m-2 0h3m-2 0h3m1 0h3m-2 0h3m0 0h3m-2 0h3m-2 0h3m4 0h3m-1 0h3m1 0h3m1 0h3m22 0h3m0 0h3m9 0h3m1 0h3m23 0h3m26 0h3m0 0h3m39 0h3m-2 0h3m3 0h3m29 0h3m-341 1h3m14 0h3m1 0h3m3 0h3m6 0h3m-1 0h3m9 0h3m2 0h3m3 0h3m-1 0h3m0 0h3m-1 0h3m3 0h3m-1 0h3m0 0h3m-1 0h3m1 0h3m1 0h3m-2 0h3m-2 0h3m-2 0h3m-1 0h3m3 0h3m2 0h3m-2 0h3m-1 0h3m-2 0h3m-1 0h3m-2 0h3m-2 0h3m-1 0h3m-2 0h3m5 0h3m0 0h3m-2 0h3m-2 0h3m-1 0h3m5 0h3m-2 0h3m-1 0h3m4 0h3m8 0h3m-1 0h3m-1 0h3m0 0h3m-2 0h3m-2 0h3m6 0h3m-1 0h3m28 0h3m13 0h3m13 0h3m30 0h3m13 0h3m15 0h3m-350 1h3m73 0h3m-2 0h3m4 0h3m-2 0h3m1 0h3m-2 0h3m-2 0h3m-2 0h3m2 0h3m-1 0h3m0 0h3m0 0h3m-2 0h3m3 0h3m-2 0h3m1 0h3m2 0h3m-2 0h3m0 0h3m-2 0h3m0 0h3m0 0h3m2 0h3m0 0h3m-2 0h3m0 0h3m-1 0h3m3 0h3m6 0h3m1 0h3m-2 0h3m0 0h3m1 0h3m9 0h3m-2 0h3m-2 0h3m0 0h3m0 0h3m-1 0h3m-1 0h3m1 0h3m13 0h3m3 0h3m8 0h3m69 0h3m2 0h3m3 0h3m23 0h3m-327 1h3m0 0h3m9 0h3m2 0h3m23 0h3m7 0h3m-1 0h3m-2 0h3m-1 0h3m-1 0h3m-2 0h3m-2 0h3m1 0h3m0 0h3m-2 0h3m0 0h3m0 0h3m-1 0h3m-2 0h3m-2 0h3m-2 0h3m-1 0h3m5 0h3m4 0h3m-1 0h3m-1 0h3m3 0h3m-1 0h3m-2 0h3m0 0h3m-2 0h3m-2 0h3m-2 0h3m1 0h3m-2 0h3m-2 0h3m1 0h3m-2 0h3m-2 0h3m3 0h3m-1 0h3m0 0h3m-1 0h3m-2 0h3m7 0h3m0 0h3m5 0h3m6 0h3m1 0h3m24 0h3m17 0h3m29 0h3m17 0h3m2 0h3m23 0h3m2 0h3m0 0h3m21 0h3m-323 1h3m24 0h3m10 0h3m-2 0h3m-1 0h3m-1 0h3m2 0h3m-2 0h3m-2 0h3m6 0h3m2 0h3m3 0h3m2 0h3m-1 0h3m-2 0h3m3 0h3m0 0h3m0 0h3m-1 0h3m-2 0h3m0 0h3m-1 0h3m2 0h3m3 0h3m-2 0h3m0 0h3m-2 0h3m-1 0h3m-1 0h3m4 0h3m-2 0h3m-2 0h3m-2 0h3m-1 0h3m0 0h3m-2 0h3m1 0h3m2 0h3m0 0h3m1 0h3m1 0h3m0 0h3m16 0h3m14 0h3m31 0h3m51 0h3m19 0h3m-317 1h3m4 0h3m5 0h3m9 0h3m6 0h3m0 0h3m4 0h3m-2 0h3m-1 0h3m5 0h3m-2 0h3m3 0h3m2 0h3m-1 0h3m-1 0h3m-1 0h3m-2 0h3m-2 0h3m-2 0h3m-2 0h3m2 0h3m-2 0h3m-2 0h3m1 0h3m0 0h3m1 0h3m1 0h3m-2 0h3m-2 0h3m4 0h3m-2 0h3m2 0h3m-2 0h3m0 0h3m3 0h3m-2 0h3m-2 0h3m-1 0h3m-2 0h3m1 0h3m-2 0h3m-2 0h3m-1 0h3m-2 0h3m-1 0h3m9 0h3m3 0h3m-1 0h3m3 0h3m1 0h3m10 0h3m6 0h3m4 0h3m11 0h3m36 0h3m2 0h3m6 0h3m21 0h3m17 0h3m19 0h3m1 0h3m-331 1h3m10 0h3m-2 0h3m10 0h3m2 0h3m0 0h3m-1 0h3m2 0h3m0 0h3m1 0h3m0 0h3m-2 0h3m-2 0h3m5 0h3m-1 0h3m-2 0h3m-1 0h3m-2 0h3m-2 0h3m-2 0h3m2 0h3m-2 0h3m-2 0h3m-2 0h3m2 0h3m0 0h3m1 0h3m-1 0h3m-2 0h3m-1 0h3m-2 0h3m-1 0h3m-2 0h3m0 0h3m-2 0h3m-1 0h3m-2 0h3m-1 0h3m3 0h3m-1 0h3m-1 0h3m-2 0h3m2 0h3m0 0h3m-1 0h3m-1 0h3m2 0h3m0 0h3m5 0h3m3 0h3m9 0h3m-1 0h3m22 0h3m4 0h3m-1 0h3m1 0h3m25 0h3m-229 1h3m0 0h3m5 0h3m3 0h3m0 0h3m2 0h3m-1 0h3m-2 0h3m-2 0h3m-2 0h3m-2 0h3m4 0h3m1 0h3m1 0h3m1 0h3m0 0h3m-2 0h3m-2 0h3m-1 0h3m-1 0h3m1 0h3m0 0h3m2 0h3m-2 0h3m-1 0h3m-1 0h3m-2 0h3m-2 0h3m-2 0h3m1 0h3m-1 0h3m-2 0h3m-2 0h3m-1 0h3m4 0h3m-1 0h3m-1 0h3m-2 0h3m0 0h3m-2 0h3m-2 0h3m-2 0h3m-2 0h3m4 0h3m-2 0h3m0 0h3m-2 0h3m-1 0h3m0 0h3m-2 0h3m-2 0h3m0 0h3m7 0h3m0 0h3m0 0h3m-2 0h3m10 0h3m1 0h3m-2 0h3m3 0h3m-2 0h3m8 0h3m52 0h3m3 0h3m6 0h3m8 0h3m10 0h3m3 0h3m27 0h3m22 0h3m-327 1h3m21 0h3m-2 0h3m2 0h3m7 0h3m-2 0h3m-2 0h3m1 0h3m-1 0h3m2 0h3m-2 0h3m-1 0h3m-1 0h3m0 0h3m-1 0h3m0 0h3m-1 0h3m-2 0h3m-1 0h3m-2 0h3m-1 0h3m-1 0h3m-2 0h3m-2 0h3m-2 0h3m-2 0h3m0 0h3m-2 0h3m0 0h3m-1 0h3m5 0h3m-2 0h3m4 0h3m-2 0h3m-2 0h3m2 0h3m4 0h3m-1 0h3m-1 0h3m1 0h3m-1 0h3m2 0h3m9 0h3m0 0h3m2 0h3m3 0h3m13 0h3m9 0h3m0 0h3m5 0h3m39 0h3m37 0h3m-296 1h3m12 0h3m3 0h3m7 0h3m-1 0h3m0 0h3m-2 0h3m1 0h3m-2 0h3m-2 0h3m0 0h3m-2 0h3m-2 0h3m-1 0h3m0 0h3m-2 0h3m-2 0h3m1 0h3m-1 0h3m-1 0h3m-2 0h3m-2 0h3m0 0h3m3 0h3m-2 0h3m1 0h3m-2 0h3m-1 0h3m-2 0h3m-1 0h3m2 0h3m-1 0h3m0 0h3m-2 0h3m-1 0h3m0 0h3m0 0h3m-1 0h3m-2 0h3m-1 0h3m-1 0h3m-1 0h3m0 0h3m-1 0h3m3 0h3m-2 0h3m6 0h3m-2 0h3m5 0h3m1 0h3m26 0h3m8 0h3m2 0h3m15 0h3m2 0h3m10 0h3m1 0h3m11 0h3m23 0h3m1 0h3m-2 0h3m-279 1h3m4 0h3m14 0h3m14 0h3m-2 0h3m-1 0h3m0 0h3m-1 0h3m-1 0h3m-1 0h3m-2 0h3m0 0h3m-2 0h3m4 0h3m0 0h3m1 0h3m-1 0h3m-2 0h3m-2 0h3m18 0h3m6 0h3m-2 0h3m-1 0h3m-1 0h3m2 0h3m8 0h3m0 0h3m3 0h3m6 0h3m9 0h3m40 0h3m8 0h3m17 0h3m15 0h3m1 0h3m10 0h3m0 0h3m5 0h3m51 0h3m-395 1h3m43 0h3m9 0h3m10 0h3m4 0h3m0 0h3m0 0h3m1 0h3m3 0h3m-2 0h3m-2 0h3m2 0h3m0 0h3m-2 0h3m-2 0h3m2 0h3m0 0h3m-2 0h3m1 0h3m-1 0h3m-1 0h3m-2 0h3m-2 0h3m-2 0h3m-2 0h3m-2 0h3m2 0h3m0 0h3m-1 0h3m-2 0h3m-2 0h3m-1 0h3m-1 0h3m3 0h3m1 0h3m0 0h3m0 0h3m1 0h3m-2 0h3m-1 0h3m0 0h3m4 0h3m-1 0h3m-1 0h3m3 0h3m-2 0h3m-2 0h3m1 0h3m1 0h3m-2 0h3m7 0h3m0 0h3m-2 0h3m10 0h3m3 0h3m62 0h3m7 0h3m16 0h3m25 0h3m-282 1h3m3 0h3m-2 0h3m4 0h3m1 0h3m0 0h3m3 0h3m-2 0h3m-1 0h3m-2 0h3m3 0h3m4 0h3m-2 0h3m-2 0h3m-1 0h3m-2 0h3m0 0h3m1 0h3m1 0h3m-1 0h3m2 0h3m-2 0h3m1 0h3m-1 0h3m-2 0h3m0 0h3m-1 0h3m0 0h3m3 0h3m1 0h3m-2 0h3m0 0h3m-1 0h3m-2 0h3m-2 0h3m0 0h3m-1 0h3m0 0h3m8 0h3m-1 0h3m-2 0h3m-1 0h3m2 0h3m3 0h3m-2 0h3m17 0h3m2 0h3m40 0h3m3 0h3m5 0h3m9 0h3m14 0h3m7 0h3m-1 0h3m-315 1h3m39 0h3m2 0h3m1 0h3m10 0h3m-1 0h3m-1 0h3m4 0h3m-2 0h3m0 0h3m3 0h3m-2 0h3m4 0h3m1 0h3m-2 0h3m2 0h3m-2 0h3m-1 0h3m-1 0h3m4 0h3m-2 0h3m-2 0h3m3 0h3m-2 0h3m1 0h3m-2 0h3m-2 0h3m-2 0h3m-2 0h3m6 0h3m2 0h3m-2 0h3m-2 0h3m-2 0h3m3 0h3m0 0h3m-2 0h3m0 0h3m2 0h3m-2 0h3m3 0h3m-1 0h3m-2 0h3m-2 0h3m3 0h3m2 0h3m9 0h3m3 0h3m4 0h3m7 0h3m-2 0h3m30 0h3m20 0h3m8 0h3m30 0h3m18 0h3m0 0h3m18 0h3m-335 1h3m6 0h3m7 0h3m1 0h3m-1 0h3m1 0h3m4 0h3m-1 0h3m-2 0h3m0 0h3m6 0h3m-1 0h3m-1 0h3m4 0h3m2 0h3m4 0h3m2 0h3m2 0h3m2 0h3m-2 0h3m-1 0h3m-2 0h3m4 0h3m-2 0h3m-2 0h3m-2 0h3m-1 0h3m0 0h3m-1 0h3m-1 0h3m-2 0h3m11 0h3m-1 0h3m1 0h3m18 0h3m4 0h3m13 0h3m2 0h3m11 0h3m6 0h3m33 0h3m1 0h3m108 0h3m7 0h3m-396 1h3m28 0h3m10 0h3m10 0h3m1 0h3m-1 0h3m-2 0h3m1 0h3m0 0h3m2 0h3m-2 0h3m-1 0h3m-2 0h3m5 0h3m0 0h3m-1 0h3m1 0h3m-1 0h3m-2 0h3m0 0h3m7 0h3m-2 0h3m-1 0h3m1 0h3m4 0h3m0 0h3m-2 0h3m-1 0h3m-2 0h3m-2 0h3m-2 0h3m10 0h3m0 0h3m-1 0h3m-2 0h3m2 0h3m0 0h3m1 0h3m5 0h3m-1 0h3m1 0h3m24 0h3m32 0h3m1 0h3m8 0h3m1 0h3m1 0h3m34 0h3m24 0h3m-327 1h3m21 0h3m7 0h3m3 0h3m0 0h3m0 0h3m-2 0h3m-2 0h3m4 0h3m-1 0h3m5 0h3m-2 0h3m-1 0h3m-2 0h3m-2 0h3m1 0h3m-1 0h3m0 0h3m4 0h3m-1 0h3m0 0h3m-2 0h3m-1 0h3m-1 0h3m-2 0h3m2 0h3m-2 0h3m-1 0h3m-1 0h3m1 0h3m-2 0h3m-2 0h3m-2 0h3m-2 0h3m0 0h3m-2 0h3m-2 0h3m-2 0h3m-2 0h3m-1 0h3m-2 0h3m-1 0h3m-2 0h3m-2 0h3m-2 0h3m-2 0h3m-1 0h3m-1 0h3m1 0h3m-1 0h3m1 0h3m-2 0h3m2 0h3m11 0h3m-2 0h3m51 0h3m0 0h3m3 0h3m2 0h3m16 0h3m11 0h3m8 0h3m7 0h3m6 0h3m6 0h3m41 0h3m0 0h3m-344 1h3m4 0h3m28 0h3m0 0h3m4 0h3m-2 0h3m6 0h3m0 0h3m-1 0h3m-1 0h3m-1 0h3m-2 0h3m-2 0h3m-1 0h3m0 0h3m-2 0h3m-2 0h3m-2 0h3m-2 0h3m-2 0h3m-2 0h3m4 0h3m-2 0h3m0 0h3m4 0h3m1 0h3m-1 0h3m-2 0h3m-2 0h3m0 0h3m1 0h3m-2 0h3m-2 0h3m3 0h3m-1 0h3m0 0h3m-2 0h3m1 0h3m0 0h3m-2 0h3m0 0h3m-1 0h3m-1 0h3m3 0h3m22 0h3m-2 0h3m6 0h3m5 0h3m-1 0h3m-1 0h3m37 0h3m4 0h3m58 0h3m-286 1h3m4 0h3m1 0h3m-2 0h3m2 0h3m-1 0h3m2 0h3m8 0h3m0 0h3m-2 0h3m8 0h3m-1 0h3m-2 0h3m-1 0h3m-1 0h3m-2 0h3m-2 0h3m1 0h3m-2 0h3m-2 0h3m-1 0h3m1 0h3m-2 0h3m2 0h3m-2 0h3m-2 0h3m-2 0h3m3 0h3m-1 0h3m-2 0h3m0 0h3m-2 0h3m2 0h3m-1 0h3m2 0h3m-2 0h3m1 0h3m1 0h3m0 0h3m22 0h3m1 0h3m8 0h3m13 0h3m16 0h3m9 0h3m2 0h3m17 0h3m19 0h3m1 0h3m11 0h3m-2 0h3m-311 1h3m17 0h3m20 0h3m15 0h3m-2 0h3m-2 0h3m-1 0h3m-1 0h3m2 0h3m5 0h3m-1 0h3m-2 0h3m-1 0h3m-2 0h3m-2 0h3m-2 0h3m-2 0h3m-2 0h3m-2 0h3m1 0h3m-2 0h3m-2 0h3m-2 0h3m0 0h3m-1 0h3m1 0h3m-1 0h3m0 0h3m0 0h3m0 0h3m-2 0h3m-2 0h3m0 0h3m-1 0h3m-1 0h3m-1 0h3m0 0h3m-2 0h3m-1 0h3m-2 0h3m-2 0h3m3 0h3m1 0h3m0 0h3m5 0h3m6 0h3m3 0h3m1 0h3m8 0h3m5 0h3m20 0h3m2 0h3m48 0h3m25 0h3m24 0h3m11 0h3m-325 1h3m15 0h3m-2 0h3m2 0h3m1 0h3m9 0h3m-2 0h3m4 0h3m2 0h3m-1 0h3m1 0h3m0 0h3m-1 0h3m-1 0h3m0 0h3m1 0h3m-1 0h3m-1 0h3m-1 0h3m2 0h3m0 0h3m-1 0h3m-1 0h3m1 0h3m-1 0h3m-2 0h3m-1 0h3m-1 0h3m-2 0h3m-2 0h3m1 0h3m1 0h3m0 0h3m0 0h3m-2 0h3m0 0h3m-1 0h3m-2 0h3m-1 0h3m4 0h3m-1 0h3m22 0h3m3 0h3m-2 0h3m0 0h3m21 0h3m-1 0h3m-1 0h3m9 0h3m2 0h3m41 0h3m15 0h3m40 0h3m-336 1h3m18 0h3m4 0h3m0 0h3m-1 0h3m3 0h3m1 0h3m0 0h3m4 0h3m1 0h3m-2 0h3m1 0h3m-2 0h3m-2 0h3m0 0h3m-1 0h3m-1 0h3m-1 0h3m-2 0h3m-1 0h3m0 0h3m1 0h3m-1 0h3m-1 0h3m-2 0h3m2 0h3m-2 0h3m-2 0h3m-2 0h3m-2 0h3m-1 0h3m-2 0h3m-2 0h3m-1 0h3m-2 0h3m4 0h3m-2 0h3m-2 0h3m-2 0h3m-2 0h3m0 0h3m-2 0h3m0 0h3m6 0h3m-1 0h3m-1 0h3m12 0h3m8 0h3m1 0h3m7 0h3m22 0h3m0 0h3m6 0h3m20 0h3m15 0h3m-1 0h3m13 0h3m1 0h3m48 0h3m19 0h3m-326 1h3m19 0h3m2 0h3m-1 0h3m-1 0h3m9 0h3m-2 0h3m-2 0h3m-2 0h3m-2 0h3m-2 0h3m2 0h3m-2 0h3m-2 0h3m-2 0h3m-2 0h3m2 0h3m-2 0h3m-2 0h3m-2 0h3m-1 0h3m0 0h3m0 0h3m-2 0h3m4 0h3m-2 0h3m-2 0h3m0 0h3m1 0h3m1 0h3m-2 0h3m2 0h3m0 0h3m1 0h3m-1 0h3m-1 0h3m1 0h3m-1 0h3m4 0h3m6 0h3m0 0h3m17 0h3m55 0h3m18 0h3m-232 1h3m4 0h3m-1 0h3m7 0h3m3 0h3m-1 0h3m3 0h3m-2 0h3m-2 0h3m1 0h3m-2 0h3m-2 0h3m-2 0h3m0 0h3m-1 0h3m-2 0h3m-2 0h3m0 0h3m-1 0h3m0 0h3m-1 0h3m-1 0h3m-2 0h3m-2 0h3m-2 0h3m1 0h3m-1 0h3m-2 0h3m-2 0h3m-1 0h3m-1 0h3m-2 0h3m1 0h3m-1 0h3m-2 0h3m-1 0h3m-2 0h3m4 0h3m-1 0h3m-2 0h3m-1 0h3m0 0h3m1 0h3m-2 0h3m-2 0h3m-2 0h3m1 0h3m-1 0h3m14 0h3m11 0h3m0 0h3m9 0h3m7 0h3m4 0h3m13 0h3m18 0h3m18 0h3m48 0h3m14 0h3m-327 1h3m0 0h3m2 0h3m4 0h3m0 0h3m4 0h3m3 0h3m0 0h3m1 0h3m0 0h3m-2 0h3m0 0h3m2 0h3m3 0h3m0 0h3m0 0h3m-2 0h3m4 0h3m-1 0h3m-2 0h3m-2 0h3m-2 0h3m11 0h3m0 0h3m1 0h3m-2 0h3m1 0h3m3 0h3m-2 0h3m-2 0h3m1 0h3m-1 0h3m-1 0h3m3 0h3m0 0h3m-1 0h3m8 0h3m-2 0h3m10 0h3m9 0h3m27 0h3m33 0h3m14 0h3m-259 1h3m14 0h3m0 0h3m3 0h3m-2 0h3m1 0h3m-2 0h3m3 0h3m-1 0h3m-2 0h3m-2 0h3m10 0h3m-1 0h3m-1 0h3m0 0h3m0 0h3m2 0h3m-2 0h3m4 0h3m0 0h3m1 0h3m-2 0h3m-2 0h3m-2 0h3m1 0h3m-2 0h3m-1 0h3m-2 0h3m-1 0h3m0 0h3m-2 0h3m-2 0h3m1 0h3m-2 0h3m-1 0h3m-2 0h3m0 0h3m-2 0h3m0 0h3m1 0h3m3 0h3m-2 0h3m-1 0h3m0 0h3m-1 0h3m4 0h3m-1 0h3m62 0h3m16 0h3m7 0h3m-2 0h3m17 0h3m23 0h3m-254 1h3m12 0h3m6 0h3m-2 0h3m1 0h3m-2 0h3m0 0h3m-2 0h3m-2 0h3m-2 0h3m-2 0h3m3 0h3m1 0h3m-1 0h3m-1 0h3m3 0h3m-1 0h3m-2 0h3m-2 0h3m-2 0h3m-1 0h3m1 0h3m-2 0h3m0 0h3m6 0h3m-2 0h3m-2 0h3m2 0h3m0 0h3m-1 0h3m2 0h3m-2 0h3m10 0h3m-2 0h3m5 0h3m12 0h3m2 0h3m-1 0h3m9 0h3m11 0h3m1 0h3m14 0h3m27 0h3m5 0h3m27 0h3m29 0h3m-336 1h3m12 0h3m12 0h3m5 0h3m8 0h3m-1 0h3m-2 0h3m1 0h3m10 0h3m-1 0h3m1 0h3m-1 0h3m-1 0h3m-2 0h3m-2 0h3m-2 0h3m-2 0h3m1 0h3m-2 0h3m-1 0h3m-2 0h3m8 0h3m-1 0h3m-1 0h3m-2 0h3m-2 0h3m-1 0h3m-2 0h3m-2 0h3m-2 0h3m-1 0h3m-1 0h3m-1 0h3m-2 0h3m0 0h3m-1 0h3m0 0h3m-2 0h3m-2 0h3m-1 0h3m-1 0h3m4 0h3m-2 0h3m10 0h3m5 0h3m-2 0h3m-2 0h3m-1 0h3m5 0h3m1 0h3m1 0h3m9 0h3m9 0h3m21 0h3m4 0h3m10 0h3m2 0h3m35 0h3m26 0h3m-339 1h3m39 0h3m7 0h3m-2 0h3m0 0h3m0 0h3m5 0h3m2 0h3m-1 0h3m2 0h3m-1 0h3m2 0h3m-1 0h3m-1 0h3m1 0h3m7 0h3m1 0h3m-2 0h3m5 0h3m9 0h3m-2 0h3m4 0h3m-2 0h3m-2 0h3m-1 0h3m-1 0h3m0 0h3m-2 0h3m-2 0h3m-1 0h3m-1 0h3m-2 0h3m1 0h3m28 0h3m1 0h3m5 0h3m17 0h3m24 0h3m5 0h3m25 0h3m52 0h3m2 0h3m-270 1h3m7 0h3m-2 0h3m0 0h3m-1 0h3m-2 0h3m4 0h3m1 0h3m-2 0h3m-2 0h3m2 0h3m-2 0h3m-2 0h3m-2 0h3m-1 0h3m-1 0h3m1 0h3m-2 0h3m6 0h3m2 0h3m-2 0h3m4 0h3m1 0h3m3 0h3m-2 0h3m10 0h3m2 0h3m-1 0h3m0 0h3m10 0h3m10 0h3m13 0h3m8 0h3m0 0h3m6 0h3m20 0h3m-2 0h3m23 0h3m14 0h3m-2 0h3m10 0h3m-292 1h3m17 0h3m5 0h3m-2 0h3m5 0h3m2 0h3m3 0h3m1 0h3m-2 0h3m-2 0h3m-2 0h3m0 0h3m-2 0h3m-1 0h3m-1 0h3m2 0h3m-1 0h3m1 0h3m-2 0h3m-2 0h3m-2 0h3m-1 0h3m2 0h3m1 0h3m-2 0h3m-2 0h3m-2 0h3m-2 0h3m-2 0h3m-2 0h3m-2 0h3m-2 0h3m-2 0h3m-2 0h3m-1 0h3m-2 0h3m1 0h3m-1 0h3m1 0h3m2 0h3m-2 0h3m-2 0h3m-1 0h3m-2 0h3m-1 0h3m18 0h3m28 0h3m10 0h3m0 0h3m38 0h3m20 0h3m2 0h3m5 0h3m-2 0h3m7 0h3m31 0h3m-2 0h3m-334 1h3m12 0h3m18 0h3m-1 0h3m-2 0h3m-1 0h3m21 0h3m-1 0h3m-2 0h3m0 0h3m2 0h3m-1 0h3m-2 0h3m-2 0h3m-1 0h3m1 0h3m-2 0h3m3 0h3m-1 0h3m-1 0h3m-1 0h3m0 0h3m-1 0h3m-1 0h3m-2 0h3m-2 0h3m-1 0h3m-2 0h3m1 0h3m-2 0h3m-2 0h3m-2 0h3m-2 0h3m-2 0h3m-2 0h3m-1 0h3m0 0h3m-1 0h3m2 0h3m2 0h3m25 0h3m7 0h3m13 0h3m19 0h3m16 0h3m9 0h3m-2 0h3m-2 0h3m6 0h3m-1 0h3m10 0h3m-2 0h3m5 0h3m8 0h3m17 0h3m-294 1h3m7 0h3m7 0h3m2 0h3m-1 0h3m-2 0h3m-2 0h3m3 0h3m1 0h3m0 0h3m0 0h3m2 0h3m-1 0h3m-2 0h3m-2 0h3m1 0h3m0 0h3m3 0h3m-2 0h3m4 0h3m0 0h3m-1 0h3m-2 0h3m2 0h3m0 0h3m-2 0h3m2 0h3m2 0h3m-1 0h3m2 0h3m-1 0h3m3 0h3m2 0h3m28 0h3m20 0h3m17 0h3m1 0h3m0 0h3m24 0h3m2 0h3m15 0h3m41 0h3m-349 1h3m51 0h3m20 0h3m1 0h3m-1 0h3m2 0h3m2 0h3m5 0h3m0 0h3m-1 0h3m6 0h3m8 0h3m-1 0h3m-2 0h3m-2 0h3m3 0h3m0 0h3m-2 0h3m4 0h3m-1 0h3m0 0h3m-1 0h3m1 0h3m0 0h3m1 0h3m0 0h3m11 0h3m-1 0h3m-2 0h3m2 0h3m8 0h3m7 0h3m1 0h3m46 0h3m30 0h3m36 0h3m-295 1h3m12 0h3m9 0h3m1 0h3m2 0h3m6 0h3m1 0h3m-1 0h3m-2 0h3m-2 0h3m0 0h3m-2 0h3m-1 0h3m3 0h3m-1 0h3m-2 0h3m-2 0h3m-2 0h3m4 0h3m0 0h3m-1 0h3m-2 0h3m-1 0h3m-1 0h3m-1 0h3m-2 0h3m5 0h3m5 0h3m-2 0h3m-2 0h3m1 0h3m4 0h3m-2 0h3m-2 0h3m0 0h3m-1 0h3m-2 0h3m3 0h3m0 0h3m0 0h3m21 0h3m10 0h3m0 0h3m43 0h3m71 0h3m1 0h3m-294 1h3m0 0h3m2 0h3m0 0h3m8 0h3m2 0h3m3 0h3m-1 0h3m-1 0h3m1 0h3m-2 0h3m0 0h3m-1 0h3m0 0h3m5 0h3m0 0h3m-2 0h3m1 0h3m0 0h3m3 0h3m4 0h3m-2 0h3m7 0h3m-1 0h3m2 0h3m1 0h3m0 0h3m5 0h3m8 0h3m16 0h3m-1 0h3m15 0h3m3 0h3m1 0h3m55 0h3m5 0h3m16 0h3m7 0h3m78 0h3m-420 1h3m28 0h3m43 0h3m-1 0h3m10 0h3m2 0h3m-1 0h3m-2 0h3m1 0h3m-1 0h3m-2 0h3m1 0h3m0 0h3m-2 0h3m1 0h3m-2 0h3m-1 0h3m-2 0h3m1 0h3m-1 0h3m-2 0h3m4 0h3m0 0h3m0 0h3m-1 0h3m0 0h3m3 0h3m-2 0h3m0 0h3m-2 0h3m-2 0h3m0 0h3m-1 0h3m-1 0h3m2 0h3m0 0h3m-2 0h3m1 0h3m0 0h3m12 0h3m9 0h3m2 0h3m-2 0h3m13 0h3m89 0h3m34 0h3m11 0h3m15 0h3m-321 1h3m13 0h3m-2 0h3m3 0h3m-2 0h3m6 0h3m-1 0h3m-1 0h3m6 0h3m3 0h3m-2 0h3m-2 0h3m-1 0h3m0 0h3m-2 0h3m-2 0h3m-1 0h3m2 0h3m0 0h3m-2 0h3m-2 0h3m-2 0h3m1 0h3m-2 0h3m1 0h3m-2 0h3m1 0h3m3 0h3m14 0h3m-1 0h3m-2 0h3m4 0h3m25 0h3m4 0h3m-2 0h3m20 0h3m12 0h3m13 0h3m0 0h3m4 0h3m11 0h3m7 0h3m6 0h3m30 0h3m24 0h3m5 0h3m-359 1h3m64 0h3m0 0h3m6 0h3m13 0h3m0 0h3m0 0h3m-2 0h3m-2 0h3m0 0h3m-2 0h3m0 0h3m2 0h3m5 0h3m1 0h3m-2 0h3m-2 0h3m0 0h3m4 0h3m-2 0h3m9 0h3m0 0h3m1 0h3m4 0h3m2 0h3m0 0h3m39 0h3m9 0h3m0 0h3m11 0h3m11 0h3m-2 0h3m1 0h3m-244 1h3m-1 0h3m3 0h3m2 0h3m24 0h3m1 0h3m1 0h3m-1 0h3m6 0h3m0 0h3m-1 0h3m-1 0h3m-2 0h3m1 0h3m-2 0h3m1 0h3m0 0h3m11 0h3m-2 0h3m0 0h3m-2 0h3m-1 0h3m-2 0h3m-2 0h3m0 0h3m4 0h3m12 0h3m1 0h3m6 0h3m4 0h3m23 0h3m9 0h3m24 0h3m5 0h3m-2 0h3m6 0h3m0 0h3m10 0h3m0 0h3m26 0h3m7 0h3m4 0h3m-288 1h3m10 0h3m11 0h3m6 0h3m-2 0h3m-2 0h3m-2 0h3m14 0h3m-2 0h3m-1 0h3m-2 0h3m-2 0h3m-2 0h3m-1 0h3m1 0h3m-1 0h3m1 0h3m8 0h3m-1 0h3m0 0h3m-1 0h3m1 0h3m2 0h3m3 0h3m32 0h3m42 0h3m7 0h3m-2 0h3m23 0h3m7 0h3m0 0h3m31 0h3m26 0h3m-319 1h3m5 0h3m8 0h3m-2 0h3m1 0h3m8 0h3m4 0h3m-1 0h3m3 0h3m-1 0h3m3 0h3m-2 0h3m0 0h3m-2 0h3m-2 0h3m0 0h3m-2 0h3m1 0h3m0 0h3m0 0h3m3 0h3m-2 0h3m6 0h3m1 0h3m0 0h3m7 0h3m3 0h3m29 0h3m17 0h3m13 0h3m54 0h3m34 0h3m1 0h3m11 0h3m-361 1h3m76 0h3m10 0h3m0 0h3m25 0h3m-2 0h3m2 0h3m2 0h3m-2 0h3m-1 0h3m5 0h3m-1 0h3m2 0h3m-2 0h3m-1 0h3m0 0h3m-1 0h3m-1 0h3m-1 0h3m-2 0h3m2 0h3m10 0h3m3 0h3m-1 0h3m0 0h3m2 0h3m1 0h3m4 0h3m15 0h3m16 0h3m7 0h3m0 0h3m2 0h3m14 0h3m14 0h3m0 0h3m38 0h3m16 0h3m-364 1h3m81 0h3m11 0h3m11 0h3m-2 0h3m6 0h3m1 0h3m2 0h3m10 0h3m-2 0h3m6 0h3m0 0h3m19 0h3m-1 0h3m8 0h3m1 0h3m31 0h3m19 0h3m6 0h3m30 0h3m35 0h3m10 0h3m16 0h3m8 0h3m18 0h3m-341 1h3m5 0h3m16 0h3m22 0h3m-2 0h3m3 0h3m5 0h3m4 0h3m-1 0h3m-1 0h3m0 0h3m-2 0h3m-2 0h3m2 0h3m3 0h3m11 0h3m39 0h3m26 0h3m2 0h3m-2 0h3m9 0h3m16 0h3m14 0h3m36 0h3m18 0h3m10 0h3m30 0h3m-334 1h3m26 0h3m3 0h3m1 0h3m-1 0h3m0 0h3m0 0h3m0 0h3m-2 0h3m2 0h3m-2 0h3m6 0h3m2 0h3m0 0h3m4 0h3m4 0h3m14 0h3m3 0h3m5 0h3m2 0h3m8 0h3m-2 0h3m13 0h3m13 0h3m12 0h3m7 0h3m13 0h3m-2 0h3m8 0h3m19 0h3m10 0h3m0 0h3m0 0h3m4 0h3m41 0h3m-301 1h3m4 0h3m22 0h3m-2 0h3m-1 0h3m-1 0h3m-1 0h3m-2 0h3m-1 0h3m-2 0h3m5 0h3m2 0h3m21 0h3m2 0h3m0 0h3m13 0h3m20 0h3m17 0h3m2 0h3m0 0h3m18 0h3m76 0h3m43 0h3m-317 1h3m9 0h3m0 0h3m13 0h3m0 0h3m10 0h3m1 0h3m7 0h3m-2 0h3m-1 0h3m9 0h3m2 0h3m-1 0h3m4 0h3m10 0h3m7 0h3m10 0h3m-2 0h3m4 0h3m1 0h3m23 0h3m6 0h3m15 0h3m5 0h3m66 0h3m8 0h3m11 0h3m21 0h3m-345 1h3m18 0h3m3 0h3m2 0h3m18 0h3m10 0h3m-2 0h3m20 0h3m2 0h3m1 0h3m-2 0h3m4 0h3m-2 0h3m-1 0h3m4 0h3m6 0h3m-2 0h3m13 0h3m15 0h3m1 0h3m6 0h3m1 0h3m11 0h3m22 0h3m1 0h3m39 0h3m-2 0h3m4 0h3m15 0h3m-1 0h3m4 0h3m-1 0h3m4 0h3m7 0h3m11 0h3m-300 1h3m8 0h3m2 0h3m-1 0h3m11 0h3m-2 0h3m1 0h3m4 0h3m-1 0h3m1 0h3m-1 0h3m3 0h3m22 0h3m-2 0h3m-2 0h3m8 0h3m14 0h3m0 0h3m38 0h3m20 0h3m7 0h3m9 0h3m5 0h3m57 0h3m14 0h3m25 0h3m-1 0h3m-1 0h3m-322 1h3m-2 0h3m12 0h3m7 0h3m2 0h3m7 0h3m12 0h3m-1 0h3m0 0h3m-2 0h3m-1 0h3m2 0h3m0 0h3m21 0h3m11 0h3m1 0h3m2 0h3m17 0h3m11 0h3m75 0h3m7 0h3m34 0h3m5 0h3m2 0h3m-305 1h3m9 0h3m22 0h3m5 0h3m11 0h3m2 0h3m-2 0h3m0 0h3m3 0h3m0 0h3m-2 0h3m-2 0h3m5 0h3m4 0h3m1 0h3m-2 0h3m0 0h3m17 0h3m2 0h3m72 0h3m10 0h3m17 0h3m7 0h3m23 0h3m7 0h3m10 0h3m10 0h3m0 0h3m17 0h3m-289 1h3m7 0h3m2 0h3m2 0h3m-1 0h3m5 0h3m4 0h3m15 0h3m2 0h3m0 0h3m8 0h3m12 0h3m15 0h3m58 0h3m-2 0h3m27 0h3m9 0h3m4 0h3m3 0h3m3 0h3m6 0h3m-2 0h3m3 0h3m19 0h3m2 0h3m-299 1h3m4 0h3m-1 0h3m-2 0h3m10 0h3m9 0h3m4 0h3m-1 0h3m-2 0h3m2 0h3m2 0h3m5 0h3m-2 0h3m9 0h3m-1 0h3m-1 0h3m-2 0h3m14 0h3m8 0h3m0 0h3m1 0h3m4 0h3m11 0h3m5 0h3m-1 0h3m44 0h3m7 0h3m2 0h3m25 0h3m6 0h3m1 0h3m8 0h3m-2 0h3m1 0h3m20 0h3m-308 1h3m1 0h3m13 0h3m-2 0h3m8 0h3m2 0h3m2 0h3m-2 0h3m10 0h3m-1 0h3m5 0h3m0 0h3m-2 0h3m5 0h3m0 0h3m3 0h3m4 0h3m18 0h3m0 0h3m19 0h3m33 0h3m8 0h3m25 0h3m16 0h3m74 0h3m5 0h3m7 0h3m-305 1h3m-1 0h3m-2 0h3m-1 0h3m23 0h3m11 0h3m20 0h3m-2 0h3m14 0h3m77 0h3m7 0h3m10 0h3m10 0h3m13 0h3m1 0h3m4 0h3m7 0h3m16 0h3m-1 0h3m0 0h3m12 0h3m11 0h3m-373 1h3m35 0h3m23 0h3m2 0h3m7 0h3m5 0h3m8 0h3m2 0h3m-1 0h3m7 0h3m-2 0h3m0 0h3m-1 0h3m2 0h3m4 0h3m13 0h3m6 0h3m5 0h3m14 0h3m0 0h3m42 0h3m0 0h3m-2 0h3m24 0h3m13 0h3m-2 0h3m15 0h3m0 0h3m3 0h3m0 0h3m28 0h3m-278 1h3m6 0h3m1 0h3m5 0h3m3 0h3m-2 0h3m0 0h3m9 0h3m4 0h3m8 0h3m-2 0h3m4 0h3m-2 0h3m7 0h3m0 0h3m10 0h3m-1 0h3m1 0h3m5 0h3m15 0h3m1 0h3m66 0h3m6 0h3m1 0h3m6 0h3m12 0h3m-1 0h3m12 0h3m20 0h3m-2 0h3m3 0h3m5 0h3m-285 1h3m-2 0h3m25 0h3m10 0h3m-2 0h3m2 0h3m41 0h3m9 0h3m-1 0h3m7 0h3m44 0h3m49 0h3m8 0h3m23 0h3m66 0h3m-406 1h3m13 0h3m2 0h3m46 0h3m-1 0h3m43 0h3m5 0h3m6 0h3m-2 0h3m1 0h3m2 0h3m0 0h3m8 0h3m2 0h3m14 0h3m4 0h3m-1 0h3m11 0h3m5 0h3m-1 0h3m52 0h3m9 0h3m2 0h3m28 0h3m5 0h3m1 0h3m10 0h3m-1 0h3m21 0h3m-310 1h3m33 0h3m2 0h3m-2 0h3m13 0h3m-1 0h3m-1 0h3m11 0h3m-2 0h3m21 0h3m4 0h3m-1 0h3m18 0h3m-1 0h3m3 0h3m6 0h3m13 0h3m25 0h3m2 0h3m32 0h3m20 0h3m10 0h3m23 0h3m12 0h3m3 0h3m-321 1h3m14 0h3m2 0h3m-1 0h3m21 0h3m13 0h3m7 0h3m3 0h3m16 0h3m5 0h3m4 0h3m56 0h3m7 0h3m21 0h3m24 0h3m9 0h3m1 0h3m8 0h3m22 0h3m5 0h3m6 0h3m1 0h3m11 0h3m1 0h3m-400 1h3m80 0h3m3 0h3m32 0h3m9 0h3m9 0h3m1 0h3m-1 0h3m17 0h3m3 0h3m0 0h3m12 0h3m-2 0h3m2 0h3m3 0h3m61 0h3m27 0h3m0 0h3m0 0h3m3 0h3m16 0h3m-1 0h3m34 0h3m-2 0h3m-343 1h3m36 0h3m10 0h3m6 0h3m25 0h3m17 0h3m2 0h3m-1 0h3m6 0h3m24 0h3m-1 0h3m4 0h3m0 0h3m5 0h3m3 0h3m10 0h3m6 0h3m30 0h3m11 0h3m21 0h3m74 0h3m3 0h3m-324 1h3m25 0h3m10 0h3m2 0h3m-2 0h3m8 0h3m16 0h3m-1 0h3m5 0h3m2 0h3m1 0h3m27 0h3m97 0h3m18 0h3m13 0h3m-1 0h3m26 0h3m13 0h3m-306 1h3m11 0h3m19 0h3m8 0h3m2 0h3m11 0h3m-1 0h3m-1 0h3m-2 0h3m16 0h3m-1 0h3m8 0h3m36 0h3m1 0h3m2 0h3m9 0h3m1 0h3m-2 0h3m46 0h3m9 0h3m1 0h3m2 0h3m16 0h3m15 0h3m19 0h3m21 0h3m5 0h3m-370 1h3m78 0h3m1 0h3m6 0h3m0 0h3m4 0h3m-2 0h3m-2 0h3m4 0h3m15 0h3m5 0h3m5 0h3m11 0h3m34 0h3m-1 0h3m8 0h3m67 0h3m40 0h3m7 0h3m12 0h3m-318 1h3m7 0h3m11 0h3m38 0h3m3 0h3m3 0h3m-1 0h3m0 0h3m0 0h3m16 0h3m12 0h3m14 0h3m13 0h3m18 0h3m14 0h3m13 0h3m8 0h3m1 0h3m40 0h3m11 0h3m13 0h3m5 0h3m11 0h3m-297 1h3m14 0h3m16 0h3m16 0h3m8 0h3m29 0h3m70 0h3m40 0h3m-2 0h3m5 0h3m57 0h3m-276 1h3m29 0h3m18 0h3m80 0h3m4 0h3m1 0h3m7 0h3m44 0h3m-1 0h3m28 0h3m8 0h3m65 0h3m-404 1h3m31 0h3m46 0h3m17 0h3m2 0h3m23 0h3m-1 0h3m33 0h3m46 0h3m54 0h3m10 0h3m10 0h3m-2 0h3m18 0h3m1 0h3m18 0h3m2 0h3m8 0h3m-284 1h3m2 0h3m14 0h3m26 0h3m5 0h3m12 0h3m-1 0h3m0 0h3m24 0h3m3 0h3m-1 0h3m24 0h3m46 0h3m47 0h3m18 0h3m21 0h3m26 0h3m-376 1h3m33 0h3m1 0h3m0 0h3m17 0h3m3 0h3m4 0h3m-2 0h3m-2 0h3m24 0h3m15 0h3m6 0h3m8 0h3m38 0h3m16 0h3m46 0h3m11 0h3m18 0h3m13 0h3m11 0h3m-291 1h3m10 0h3m16 0h3m11 0h3m23 0h3m18 0h3m6 0h3m-1 0h3m-2 0h3m9 0h3m36 0h3m3 0h3m10 0h3m0 0h3m32 0h3m19 0h3m2 0h3m0 0h3m9 0h3m8 0h3m20 0h3m23 0h3m-314 1h3m17 0h3m2 0h3m-1 0h3m19 0h3m-2 0h3m4 0h3m-1 0h3m9 0h3m48 0h3m11 0h3m10 0h3m0 0h3m14 0h3m51 0h3m0 0h3m5 0h3m27 0h3m11 0h3m11 0h3m3 0h3m12 0h3m-300 1h3m8 0h3m8 0h3m18 0h3m5 0h3m43 0h3m-2 0h3m19 0h3m87 0h3m27 0h3m18 0h3m2 0h3m11 0h3m0 0h3m-2 0h3m1 0h3m-309 1h3m3 0h3m27 0h3m3 0h3m0 0h3m-1 0h3m0 0h3m0 0h3m12 0h3m7 0h3m4 0h3m30 0h3m5 0h3m45 0h3m146 0h3m-260 1h3m10 0h3m28 0h3m100 0h3m-1 0h3m8 0h3m22 0h3m0 0h3m10 0h3m33 0h3m7 0h3m-284 1h3m10 0h3m21 0h3m7 0h3m-1 0h3m14 0h3m2 0h3m38 0h3m12 0h3m3 0h3m6 0h3m-2 0h3m34 0h3m1 0h3m39 0h3m13 0h3m16 0h3m2 0h3m-303 1h3m1 0h3m2 0h3m30 0h3m24 0h3m3 0h3m1 0h3m5 0h3m1 0h3m3 0h3m36 0h3m2 0h3m-1 0h3m9 0h3m56 0h3m41 0h3m3 0h3m8 0h3m73 0h3m-344 1h3m19 0h3m23 0h3m13 0h3m-2 0h3m2 0h3m57 0h3m76 0h3m12 0h3m35 0h3m42 0h3m13 0h3m16 0h3m-341 1h3m49 0h3m4 0h3m-2 0h3m10 0h3m1 0h3m12 0h3m2 0h3m1 0h3m11 0h3m8 0h3m31 0h3m64 0h3m15 0h3m1 0h3m4 0h3m28 0h3m-2 0h3m-304 1h3m2 0h3m26 0h3m-1 0h3m-2 0h3m2 0h3m50 0h3m0 0h3m9 0h3m14 0h3m40 0h3m82 0h3m28 0h3m0 0h3m-2 0h3m-319 1h3m77 0h3m20 0h3m9 0h3m81 0h3m68 0h3m14 0h3m-2 0h3m2 0h3m27 0h3m8 0h3m32 0h3m-293 1h3m10 0h3m25 0h3m20 0h3m-1 0h3m1 0h3m0 0h3m1 0h3m34 0h3m8 0h3m-1 0h3m7 0h3m34 0h3m14 0h3m28 0h3m20 0h3m-296 1h3m14 0h3m8 0h3m81 0h3m56 0h3m6 0h3m26 0h3m6 0h3m1 0h3m22 0h3m-188 1h3m6 0h3m25 0h3m27 0h3m24 0h3m-2 0h3m2 0h3m56 0h3m13 0h3m-2 0h3m-1 0h3m27 0h3m17 0h3m-308 1h3m6 0h3m159 0h3m11 0h3m0 0h3m28 0h3m24 0h3m14 0h3m57 0h3m-327 1h3m16 0h3m32 0h3m11 0h3m61 0h3m43 0h3m73 0h3m-2 0h3m31 0h3m14 0h3m-2 0h3m-378 1h3m136 0h3m26 0h3m11 0h3m73 0h3m4 0h3m18 0h3m43 0h3m3 0h3m27 0h3m8 0h3m-376 1h3m71 0h3m75 0h3m9 0h3m90 0h3m10 0h3m15 0h3m44 0h3m14 0h3m9 0h3m12 0h3m1 0h3m-247 1h3m15 0h3m61 0h3m52 0h3m53 0h3m14 0h3m0 0h3m39 0h3m-277 1h3m50 0h3m1 0h3m4 0h3m42 0h3m58 0h3m8 0h3m51 0h3m0 0h3m14 0h3m13 0h3m-294 1h3m29 0h3m14 0h3m41 0h3m18 0h3m29 0h3m30 0h3m-2 0h3m32 0h3m21 0h3m0 0h3m3 0h3m-207 1h3m209 0h3m7 0h3m-2 0h3m-252 1h3m37 0h3m39 0h3m50 0h3m12 0h3m5 0h3m17 0h3m19 0h3m0 0h3m9 0h3m19 0h3m28 0h3m-1 0h3m12 0h3m14 0h3m-296 1h3m31 0h3m6 0h3m17 0h3m57 0h3m4 0h3m67 0h3m25 0h3m0 0h3m27 0h3m-274 1h3m-1 0h3m2 0h3m58 0h3m5 0h3m24 0h3m39 0h3m49 0h3m-2 0h3m11 0h3m48 0h3m21 0h3m-323 1h3m3 0h3m21 0h3m50 0h3m101 0h3m6 0h3m8 0h3m22 0h3m4 0h3m39 0h3m17 0h3m14 0h3m-393 1h3m3 0h3m37 0h3m6 0h3m7 0h3m6 0h3m12 0h3m-2 0h3m72 0h3m104 0h3m50 0h3m1 0h3m-1 0h3m24 0h3m-247 1h3m141 0h3m17 0h3m10 0h3m14 0h3m20 0h3m14 0h3m-278 1h3m99 0h3m-1 0h3m29 0h3m-2 0h3m4 0h3m8 0h3m34 0h3m11 0h3m29 0h3m55 0h3m-239 1h3m52 0h3m8 0h3m11 0h3m48 0h3m-2 0h3m11 0h3m43 0h3m1 0h3m27 0h3m24 0h3m-315 1h3m16 0h3m15 0h3m8 0h3m5 0h3m38 0h3m41 0h3m67 0h3m22 0h3m5 0h3m-2 0h3m8 0h3m12 0h3m27 0h3m1 0h3m-274 1h3m3 0h3m22 0h3m30 0h3m196 0h3m13 0h3m-334 1h3m19 0h3m44 0h3m7 0h3m2 0h3m45 0h3m1 0h3m25 0h3m94 0h3m36 0h3m12 0h3m-199 1h3m12 0h3m5 0h3m3 0h3m2 0h3m56 0h3m44 0h3m21 0h3m23 0h3m4 0h3m20 0h3m-415 1h3m13 0h3m25 0h3m47 0h3m5 0h3m33 0h3m5 0h3m3 0h3m14 0h3m42 0h3m52 0h3m55 0h3m-2 0h3m2 0h3m59 0h3m-310 1h3m10 0h3m29 0h3m29 0h3m6 0h3m1 0h3m50 0h3m15 0h3m31 0h3m1 0h3m-1 0h3m-1 0h3m36 0h3m-2 0h3m-1 0h3m1 0h3m39 0h3m-242 1h3m39 0h3m10 0h3m151 0h3m0 0h3m9 0h3m5 0h3m8 0h3m-241 1h3m29 0h3m62 0h3m120 0h3m21 0h3m-287 1h3m17 0h3m19 0h3m15 0h3m20 0h3m3 0h3m56 0h3m6 0h3m22 0h3m-2 0h3m19 0h3m-2 0h3m7 0h3m29 0h3m-1 0h3m23 0h3m-368 1h3m30 0h3m283 0h3m27 0h3m-259 1h3m23 0h3m-1 0h3m50 0h3m145 0h3m8 0h3m-176 1h3m2 0h3m103 0h3m17 0h3m3 0h3m5 0h3m9 0h3m14 0h3m13 0h3m29 0h3m-354 1h3m17 0h3m41 0h3m53 0h3m13 0h3m22 0h3m10 0h3m0 0h3m46 0h3m10 0h3m-2 0h3m6 0h3m20 0h3m10 0h3m11 0h3m3 0h3m4 0h3m4 0h3m46 0h3m-291 1h3m13 0h3m41 0h3m16 0h3m196 0h3m-327 1h3m17 0h3m32 0h3m55 0h3m9 0h3m33 0h3m1 0h3m58 0h3m36 0h3m72 0h3m-288 1h3m14 0h3m15 0h3m55 0h3m34 0h3m53 0h3m-2 0h3m12 0h3m14 0h3m15 0h3m39 0h3m-228 1h3m10 0h3m97 0h3m19 0h3m7 0h3m33 0h3m-287 1h3m47 0h3m13 0h3m32 0h3m26 0h3m7 0h3m15 0h3m70 0h3m12 0h3m42 0h3m44 0h3m-259 1h3m109 0h3m46 0h3m15 0h3m0 0h3m67 0h3m-324 1h3m30 0h3m142 0h3m1 0h3m134 0h3m-359 1h3m58 0h3m43 0h3m64 0h3m104 0h3m4 0h3m0 0h3m-332 1h3m72 0h3m176 0h3m44 0h3m-205 1h3m7 0h3m1 0h3m2 0h3m102 0h3m61 0h3m50 0h3m5 0h3m8 0h3m-359 1h3m62 0h3m55 0h3m29 0h3m14 0h3m9 0h3m31 0h3m12 0h3m-2 0h3m25 0h3m34 0h3m-2 0h3m18 0h3m-301 1h3m84 0h3m117 0h3m5 0h3m-2 0h3m66 0h3m7 0h3m-244 1h3m13 0h3m11 0h3m10 0h3m14 0h3m48 0h3m-1 0h3m74 0h3m15 0h3m16 0h3m8 0h3m31 0h3m-311 1h3m109 0h3m46 0h3m6 0h3m11 0h3m42 0h3m5 0h3m28 0h3m10 0h3m1 0h3m12 0h3m-352 1h3m78 0h3m9 0h3m13 0h3m65 0h3m11 0h3m19 0h3m67 0h3m1 0h3m12 0h3m39 0h3m-265 1h3m51 0h3m10 0h3m22 0h3m132 0h3m1 0h3m6 0h3m22 0h3m2 0h3m-2 0h3m22 0h3m-306 1h3m3 0h3m11 0h3m54 0h3m44 0h3m154 0h3m-309 1h3m46 0h3m29 0h3m32 0h3m37 0h3m3 0h3m63 0h3m10 0h3m15 0h3m41 0h3m-242 1h3m5 0h3m5 0h3m10 0h3m24 0h3m12 0h3m43 0h3m89 0h3m22 0h3m-293 1h3m68 0h3m32 0h3m13 0h3m66 0h3m10 0h3m-2 0h3m40 0h3m54 0h3m-196 1h3m6 0h3m6 0h3m64 0h3m7 0h3m15 0h3m24 0h3m1 0h3m-253 1h3m40 0h3m33 0h3m97 0h3m39 0h3m2 0h3m34 0h3m-247 1h3m18 0h3m5 0h3m43 0h3m11 0h3m0 0h3m10 0h3m26 0h3m6 0h3m26 0h3m79 0h3m62 0h3m-318 1h3m29 0h3m91 0h3m18 0h3m21 0h3m18 0h3m26 0h3m-1 0h3m1 0h3m-314 1h3m107 0h3m9 0h3m17 0h3m23 0h3m112 0h3m42 0h3m15 0h3m19 0h3m18 0h3m-355 1h3m13 0h3m7 0h3m0 0h3m20 0h3m52 0h3m59 0h3m34 0h3m-2 0h3m17 0h3m22 0h3m24 0h3m27 0h3m-300 1h3m29 0h3m20 0h3m19 0h3m59 0h3m-2 0h3m-1 0h3m73 0h3m35 0h3m25 0h3m10 0h3m24 0h3m-331 1h3m127 0h3m74 0h3m-63 1h3m18 0h3m29 0h3m8 0h3m8 0h3m22 0h3m9 0h3m3 0h3m-247 1h3m32 0h3m39 0h3m81 0h3m44 0h3m37 0h3m-156 1h3m26 0h3m38 0h3m80 0h3m5 0h3m10 0h3m3 0h3m-341 1h3m118 0h3m9 0h3m20 0h3m47 0h3m120 0h3m21 0h3m-350 1h3m130 0h3m91 0h3m44 0h3m5 0h3m12 0h3m8 0h3m2 0h3m-324 1h3m21 0h3m59 0h3m-1 0h3m13 0h3m215 0h3m-226 1h3m67 0h3m118 0h3m17 0h3m16 0h3m-215 1h3m16 0h3m20 0h3m0 0h3m10 1h3m24 0h3m25 0h3m28 0h3m25 0h3m31 0h3m-1 0h3m0 0h3m-1 0h3m-262 1h3m7 0h3m46 0h3m37 0h3m61 0h3m96 0h3m10 0h3m2 0h3m44 0h3m-347 1h3m22 0h3m7 0h3m1 0h3m173 0h3m11 0h3m29 0h3m-289 1h3m53 0h3m-2 0h3m51 0h3m19 0h3m-2 0h3m69 0h3m8 0h3m16 0h3m5 0h3m-1 0h3m21 0h3m22 0h3m4 0h3m-282 1h3m71 0h3m73 0h3m54 0h3m103 0h3m-353 1h3m70 0h3m13 0h3m17 0h3m-1 0h3m108 0h3m81 0h3m48 0h3m-295 1h3m24 0h3m8 0h3m62 0h3m27 0h3m19 0h3m32 0h3m42 0h3m27 0h3m-303 1h3m46 0h3m1 0h3m179 0h3m22 0h3m8 0h3m12 0h3m-243 1h3m22 0h3m33 0h3m16 0h3m4 0h3m51 0h3m53 0h3m24 0h3m0 0h3m13 0h3m41 0h3m-247 1h3m-2 0h3m17 0h3m95 0h3m38 0h3m69 0h3m-351 1h3m42 0h3m127 0h3m12 0h3m94 0h3m28 0h3m10 0h3m-266 1h3m77 0h3m18 0h3m47 0h3m6 0h3m39 0h3m3 0h3m80 0h3m-322 1h3m172 0h3m38 0h3m18 0h3m37 0h3m-138 1h3m95 0h3m2 0h3m-188 1h3m118 0h3m32 0h3m46 0h3m37 0h3m-248 1h3m34 0h3m46 0h3m74 0h3m59 0h3m7 0h3m3 0h3m-163 1h3m89 0h3m8 0h3m66 0h3m-284 1h3m10 0h3m51 0h3m114 0h3m21 0h3m2 0h3m-132 1h3m43 0h3m13 0h3m45 0h3m27 0h3m0 0h3m0 0h3m25 0h3m-221 1h3m118 0h3m96 0h3m-168 1h3m68 0h3m-98 1h3m27 0h3m10 0h3m38 0h3m33 0h3m19 0h3m-2 0h3m3 0h3m10 0h3m-234 1h3m253 0h3m17 0h3m-1 0h3m-280 1h3m80 0h3m49 0h3m25 0h3m71 0h3m-157 1h3m59 0h3m58 0h3m12 0h3m2 0h3m26 0h3m-342 1h3m133 0h3m18 0h3m92 0h3m1 0h3m28 0h3m23 0h3m17 0h3m0 0h3m-332 1h3m172 0h3m2 0h3m57 0h3m16 0h3m84 0h3m32 0h3m-351 1h3m102 0h3m-51 1h3m82 0h3m52 0h3m83 0h3m0 0h3m24 0h3m33 0h3m-339 1h3m133 0h3m31 0h3m18 0h3m0 0h3m14 0h3m46 0h3m-304 1h3m94 0h3m0 0h3m29 0h3m-71 1h3m29 0h3m91 0h3m85 0h3m0 0h3m48 0h3m33 0h3m-284 1h3m4 0h3m115 0h3m36 0h3m14 0h3m8 0h3m3 0h3m28 0h3m-261 1h3m17 0h3m6 0h3m40 0h3m-109 1h3m51 0h3m175 0h3m23 0h3m26 0h3m30 0h3m-249 1h3m13 0h3m22 0h3m53 0h3m45 0h3m28 0h3m9 0h3m14 0h3m72 0h3m-397 1h3m6 0h3m9 0h3m29 0h3m1 0h3m67 0h3m31 0h3m1 0h3m3 0h3m44 0h3m8 0h3m66 0h3m17 0h3m5 0h3m14 0h3m5 0h3m-351 1h3m57 0h3m22 0h3m39 0h3m53 0h3m49 0h3m19 0h3m28 0h3m-275 1h3m30 0h3m154 0h3m89 0h3m-1 0h3m43 0h3m1 0h3m39 0h3m-315 1h3m34 0h3m16 0h3m1 0h3m14 0h3m29 0h3m13 0h3m33 0h3m8 0h3m41 0h3m51 0h3m-295 1h3m11 0h3m44 0h3m49 0h3m138 0h3m15 0h3m-240 1h3m5 0h3m23 0h3m27 0h3m130 0h3m-294 1h3m67 0h3m39 0h3m15 0h3m69 0h3m2 0h3m88 0h3m-223 1h3m8 0h3m66 0h3m42 0h3m61 0h3m85 0h3m11 0h3m17 0h3m-345 1h3m91 0h3m170 0h3m33 0h3m-112 1h3m93 0h3m-311 1h3m22 0h3m47 0h3m43 0h3m1 0h3m75 0h3m4 0h3m56 0h3m13 0h3m28 0h3m42 0h3m2 0h3m-281 1h3m20 0h3m11 0h3m3 0h3m105 0h3m-123 1h3m33 0h3m29 0h3m67 0h3m-205 1h3m212 0h3m35 0h3m-304 1h3m8 0h3m12 0h3m46 0h3m24 0h3m174 0h3m35 0h3m36 0h3m-242 1h3m137 0h3m28 0h3m-226 1h3m87 0h3m10 0h3m38 0h3m24 0h3m70 0h3m4 0h3m-387 1h3m114 0h3m2 0h3m3 0h3m5 0h3m51 0h3m9 0h3m20 0h3m-87 1h3m10 0h3m19 0h3m81 1h3m14 0h3m108 0h3m8 0h3m9 0h3m-385 1h3m31 0h3m13 0h3m179 0h3m-201 1h3m3 0h3m49 0h3m10 0h3m73 0h3m80 0h3m24 0h3m22 0h3m6 0h3m18 0h3m-303 1h3m37 0h3m54 0h3m62 0h3m39 0h3m-212 1h3m54 0h3m107 0h3m106 0h3m9 0h3m-288 1h3m8 0h3m7 0h3m34 0h3m12 0h3m1 0h3m11 0h3m-2 0h3m2 0h3m28 0h3m18 0h3m3 0h3m-2 0h3m2 0h3m5 0h3m3 0h3m13 0h3m50 0h3m4 0h3m-2 0h3m5 0h3m0 0h3m-1 0h3m3 0h3m10 0h3m7 0h3m10 0h3m-360 1h3m54 0h3m57 0h3m10 0h3m5 0h3m9 0h3m42 0h3m14 0h3m17 0h3m47 0h3m3 0h3m13 0h3m8 0h3m2 0h3m1 0h3m3 0h3m3 0h3m6 0h3m32 0h3m4 0h3m12 0h3m-1 0h3m1 0h3m-365 1h3m8 0h3m-1 0h3m7 0h3m10 0h3m14 0h3m25 0h3m23 0h3m17 0h3m11 0h3m0 0h3m31 0h3m29 0h3m7 0h3m1 0h3m10 0h3m7 0h3m1 0h3m11 0h3m14 0h3m0 0h3m10 0h3m2 0h3m-347 1h3m30 0h3m7 0h3m26 0h3m10 0h3m4 0h3m28 0h3m7 0h3m12 0h3m-1 0h3m1 0h3m-1 0h3m-2 0h3m-1 0h3m18 0h3m35 0h3m8 0h3m38 0h3m11 0h3m14 0h3m5 0h3m-1 0h3m21 0h3m-1 0h3m0 0h3m1 0h3m20 0h3m-397 1h3m129 0h3m13 0h3m10 0h3m5 0h3m61 0h3m4 0h3m69 0h3m15 0h3m3 0h3m5 0h3m9 0h3m3 0h3m0 0h3m15 0h3m1 0h3m-357 1h3m62 0h3m38 0h3m0 0h3m-1 0h3m0 0h3m17 0h3m54 0h3m0 0h3m12 0h3m15 0h3m6 0h3m9 0h3m6 0h3m8 0h3m30 0h3m59 0h3m-344 1h3m43 0h3m11 0h3m9 0h3m17 0h3m0 0h3m20 0h3m5 0h3m4 0h3m18 0h3m13 0h3m5 0h3m20 0h3m8 0h3m10 0h3m7 0h3m-1 0h3m3 0h3m9 0h3m15 0h3m0 0h3m2 0h3m4 0h3m6 0h3m14 0h3m-294 1h3m5 0h3m12 0h3m14 0h3m5 0h3m23 0h3m27 0h3m10 0h3m5 0h3m10 0h3m-2 0h3m69 0h3m25 0h3m10 0h3m1 0h3m1 0h3m0 0h3m-2 0h3m-1 0h3m0 0h3m22 0h3m46 0h3" stroke="#000" stroke-width="3" fill="none"/></g>
<path d="M92 119.5h1M77 120.5h1M77 121.5h1M93 121.5h1M103 122.5h1M99 123.5h1M75 125.5h1M86 125.5h1M67 126.5h1M98 126.5h1M84 127.5h1M85 127.5h1M107 127.5h1M78 128.5h1M81 129.5h1M112 129.5h1M119 129.5h1M73 130.5h1M89 130.5h1M78 131.5h1M100 131.5h1M65 132.5h1M74 132.5h1M67 134.5h1M75 135.5h1M87 135.5h1M60 136.5h1M72 136.5h1M96 136.5h1M118 136.5h1M63 137.5h1M86 137.5h1M82 139.5h1M90 139.5h1M102 139.5h1M121 140.5h1M92 141.5h1M61 142.5h1M64 142.5h1M60 143.5h1M83 143.5h1M118 143.5h1M65 144.5h1M88 144.5h1M104 144.5h1M58 145.5h1M93 145.5h1M116 145.5h1M72 146.5h1M85 146.5h1M85 147.5h1M96 147.5h1M104 147.5h1M117 147.5h1M74 148.5h1M81 148.5h1M96 149.5h1M118 150.5h1M115 151.5h1M72 152.5h1M112 152.5h1M118 152.5h1M60 153.5h1M98 153.5h1M113 153.5h1M72 155.5h1M85 155.5h1M93 155.5h1M106 155.5h1M70 158.5h1M81 158.5h1M83 159.5h1M103 159.5h1M76 160.5h1M100 162.5h1M65 163.5h1M69 163.5h1M91 163.5h1M106 163.5h1M105 165.5h1M77 166.5h1M100 167.5h1M73 170.5h1M71 171.5h1M85 171.5h1M102 172.5h1M82 173.5h1M86 174.5h1M374 100.5h1M372 101.5h1M357 103.5h1M375 104.5h1M351 106.5h1M380 106.5h1M358 108.5h1M383 109.5h1M384 109.5h1M353 110.5h1M361 110.5h1M377 110.5h1M385 111.5h1M342 112.5h1M341 113.5h1M363 113.5h1M380 113.5h1M345 115.5h1M370 116.5h1M372 116.5h1M383 116.5h1M387 116.5h1M344 117.5h1M350 117.5h1M375 118.5h1M377 119.5h1M367 120.5h1M344 121.5h1M349 121.5h1M361 121.5h1M385 121.5h1M369 124.5h1M354 125.5h1M340 126.5h1M358 126.5h1M367 127.5h1M361 128.5h1M368 128.5h1M380 128.5h1M354 129.5h1M384 129.5h1M344 130.5h1M362 130.5h1M374 130.5h1M342 132.5h1M374 132.5h1M341 133.5h1M343 133.5h1M372 133.5h1M360 134.5h1M376 134.5h1M345 135.5h1M379 135.5h1M383 136.5h1M385 136.5h1M388 136.5h1M343 137.5h1M371 137.5h1M356 138.5h1M367 139.5h1M362 141.5h1M367 141.5h1M384 141.5h1M386 141.5h1M353 142.5h1M359 142.5h1M342 143.5h1M355 143.5h1M362 144.5h1M354 146.5h1M369 146.5h1M366 147.5h1M371 147.5h1M377 147.5h1M343 148.5h1M377 148.5h1M350 149.5h1M378 149.5h1M352 150.5h1M361 150.5h1M354 155.5h1M362 156.5h1M357 157.5h1" stroke="#fff" stroke-width="1" fill="none"/>
<rect x="48.9" y="30.3" width="215.00" height="215.30" fill="none" stroke="#000" stroke-width="2"/>
<line x1="121.0" y1="30.3" x2="121.0" y2="245.6" stroke="#000" stroke-width="2"/>
<line x1="48.9" y1="181.0" x2="263.9" y2="181.0" stroke="#000" stroke-width="2"/>
<path d="M48.90 245.60v3.5M48.90 245.60h-3.5M102.65 245.60v3.5M48.90 191.78h-3.5M156.40 245.60v3.5M48.90 137.95h-3.5M210.15 245.60v3.5M48.90 84.12h-3.5M263.90 245.60v3.5M48.90 30.30h-3.5" stroke="#000" stroke-width="1.8" fill="none"/>
<rect x="290.6" y="30.6" width="215.70" height="215.00" fill="none" stroke="#000" stroke-width="2"/>
<line x1="363.9" y1="30.6" x2="363.9" y2="245.6" stroke="#000" stroke-width="2"/>
<line x1="290.6" y1="181.1" x2="506.3" y2="181.1" stroke="#000" stroke-width="2"/>
<path d="M290.60 245.60v3.5M290.60 245.60h-3.5M344.53 245.60v3.5M290.60 191.85h-3.5M398.45 245.60v3.5M290.60 138.10h-3.5M452.38 245.60v3.5M290.60 84.35h-3.5M506.30 245.60v3.5M290.60 30.60h-3.5" stroke="#000" stroke-width="1.8" fill="none"/>
<path d="M48.9 299.5V407.2H264.0" stroke="#000" stroke-width="1.8" fill="none"/>
<path d="M48.90 407.20v3.5M102.67 407.20v3.5M156.45 407.20v3.5M210.22 407.20v3.5M264.00 407.20v3.5M48.90 299.50h-3.5M48.90 353.30h-3.5M48.90 407.20h-3.5" stroke="#000" stroke-width="1.8" fill="none"/>
<path d="M290.6 299.7V407.2H506.0" stroke="#000" stroke-width="1.8" fill="none"/>
<path d="M290.60 407.20v3.5M344.45 407.20v3.5M398.30 407.20v3.5M452.15 407.20v3.5M506.00 407.20v3.5M290.60 299.70h-3.5M290.60 353.30h-3.5M290.60 407.20h-3.5" stroke="#000" stroke-width="1.8" fill="none"/>
<path d="M49.5 372.0 L50.5 380.0 L51.5 372.0 L52.5 378.0 L53.3 362.0 L53.9 367.3 L54.5 364.0 L55.4 368.7 L56.0 373.7 L56.7 370.0 L57.4 380.7 L58.0 390.0 L58.7 376.7 L59.4 379.5 L60.0 382.0 L60.7 379.6 L61.4 382.0 L62.0 384.7 L62.7 386.7 L63.4 395.4 L64.0 396.9 L64.7 399.4 L65.3 397.7 L66.0 396.8 L66.7 392.3 L67.4 392.8 L68.0 402.0 L68.7 399.4 L69.4 399.4 L70.1 401.7 L70.7 400.8 L71.3 400.6 L72.0 399.4 L72.7 400.8 L73.4 403.5 L74.1 403.0 L74.7 402.8 L75.3 404.5 L76.0 404.8 L76.7 403.6 L77.4 400.8 L78.4 401.2 L79.4 399.4 L80.1 399.8 L80.7 400.8 L81.3 398.8 L82.0 396.8 L82.7 395.8 L83.4 392.8 L84.1 394.8 L84.7 400.8 L85.8 401.9 L86.8 402.8 L87.4 403.5 L88.0 404.8 L88.7 403.8 L89.4 401.4 L90.1 399.9 L90.8 400.8 L91.8 400.1 L92.8 398.1 L93.7 394.8 L94.2 399.3 L94.8 400.8 L95.4 400.8 L96.1 402.1 L96.8 402.5 L97.4 400.8 L98.1 402.1 L98.8 401.4 L99.4 399.4 L100.1 400.1 L100.8 401.7 L101.4 402.1 L102.2 400.9 L103.0 402.0 L104.0 398.0 L105.0 394.0 L106.0 396.7 L107.0 400.0 L108.0 394.5 L109.0 392.0 L110.0 394.1 L111.0 398.0 L112.0 395.8 L113.0 390.0 L114.0 394.0 L115.0 400.0 L116.0 392.0 L117.0 388.0 L118.0 393.3 L119.0 396.0 L120.0 390.1 L121.0 385.0 L122.0 391.0 L123.0 392.0 L124.0 386.9 L125.0 386.0 L126.0 380.0 L127.0 378.0 L128.0 380.1 L129.0 374.0 L130.0 357.0 L131.0 380.0 L132.0 386.1 L133.0 392.0 L134.0 379.1 L135.0 366.0 L136.0 351.3 L137.0 344.0 L137.8 350.2 L138.5 370.0 L139.2 365.1 L140.0 348.0 L141.0 350.2 L142.0 364.0 L143.0 358.8 L144.0 344.0 L145.0 339.2 L146.0 338.0 L146.8 356.3 L147.7 362.0 L148.3 347.6 L149.0 336.0 L150.0 354.1 L151.0 360.0 L152.0 355.8 L153.0 350.0 L154.0 347.4 L155.0 352.0 L155.8 359.4 L156.6 360.0 L157.3 351.9 L158.0 339.0 L158.7 356.1 L159.4 368.0 L160.2 350.5 L161.0 334.0 L161.8 351.1 L162.6 376.0 L163.3 362.0 L164.0 344.0 L164.7 349.5 L165.4 366.0 L166.2 357.7 L167.0 344.0 L167.8 353.9 L168.6 360.0 L169.3 350.8 L170.0 345.0 L170.7 359.7 L171.4 366.0 L172.4 339.2 L173.4 321.0 L174.2 337.0 L175.0 356.0 L175.8 346.7 L176.6 329.0 L177.3 342.8 L178.0 360.0 L178.7 355.0 L179.4 344.0 L180.2 353.6 L181.0 360.0 L182.0 378.2 L183.0 384.0 L183.8 380.4 L184.7 363.0 L185.7 367.6 L186.7 366.0 L187.7 372.3 L188.7 370.0 L189.7 364.1 L190.7 368.0 L191.7 377.0 L192.7 380.0 L193.7 381.6 L194.7 374.0 L195.3 377.8 L196.0 384.0 L197.0 382.6 L198.0 380.0 L198.8 383.8 L199.5 388.0 L200.1 395.1 L200.7 396.0 L201.3 387.5 L202.0 382.0 L203.0 388.2 L204.0 396.0 L205.0 399.5 L205.7 394.5 L206.3 394.0 L207.0 395.6 L207.7 398.0 L208.7 393.8 L209.7 388.0 L210.3 392.1 L211.0 389.0 L211.7 398.3 L212.4 403.5 L213.1 398.1 L213.7 394.0 L214.3 400.0 L215.0 402.0 L215.9 396.7 L216.8 394.0 L217.4 400.0 L218.0 403.5 L218.8 396.8 L219.7 392.8 L220.3 396.4 L221.0 400.8 L221.7 396.5 L222.4 395.5 L223.1 400.1 L223.7 402.1 L224.4 401.1 L225.1 398.1 L225.8 399.0 L226.4 402.1 L227.1 399.2 L227.7 396.1 L228.4 398.2 L229.1 402.1 L229.8 398.8 L230.4 395.5 L231.1 398.4 L231.7 400.8 L232.4 396.9 L233.1 396.1 L233.8 401.0 L234.4 403.5 L235.1 403.9 L235.7 404.8 L236.4 401.3 L237.1 398.1 L237.8 400.3 L238.4 404.8 L239.1 401.4 L239.8 400.1 L240.8 399.1 L241.8 400.1 L242.8 401.0 L243.8 402.8 L244.4 404.7 L245.1 405.5 L245.8 405.2 L246.4 404.0 L247.1 404.4 L247.8 404.8 L248.8 404.1 L249.8 403.5 L250.4 403.4 L251.1 402.8 L251.8 404.3 L252.5 404.8 L253.2 403.6 L253.8 402.8 L254.4 404.2 L255.1 404.8 L255.8 403.6 L256.5 402.8 L257.1 403.9 L257.8 404.8 L258.5 403.6 L259.1 401.5 L259.8 400.0 L260.5 401.4 L261.1 402.8 L261.8 404.1 L262.5 404.8 L263.1 405.8 L263.8 406.5" stroke="#000" stroke-width="2.05" fill="none" stroke-linejoin="miter" stroke-miterlimit="3"/>
<path d="M290.8 405.5 L291.6 404.0 L292.4 402.4 L293.1 396.6 L293.9 392.2 L294.4 397.5 L295.0 403.9 L295.8 404.6 L296.6 405.5 L297.3 406.2 L298.0 406.3 L299.2 406.0 L300.5 405.5 L301.2 402.7 L302.0 399.2 L302.8 395.3 L303.6 393.0 L304.2 398.5 L304.8 402.4 L305.4 395.2 L306.0 391.5 L306.8 386.5 L307.5 388.3 L308.2 393.2 L309.0 393.0 L310.0 382.8 L311.0 381.3 L311.6 393.8 L312.2 399.2 L312.9 390.7 L313.7 376.6 L314.5 390.3 L315.3 399.2 L316.1 389.2 L316.8 385.2 L317.4 385.0 L317.9 389.9 L318.5 393.2 L319.2 391.5 L319.8 390.3 L320.4 390.0 L321.2 386.5 L322.0 380.5 L322.8 370.6 L323.5 371.2 L324.3 364.1 L325.1 365.7 L325.6 378.6 L326.2 391.5 L326.8 381.6 L327.3 365.0 L327.9 362.1 L328.5 358.0 L329.1 369.2 L329.8 391.5 L330.6 386.5 L331.3 373.5 L332.1 371.3 L332.9 379.0 L333.9 381.4 L334.8 385.2 L335.4 390.6 L336.0 394.6 L336.6 382.2 L337.3 373.5 L338.0 380.0 L338.7 388.3 L339.4 393.5 L340.2 393.0 L341.0 396.7 L341.8 400.8 L342.6 400.1 L343.3 399.2 L344.1 401.8 L344.9 401.6 L345.7 398.9 L346.5 397.7 L347.1 398.6 L347.6 396.0 L348.6 391.1 L349.6 388.0 L350.3 389.7 L351.0 394.0 L351.7 389.6 L352.4 378.0 L353.0 365.9 L353.6 366.0 L354.3 379.1 L355.0 382.0 L355.7 372.6 L356.4 354.0 L357.0 367.5 L357.6 370.0 L358.6 346.0 L359.3 351.8 L360.0 370.0 L360.7 361.3 L361.4 360.0 L362.0 354.9 L362.6 342.0 L363.6 323.0 L364.3 338.6 L365.0 356.0 L365.8 348.1 L366.5 354.0 L367.2 348.7 L368.0 338.0 L368.8 353.2 L369.5 360.0 L370.5 390.0 L371.1 385.7 L371.7 370.0 L372.4 364.6 L373.0 369.0 L373.8 375.4 L374.5 388.0 L375.1 385.8 L375.7 376.0 L376.4 381.6 L377.0 395.0 L377.8 384.4 L378.5 378.0 L379.2 376.9 L380.0 377.0 L380.8 384.7 L381.5 394.0 L382.1 389.3 L382.7 384.0 L383.4 387.8 L384.0 384.0 L384.9 386.3 L385.7 386.0 L386.7 395.4 L387.7 403.0 L388.4 397.9 L389.0 392.0 L390.0 395.7 L391.0 402.0 L392.0 397.8 L393.0 394.0 L394.0 399.2 L395.0 400.0 L395.8 401.6 L396.6 400.8 L397.4 398.5 L398.1 393.8 L398.9 398.2 L399.7 402.4 L400.4 401.2 L401.2 397.7 L402.0 396.0 L402.8 393.0 L403.6 397.3 L404.4 402.4 L405.0 398.2 L405.6 393.8 L406.4 397.7 L407.2 403.9 L407.9 395.0 L408.7 385.2 L409.5 384.3 L410.3 386.8 L411.1 394.8 L411.8 399.2 L412.4 392.7 L412.9 381.3 L413.7 392.1 L414.5 394.6 L415.2 390.8 L416.0 381.3 L416.8 376.8 L417.6 382.1 L418.4 386.7 L419.2 386.8 L419.9 396.3 L420.7 402.4 L421.5 394.7 L422.3 382.1 L423.1 382.0 L423.8 382.1 L424.6 386.6 L425.4 391.5 L426.2 392.5 L427.0 393.0 L427.8 394.4 L428.5 399.2 L429.3 395.9 L430.1 386.8 L430.6 387.5 L431.2 377.4 L431.8 383.8 L432.4 394.6 L433.2 390.3 L434.0 377.4 L434.8 383.3 L435.5 394.6 L436.3 384.0 L437.1 380.5 L437.9 382.9 L438.7 379.8 L439.4 388.7 L440.2 391.5 L441.0 390.3 L441.8 393.0 L442.4 389.3 L443.0 376.6 L443.8 377.3 L444.6 380.5 L445.4 372.4 L446.1 372.7 L446.6 378.2 L447.2 388.3 L447.8 365.7 L448.3 354.0 L449.3 391.5 L450.3 350.1 L451.1 379.0 L451.8 381.7 L452.4 377.4 L453.1 364.2 L453.9 357.1 L454.4 358.3 L455.0 354.0 L455.8 353.5 L456.6 354.0 L457.1 365.1 L457.7 386.8 L458.3 377.1 L458.9 365.0 L459.5 379.3 L460.2 380.5 L460.8 373.3 L461.3 374.3 L462.3 383.7 L463.0 384.1 L463.6 372.7 L464.2 367.4 L464.8 372.7 L465.4 377.6 L465.9 380.5 L466.4 382.0 L467.0 389.9 L467.8 395.8 L468.6 395.3 L469.2 387.6 L469.8 379.0 L470.5 375.2 L471.1 361.0 L471.6 378.3 L472.2 389.9 L472.8 383.1 L473.3 377.4 L473.9 386.3 L474.5 399.2 L475.1 392.7 L475.8 380.5 L476.8 373.5 L477.6 380.1 L478.4 375.9 L479.2 381.8 L480.0 380.5 L480.6 388.9 L481.1 391.5 L481.7 383.6 L482.3 383.7 L482.9 382.5 L483.5 386.8 L484.1 393.3 L484.6 399.2 L485.1 384.3 L485.7 376.6 L486.4 385.7 L487.0 393.0 L487.6 393.3 L488.2 386.8 L488.8 390.4 L489.3 396.1 L489.9 393.5 L490.4 388.3 L491.0 387.6 L491.7 391.5 L492.4 396.9 L493.2 399.2 L494.0 394.8 L494.8 385.2 L495.6 380.5 L496.6 393.0 L497.2 395.7 L497.9 394.6 L498.5 399.0 L499.1 403.9 L499.6 402.9 L500.2 402.4 L501.0 390.9 L501.8 384.4 L502.6 389.5 L503.3 388.3 L504.1 394.9 L504.9 396.1 L505.4 401.7 L506.0 407.0" stroke="#000" stroke-width="2.05" fill="none" stroke-linejoin="miter" stroke-miterlimit="3"/>
<path d="M128.7 317.9H264.2M128.7 312.9v10M264.2 312.9v10" stroke="#000" stroke-width="1.9" fill="none"/>
<path d="M381.2 317.9H506.4M381.2 312.9v10M506.4 312.9v10" stroke="#000" stroke-width="1.9" fill="none"/>
<text x="156.1" y="16.9" font-size="22.0" text-anchor="middle" >irGFP</text>
<text x="399.4" y="17.1" font-size="22.3" text-anchor="middle" >GATA-2irGFP</text>
<text x="183.22" y="283.9" font-size="17.95" text-anchor="start" >Sca-</text>
<path d="M763 0L583 0L583 1147Q518 1085 412 1023Q306 961 222 930L222 1104Q373 1175 486 1276Q599 1377 646 1472L763 1472Z" transform="translate(220.13,283.90) scale(0.00876,-0.00876)"/>
<text x="230.11" y="283.9" font-size="17.95" text-anchor="start" >-PE Fluorescence</text>
<text x="277.9" y="447.6" font-size="18.05" text-anchor="middle" >GFP Fluorescence</text>
<text x="193.3" y="313.3" font-size="18" text-anchor="middle" >77%</text>
<text x="435.6" y="313.0" font-size="18" text-anchor="middle" >52%</text>
<text transform="translate(15,135.6) rotate(-90)" font-size="18.25" text-anchor="middle">Lin-RED670 Fluorescence</text>
<text transform="translate(15.2,352.5) rotate(-90)" font-size="17.85" text-anchor="middle">Number of Cells</text>
<path d="M763 0L583 0L583 1147Q518 1085 412 1023Q306 961 222 930L222 1104Q373 1175 486 1276Q599 1377 646 1472L763 1472Z" transform="translate(40.27,264.80) scale(0.00635,-0.00635)"/><text x="47.50" y="264.8" font-size="13">0</text><text x="56.23" y="258.80" font-size="10.5">0</text>
<path d="M763 0L583 0L583 1147Q518 1085 412 1023Q306 961 222 930L222 1104Q373 1175 486 1276Q599 1377 646 1472L763 1472Z" transform="translate(94.02,264.80) scale(0.00635,-0.00635)"/><text x="101.25" y="264.8" font-size="13">0</text><path d="M763 0L583 0L583 1147Q518 1085 412 1023Q306 961 222 930L222 1104Q373 1175 486 1276Q599 1377 646 1472L763 1472Z" transform="translate(109.98,258.80) scale(0.00513,-0.00513)"/>
<path d="M763 0L583 0L583 1147Q518 1085 412 1023Q306 961 222 930L222 1104Q373 1175 486 1276Q599 1377 646 1472L763 1472Z" transform="translate(147.77,264.80) scale(0.00635,-0.00635)"/><text x="155.00" y="264.8" font-size="13">0</text><text x="163.73" y="258.80" font-size="10.5">2</text>
<path d="M763 0L583 0L583 1147Q518 1085 412 1023Q306 961 222 930L222 1104Q373 1175 486 1276Q599 1377 646 1472L763 1472Z" transform="translate(201.52,264.80) scale(0.00635,-0.00635)"/><text x="208.75" y="264.8" font-size="13">0</text><text x="217.48" y="258.80" font-size="10.5">3</text>
<path d="M763 0L583 0L583 1147Q518 1085 412 1023Q306 961 222 930L222 1104Q373 1175 486 1276Q599 1377 646 1472L763 1472Z" transform="translate(255.27,264.80) scale(0.00635,-0.00635)"/><text x="262.50" y="264.8" font-size="13">0</text><text x="271.23" y="258.80" font-size="10.5">4</text>
<path d="M763 0L583 0L583 1147Q518 1085 412 1023Q306 961 222 930L222 1104Q373 1175 486 1276Q599 1377 646 1472L763 1472Z" transform="translate(281.97,264.80) scale(0.00635,-0.00635)"/><text x="289.20" y="264.8" font-size="13">0</text><text x="297.93" y="258.80" font-size="10.5">0</text>
<path d="M763 0L583 0L583 1147Q518 1085 412 1023Q306 961 222 930L222 1104Q373 1175 486 1276Q599 1377 646 1472L763 1472Z" transform="translate(335.90,264.80) scale(0.00635,-0.00635)"/><text x="343.12" y="264.8" font-size="13">0</text><path d="M763 0L583 0L583 1147Q518 1085 412 1023Q306 961 222 930L222 1104Q373 1175 486 1276Q599 1377 646 1472L763 1472Z" transform="translate(351.85,258.80) scale(0.00513,-0.00513)"/>
<path d="M763 0L583 0L583 1147Q518 1085 412 1023Q306 961 222 930L222 1104Q373 1175 486 1276Q599 1377 646 1472L763 1472Z" transform="translate(389.82,264.80) scale(0.00635,-0.00635)"/><text x="397.05" y="264.8" font-size="13">0</text><text x="405.78" y="258.80" font-size="10.5">2</text>
<path d="M763 0L583 0L583 1147Q518 1085 412 1023Q306 961 222 930L222 1104Q373 1175 486 1276Q599 1377 646 1472L763 1472Z" transform="translate(443.75,264.80) scale(0.00635,-0.00635)"/><text x="450.97" y="264.8" font-size="13">0</text><text x="459.70" y="258.80" font-size="10.5">3</text>
<path d="M763 0L583 0L583 1147Q518 1085 412 1023Q306 961 222 930L222 1104Q373 1175 486 1276Q599 1377 646 1472L763 1472Z" transform="translate(497.67,264.80) scale(0.00635,-0.00635)"/><text x="504.90" y="264.8" font-size="13">0</text><text x="513.63" y="258.80" font-size="10.5">4</text>
<g transform="translate(41.8,245.60) rotate(-90)"><path d="M763 0L583 0L583 1147Q518 1085 412 1023Q306 961 222 930L222 1104Q373 1175 486 1276Q599 1377 646 1472L763 1472Z" transform="translate(-10.90,0.00) scale(0.00635,-0.00635)"/><text x="-3.67" y="0" font-size="13">0</text><text x="5.06" y="-6.00" font-size="10.5">0</text></g>
<g transform="translate(41.8,191.78) rotate(-90)"><path d="M763 0L583 0L583 1147Q518 1085 412 1023Q306 961 222 930L222 1104Q373 1175 486 1276Q599 1377 646 1472L763 1472Z" transform="translate(-10.90,0.00) scale(0.00635,-0.00635)"/><text x="-3.67" y="0" font-size="13">0</text><path d="M763 0L583 0L583 1147Q518 1085 412 1023Q306 961 222 930L222 1104Q373 1175 486 1276Q599 1377 646 1472L763 1472Z" transform="translate(5.06,-6.00) scale(0.00513,-0.00513)"/></g>
<g transform="translate(41.8,137.95) rotate(-90)"><path d="M763 0L583 0L583 1147Q518 1085 412 1023Q306 961 222 930L222 1104Q373 1175 486 1276Q599 1377 646 1472L763 1472Z" transform="translate(-10.90,0.00) scale(0.00635,-0.00635)"/><text x="-3.67" y="0" font-size="13">0</text><text x="5.06" y="-6.00" font-size="10.5">2</text></g>
<g transform="translate(41.8,84.12) rotate(-90)"><path d="M763 0L583 0L583 1147Q518 1085 412 1023Q306 961 222 930L222 1104Q373 1175 486 1276Q599 1377 646 1472L763 1472Z" transform="translate(-10.90,0.00) scale(0.00635,-0.00635)"/><text x="-3.67" y="0" font-size="13">0</text><text x="5.06" y="-6.00" font-size="10.5">3</text></g>
<g transform="translate(41.8,30.30) rotate(-90)"><path d="M763 0L583 0L583 1147Q518 1085 412 1023Q306 961 222 930L222 1104Q373 1175 486 1276Q599 1377 646 1472L763 1472Z" transform="translate(-10.90,0.00) scale(0.00635,-0.00635)"/><text x="-3.67" y="0" font-size="13">0</text><text x="5.06" y="-6.00" font-size="10.5">4</text></g>
<path d="M763 0L583 0L583 1147Q518 1085 412 1023Q306 961 222 930L222 1104Q373 1175 486 1276Q599 1377 646 1472L763 1472Z" transform="translate(40.27,428.60) scale(0.00635,-0.00635)"/><text x="47.50" y="428.6" font-size="13">0</text><text x="56.23" y="422.60" font-size="10.5">0</text>
<path d="M763 0L583 0L583 1147Q518 1085 412 1023Q306 961 222 930L222 1104Q373 1175 486 1276Q599 1377 646 1472L763 1472Z" transform="translate(94.05,428.60) scale(0.00635,-0.00635)"/><text x="101.27" y="428.6" font-size="13">0</text><path d="M763 0L583 0L583 1147Q518 1085 412 1023Q306 961 222 930L222 1104Q373 1175 486 1276Q599 1377 646 1472L763 1472Z" transform="translate(110.00,422.60) scale(0.00513,-0.00513)"/>
<path d="M763 0L583 0L583 1147Q518 1085 412 1023Q306 961 222 930L222 1104Q373 1175 486 1276Q599 1377 646 1472L763 1472Z" transform="translate(147.82,428.60) scale(0.00635,-0.00635)"/><text x="155.05" y="428.6" font-size="13">0</text><text x="163.78" y="422.60" font-size="10.5">2</text>
<path d="M763 0L583 0L583 1147Q518 1085 412 1023Q306 961 222 930L222 1104Q373 1175 486 1276Q599 1377 646 1472L763 1472Z" transform="translate(201.59,428.60) scale(0.00635,-0.00635)"/><text x="208.82" y="428.6" font-size="13">0</text><text x="217.55" y="422.60" font-size="10.5">3</text>
<path d="M763 0L583 0L583 1147Q518 1085 412 1023Q306 961 222 930L222 1104Q373 1175 486 1276Q599 1377 646 1472L763 1472Z" transform="translate(255.37,428.60) scale(0.00635,-0.00635)"/><text x="262.60" y="428.6" font-size="13">0</text><text x="271.33" y="422.60" font-size="10.5">4</text>
<path d="M763 0L583 0L583 1147Q518 1085 412 1023Q306 961 222 930L222 1104Q373 1175 486 1276Q599 1377 646 1472L763 1472Z" transform="translate(281.97,428.60) scale(0.00635,-0.00635)"/><text x="289.20" y="428.6" font-size="13">0</text><text x="297.93" y="422.60" font-size="10.5">0</text>
<path d="M763 0L583 0L583 1147Q518 1085 412 1023Q306 961 222 930L222 1104Q373 1175 486 1276Q599 1377 646 1472L763 1472Z" transform="translate(335.82,428.60) scale(0.00635,-0.00635)"/><text x="343.05" y="428.6" font-size="13">0</text><path d="M763 0L583 0L583 1147Q518 1085 412 1023Q306 961 222 930L222 1104Q373 1175 486 1276Q599 1377 646 1472L763 1472Z" transform="translate(351.78,422.60) scale(0.00513,-0.00513)"/>
<path d="M763 0L583 0L583 1147Q518 1085 412 1023Q306 961 222 930L222 1104Q373 1175 486 1276Q599 1377 646 1472L763 1472Z" transform="translate(389.67,428.60) scale(0.00635,-0.00635)"/><text x="396.90" y="428.6" font-size="13">0</text><text x="405.63" y="422.60" font-size="10.5">2</text>
<path d="M763 0L583 0L583 1147Q518 1085 412 1023Q306 961 222 930L222 1104Q373 1175 486 1276Q599 1377 646 1472L763 1472Z" transform="translate(443.52,428.60) scale(0.00635,-0.00635)"/><text x="450.75" y="428.6" font-size="13">0</text><text x="459.48" y="422.60" font-size="10.5">3</text>
<path d="M763 0L583 0L583 1147Q518 1085 412 1023Q306 961 222 930L222 1104Q373 1175 486 1276Q599 1377 646 1472L763 1472Z" transform="translate(497.37,428.60) scale(0.00635,-0.00635)"/><text x="504.60" y="428.6" font-size="13">0</text><text x="513.33" y="422.60" font-size="10.5">4</text></svg>
</body></html>
